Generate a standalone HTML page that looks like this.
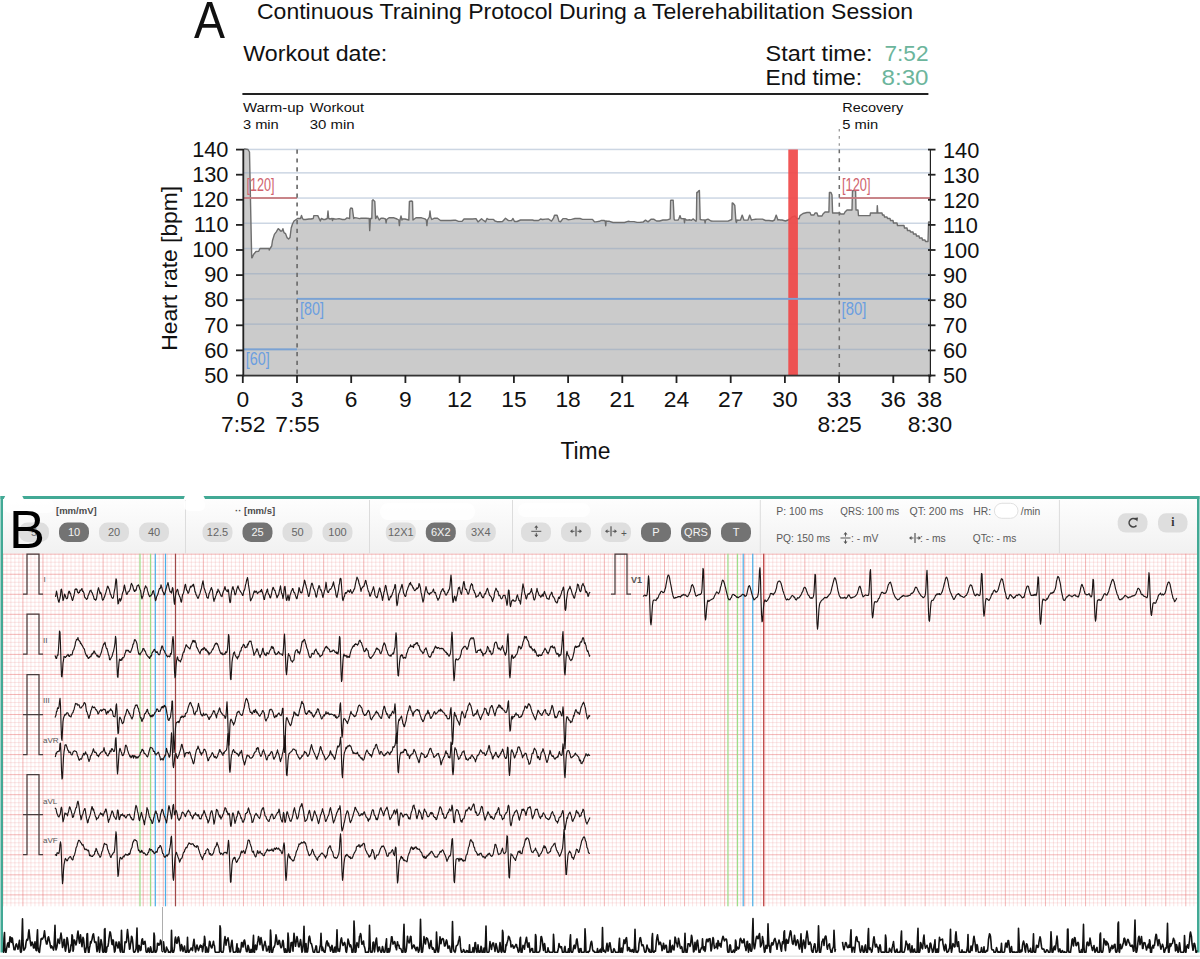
<!DOCTYPE html>
<html><head><meta charset="utf-8"><style>
html,body{margin:0;padding:0;background:#fff;}
body{width:1200px;height:959px;overflow:hidden;position:relative;}
svg{position:absolute;left:0;top:0;font-family:"Liberation Sans", sans-serif;}
</style></head><body>
<svg width="1200" height="959" viewBox="0 0 1200 959" fill="#111">
<g id="A">
<text x="194" y="38" font-size="51.5" textLength="31" lengthAdjust="spacingAndGlyphs">A</text>
<text x="257" y="18.7" font-size="22.3" textLength="656" lengthAdjust="spacingAndGlyphs">Continuous Training Protocol During a Telerehabilitation Session</text>
<text x="243.3" y="61.3" font-size="21.8" textLength="144" lengthAdjust="spacingAndGlyphs">Workout date:</text>
<text x="765.5" y="61" font-size="21.8" textLength="107" lengthAdjust="spacingAndGlyphs">Start time:</text>
<text x="884.5" y="61" font-size="21.8" fill="#6cb59c" textLength="44" lengthAdjust="spacingAndGlyphs">7:52</text>
<text x="765.5" y="85" font-size="21.8" textLength="96.5" lengthAdjust="spacingAndGlyphs">End time:</text>
<text x="881.5" y="85" font-size="21.8" fill="#6cb59c" textLength="47" lengthAdjust="spacingAndGlyphs">8:30</text>
<rect x="242.4" y="93" width="686" height="2" fill="#222"/>
<text x="242.9" y="111.6" font-size="13" textLength="61" lengthAdjust="spacingAndGlyphs">Warm-up</text>
<text x="242.9" y="129.1" font-size="13" textLength="35.9" lengthAdjust="spacingAndGlyphs">3 min</text>
<text x="309.8" y="111.6" font-size="13" textLength="54.2" lengthAdjust="spacingAndGlyphs">Workout</text>
<text x="309.8" y="129.1" font-size="13" textLength="44.9" lengthAdjust="spacingAndGlyphs">30 min</text>
<text x="842.3" y="111.6" font-size="13" textLength="61" lengthAdjust="spacingAndGlyphs">Recovery</text>
<text x="842.3" y="129.1" font-size="13" textLength="36" lengthAdjust="spacingAndGlyphs">5 min</text>
<path d="M243,375.5 L243.5,149.0 L245.0,149.0 L248.0,149.5 L249.5,152.0 L251.3,240.0 L251.7,257.7 L252.2,257.7 L253.5,254.5 L256.0,251.5 L258.7,251.2 L260.0,248.5 L269.0,248.5 L269.3,250.0 L270.0,248.5 L271.7,246.0 L272.5,240.5 L274.4,234.4 L276.3,231.8 L278.2,228.7 L279.4,229.5 L280.5,231.0 L282.0,231.0 L282.9,228.7 L284.0,232.6 L285.5,233.6 L287.0,237.6 L288.6,239.0 L290.0,237.6 L291.2,228.0 L292.5,224.0 L294.0,221.0 L296.5,219.2 L297.5,218.5 L297.5,218.5 L300.5,218.5 L301.5,215.5 L302.5,218.5 L303.5,219.5 L305.5,219.5 L309.0,219.0 L311.0,219.0 L313.3,218.5 L313.8,215.6 L317.8,215.6 L320.3,221.0 L321.3,218.5 L323.5,219.5 L325.0,219.5 L327.3,218.5 L328.0,211.0 L328.7,218.5 L330.0,219.0 L332.0,218.5 L332.5,220.6 L333.0,218.5 L333.5,218.8 L336.0,219.1 L339.0,218.6 L342.5,219.5 L345.0,219.5 L347.0,217.9 L349.6,218.5 L350.0,209.5 L350.8,208.0 L352.4,208.5 L353.7,218.5 L354.5,217.8 L356.5,217.9 L359.5,218.6 L361.0,218.2 L363.5,218.2 L366.0,218.2 L369.2,218.5 L369.7,230.6 L370.4,218.5 L371.8,218.5 L372.2,200.5 L373.0,199.8 L374.8,201.5 L375.6,218.5 L377.2,216.0 L379.2,220.0 L381.0,218.2 L383.0,218.2 L385.5,219.0 L386.1,223.0 L386.7,219.5 L389.0,217.8 L392.5,217.8 L394.0,217.8 L397.0,219.0 L398.8,220.0 L399.4,225.6 L400.0,220.0 L401.0,216.0 L402.0,220.0 L402.5,219.0 L405.0,219.0 L408.8,220.0 L409.4,201.5 L411.2,201.0 L412.5,201.5 L413.0,220.0 L416.0,217.8 L418.5,217.8 L421.5,217.8 L425.0,218.9 L426.3,220.0 L426.9,225.6 L427.5,220.0 L429.3,217.0 L430.0,211.0 L430.7,217.0 L431.8,219.5 L434.0,218.3 L437.5,218.3 L440.5,220.5 L443.5,220.5 L445.0,220.5 L447.5,220.5 L450.5,220.5 L454.0,220.2 L455.5,220.2 L458.5,221.4 L462.0,221.4 L464.0,219.0 L465.5,219.0 L468.5,219.0 L470.0,219.0 L472.5,219.0 L476.0,218.6 L478.0,221.9 L481.5,218.7 L483.0,220.0 L485.5,221.9 L487.0,218.5 L488.5,219.4 L490.0,219.4 L493.5,219.4 L495.0,221.0 L497.0,221.7 L499.5,221.7 L502.5,221.5 L505.5,218.3 L508.5,220.6 L511.5,220.6 L513.0,218.5 L514.5,221.5 L517.0,221.5 L520.5,220.0 L524.0,220.0 L527.5,220.0 L531.0,220.0 L532.5,220.0 L534.0,220.5 L537.0,220.5 L538.5,220.5 L540.5,219.0 L542.5,219.5 L545.5,219.1 L548.5,219.0 L551.5,221.1 L553.5,218.2 L554.5,215.2 L557.1,215.2 L558.1,218.2 L559.0,221.4 L560.5,221.8 L563.0,218.6 L566.0,218.6 L568.0,219.7 L571.5,219.4 L575.0,218.5 L576.5,218.5 L580.0,218.5 L582.5,219.4 L586.0,219.4 L588.0,219.4 L590.0,219.4 L592.5,219.4 L594.5,221.9 L596.0,221.9 L599.5,221.3 L601.0,220.5 L604.0,220.5 L605.2,221.0 L605.7,225.7 L606.2,221.0 L607.0,221.3 L609.5,221.3 L613.0,222.5 L615.0,222.5 L617.0,222.5 L620.0,222.5 L623.0,222.5 L624.5,222.5 L628.0,221.3 L630.5,221.6 L632.5,221.6 L634.0,221.6 L637.0,222.4 L640.5,222.3 L643.0,222.1 L645.5,220.1 L648.0,221.9 L651.0,219.3 L652.5,219.3 L654.0,219.3 L656.5,221.0 L659.5,221.0 L663.0,220.0 L666.0,220.0 L667.5,219.9 L670.2,218.8 L670.6,200.5 L671.4,200.1 L673.2,200.3 L674.1,218.8 L674.5,220.1 L678.0,220.1 L679.0,218.5 L680.0,215.6 L681.0,218.5 L684.0,218.8 L684.5,222.7 L685.0,218.8 L686.5,220.1 L690.0,219.8 L691.5,220.3 L693.0,218.9 L696.0,221.2 L696.4,219.5 L696.8,192.5 L697.4,192.5 L698.8,190.8 L699.4,190.5 L700.2,219.5 L702.0,219.9 L704.6,220.0 L705.1,223.0 L705.6,220.0 L708.0,219.1 L711.0,221.0 L713.0,221.1 L714.5,221.1 L716.5,221.1 L719.0,221.1 L721.5,221.1 L724.5,221.1 L728.0,221.1 L731.8,219.5 L732.2,203.0 L733.3,203.5 L734.8,205.5 L735.9,221.0 L736.4,222.5 L737.0,220.0 L738.0,220.3 L740.5,220.0 L742.2,215.1 L743.9,220.0 L745.0,220.1 L748.0,220.0 L749.7,215.1 L751.4,220.0 L753.0,219.6 L755.5,219.3 L757.5,219.1 L759.5,219.1 L761.0,219.1 L762.5,219.1 L765.5,220.5 L767.5,220.5 L769.0,220.5 L772.5,221.0 L774.5,220.0 L776.2,215.1 L777.9,220.0 L778.5,219.6 L780.5,220.0 L782.0,220.0 L785.5,221.0 L788.0,220.0 L790.0,219.0 L792.0,217.0 L795.0,216.0 L797.0,218.7 L799.0,218.7 L800.0,215.6 L803.0,213.5 L807.0,212.5 L810.0,212.5 L811.0,215.0 L814.0,215.0 L815.0,213.0 L817.0,213.0 L818.0,216.0 L822.0,216.0 L823.0,214.0 L825.0,212.0 L828.9,212.0 L829.4,192.5 L831.0,192.5 L832.0,195.0 L832.6,213.0 L840.0,213.0 L840.5,214.0 L844.0,214.0 L845.0,212.0 L847.0,210.0 L852.0,210.0 L852.5,190.6 L855.6,190.6 L856.0,210.0 L858.0,210.0 L858.5,215.6 L870.0,215.6 L870.5,213.0 L877.0,213.0 L877.3,205.6 L877.8,213.0 L882.0,213.0 L882.5,215.0 L884.0,215.0 L884.5,217.0 L887.0,217.0 L887.5,218.5 L890.0,218.5 L890.5,220.5 L893.0,220.5 L893.5,223.0 L897.0,223.0 L897.5,225.5 L904.0,225.5 L904.5,228.0 L907.0,228.0 L907.5,230.5 L910.0,230.5 L910.5,232.0 L913.0,232.0 L913.5,234.0 L916.0,234.0 L916.5,236.0 L919.0,236.0 L919.5,238.0 L922.0,238.0 L922.5,240.0 L925.0,240.0 L925.5,241.5 L928.0,241.5 L928.6,222.0 L930.0,222.0 L930,375.5 Z" fill="#cbcbcb"/>
<rect x="243" y="148.7" width="687" height="1.5" fill="#8ea4c0" opacity="0.45"/>
<rect x="243" y="172.1" width="687" height="1.5" fill="#8ea4c0" opacity="0.45"/>
<rect x="243" y="197.3" width="687" height="1.5" fill="#8ea4c0" opacity="0.45"/>
<rect x="243" y="222.5" width="687" height="1.5" fill="#8ea4c0" opacity="0.45"/>
<rect x="243" y="247.8" width="687" height="1.5" fill="#8ea4c0" opacity="0.45"/>
<rect x="243" y="273.0" width="687" height="1.5" fill="#8ea4c0" opacity="0.45"/>
<rect x="243" y="298.2" width="687" height="1.5" fill="#8ea4c0" opacity="0.45"/>
<rect x="243" y="323.4" width="687" height="1.5" fill="#8ea4c0" opacity="0.45"/>
<rect x="243" y="348.7" width="687" height="1.5" fill="#8ea4c0" opacity="0.45"/>
<path d="M243.5,149.0 L245.0,149.0 L248.0,149.5 L249.5,152.0 L251.3,240.0 L251.7,257.7 L252.2,257.7 L253.5,254.5 L256.0,251.5 L258.7,251.2 L260.0,248.5 L269.0,248.5 L269.3,250.0 L270.0,248.5 L271.7,246.0 L272.5,240.5 L274.4,234.4 L276.3,231.8 L278.2,228.7 L279.4,229.5 L280.5,231.0 L282.0,231.0 L282.9,228.7 L284.0,232.6 L285.5,233.6 L287.0,237.6 L288.6,239.0 L290.0,237.6 L291.2,228.0 L292.5,224.0 L294.0,221.0 L296.5,219.2 L297.5,218.5 L297.5,218.5 L300.5,218.5 L301.5,215.5 L302.5,218.5 L303.5,219.5 L305.5,219.5 L309.0,219.0 L311.0,219.0 L313.3,218.5 L313.8,215.6 L317.8,215.6 L320.3,221.0 L321.3,218.5 L323.5,219.5 L325.0,219.5 L327.3,218.5 L328.0,211.0 L328.7,218.5 L330.0,219.0 L332.0,218.5 L332.5,220.6 L333.0,218.5 L333.5,218.8 L336.0,219.1 L339.0,218.6 L342.5,219.5 L345.0,219.5 L347.0,217.9 L349.6,218.5 L350.0,209.5 L350.8,208.0 L352.4,208.5 L353.7,218.5 L354.5,217.8 L356.5,217.9 L359.5,218.6 L361.0,218.2 L363.5,218.2 L366.0,218.2 L369.2,218.5 L369.7,230.6 L370.4,218.5 L371.8,218.5 L372.2,200.5 L373.0,199.8 L374.8,201.5 L375.6,218.5 L377.2,216.0 L379.2,220.0 L381.0,218.2 L383.0,218.2 L385.5,219.0 L386.1,223.0 L386.7,219.5 L389.0,217.8 L392.5,217.8 L394.0,217.8 L397.0,219.0 L398.8,220.0 L399.4,225.6 L400.0,220.0 L401.0,216.0 L402.0,220.0 L402.5,219.0 L405.0,219.0 L408.8,220.0 L409.4,201.5 L411.2,201.0 L412.5,201.5 L413.0,220.0 L416.0,217.8 L418.5,217.8 L421.5,217.8 L425.0,218.9 L426.3,220.0 L426.9,225.6 L427.5,220.0 L429.3,217.0 L430.0,211.0 L430.7,217.0 L431.8,219.5 L434.0,218.3 L437.5,218.3 L440.5,220.5 L443.5,220.5 L445.0,220.5 L447.5,220.5 L450.5,220.5 L454.0,220.2 L455.5,220.2 L458.5,221.4 L462.0,221.4 L464.0,219.0 L465.5,219.0 L468.5,219.0 L470.0,219.0 L472.5,219.0 L476.0,218.6 L478.0,221.9 L481.5,218.7 L483.0,220.0 L485.5,221.9 L487.0,218.5 L488.5,219.4 L490.0,219.4 L493.5,219.4 L495.0,221.0 L497.0,221.7 L499.5,221.7 L502.5,221.5 L505.5,218.3 L508.5,220.6 L511.5,220.6 L513.0,218.5 L514.5,221.5 L517.0,221.5 L520.5,220.0 L524.0,220.0 L527.5,220.0 L531.0,220.0 L532.5,220.0 L534.0,220.5 L537.0,220.5 L538.5,220.5 L540.5,219.0 L542.5,219.5 L545.5,219.1 L548.5,219.0 L551.5,221.1 L553.5,218.2 L554.5,215.2 L557.1,215.2 L558.1,218.2 L559.0,221.4 L560.5,221.8 L563.0,218.6 L566.0,218.6 L568.0,219.7 L571.5,219.4 L575.0,218.5 L576.5,218.5 L580.0,218.5 L582.5,219.4 L586.0,219.4 L588.0,219.4 L590.0,219.4 L592.5,219.4 L594.5,221.9 L596.0,221.9 L599.5,221.3 L601.0,220.5 L604.0,220.5 L605.2,221.0 L605.7,225.7 L606.2,221.0 L607.0,221.3 L609.5,221.3 L613.0,222.5 L615.0,222.5 L617.0,222.5 L620.0,222.5 L623.0,222.5 L624.5,222.5 L628.0,221.3 L630.5,221.6 L632.5,221.6 L634.0,221.6 L637.0,222.4 L640.5,222.3 L643.0,222.1 L645.5,220.1 L648.0,221.9 L651.0,219.3 L652.5,219.3 L654.0,219.3 L656.5,221.0 L659.5,221.0 L663.0,220.0 L666.0,220.0 L667.5,219.9 L670.2,218.8 L670.6,200.5 L671.4,200.1 L673.2,200.3 L674.1,218.8 L674.5,220.1 L678.0,220.1 L679.0,218.5 L680.0,215.6 L681.0,218.5 L684.0,218.8 L684.5,222.7 L685.0,218.8 L686.5,220.1 L690.0,219.8 L691.5,220.3 L693.0,218.9 L696.0,221.2 L696.4,219.5 L696.8,192.5 L697.4,192.5 L698.8,190.8 L699.4,190.5 L700.2,219.5 L702.0,219.9 L704.6,220.0 L705.1,223.0 L705.6,220.0 L708.0,219.1 L711.0,221.0 L713.0,221.1 L714.5,221.1 L716.5,221.1 L719.0,221.1 L721.5,221.1 L724.5,221.1 L728.0,221.1 L731.8,219.5 L732.2,203.0 L733.3,203.5 L734.8,205.5 L735.9,221.0 L736.4,222.5 L737.0,220.0 L738.0,220.3 L740.5,220.0 L742.2,215.1 L743.9,220.0 L745.0,220.1 L748.0,220.0 L749.7,215.1 L751.4,220.0 L753.0,219.6 L755.5,219.3 L757.5,219.1 L759.5,219.1 L761.0,219.1 L762.5,219.1 L765.5,220.5 L767.5,220.5 L769.0,220.5 L772.5,221.0 L774.5,220.0 L776.2,215.1 L777.9,220.0 L778.5,219.6 L780.5,220.0 L782.0,220.0 L785.5,221.0 L788.0,220.0 L790.0,219.0 L792.0,217.0 L795.0,216.0 L797.0,218.7 L799.0,218.7 L800.0,215.6 L803.0,213.5 L807.0,212.5 L810.0,212.5 L811.0,215.0 L814.0,215.0 L815.0,213.0 L817.0,213.0 L818.0,216.0 L822.0,216.0 L823.0,214.0 L825.0,212.0 L828.9,212.0 L829.4,192.5 L831.0,192.5 L832.0,195.0 L832.6,213.0 L840.0,213.0 L840.5,214.0 L844.0,214.0 L845.0,212.0 L847.0,210.0 L852.0,210.0 L852.5,190.6 L855.6,190.6 L856.0,210.0 L858.0,210.0 L858.5,215.6 L870.0,215.6 L870.5,213.0 L877.0,213.0 L877.3,205.6 L877.8,213.0 L882.0,213.0 L882.5,215.0 L884.0,215.0 L884.5,217.0 L887.0,217.0 L887.5,218.5 L890.0,218.5 L890.5,220.5 L893.0,220.5 L893.5,223.0 L897.0,223.0 L897.5,225.5 L904.0,225.5 L904.5,228.0 L907.0,228.0 L907.5,230.5 L910.0,230.5 L910.5,232.0 L913.0,232.0 L913.5,234.0 L916.0,234.0 L916.5,236.0 L919.0,236.0 L919.5,238.0 L922.0,238.0 L922.5,240.0 L925.0,240.0 L925.5,241.5 L928.0,241.5 L928.6,222.0 L930.0,222.0" fill="none" stroke="#6e6e6e" stroke-width="1.4" stroke-linejoin="round"/>
<rect x="788.3" y="149.5" width="9.6" height="226" fill="#f04848" opacity="0.92"/>
<rect x="243" y="197.1" width="54" height="1.8" fill="#c77b7f"/>
<rect x="839.4" y="197.1" width="91" height="1.8" fill="#c77b7f"/>
<rect x="297" y="297.9" width="633" height="1.9" fill="#7aa2d4"/>
<rect x="243" y="348.4" width="54" height="1.9" fill="#7aa2d4"/>
<text x="246.5" y="190.75" font-size="17.8" fill="#d0646e" textLength="28" lengthAdjust="spacingAndGlyphs">[120]</text>
<text x="842" y="190.5" font-size="17.8" fill="#d0646e" textLength="28.5" lengthAdjust="spacingAndGlyphs">[120]</text>
<text x="300" y="314.7" font-size="17.8" fill="#6a9ee0" textLength="24" lengthAdjust="spacingAndGlyphs">[80]</text>
<text x="841.5" y="315" font-size="17.8" fill="#6a9ee0" textLength="24.9" lengthAdjust="spacingAndGlyphs">[80]</text>
<text x="245.7" y="365.3" font-size="17.8" fill="#6a9ee0" textLength="24" lengthAdjust="spacingAndGlyphs">[60]</text>
<line x1="297.1" y1="149.6" x2="297.1" y2="375" stroke="#6e6e6e" stroke-width="1.7" stroke-dasharray="4.2,4.6"/>
<line x1="839.3" y1="149.4" x2="839.3" y2="375" stroke="#6e6e6e" stroke-width="1.5" stroke-dasharray="3.9,5.0"/>
<line x1="839.3" y1="129" x2="839.3" y2="148" stroke="#9a9a9a" stroke-width="1.3" stroke-dasharray="2.6,4.5"/>
<rect x="242.4" y="149" width="1.8" height="227.5" fill="#222"/>
<rect x="929.8" y="149" width="1.2" height="227.5" fill="#222"/>
<rect x="242.4" y="374.7" width="689" height="1.8" fill="#333"/>
<rect x="236" y="148.7" width="7" height="1.8" fill="#222"/>
<rect x="928" y="148.7" width="7.5" height="1.8" fill="#222"/>
<text x="228.5" y="156.8" font-size="21.8" text-anchor="end">140</text>
<text x="943" y="157.5" font-size="21.8">140</text>
<rect x="236" y="173.8" width="7" height="1.8" fill="#222"/>
<rect x="928" y="173.8" width="7.5" height="1.8" fill="#222"/>
<text x="228.5" y="181.9" font-size="21.8" text-anchor="end">130</text>
<text x="943" y="182.6" font-size="21.8">130</text>
<rect x="236" y="198.9" width="7" height="1.8" fill="#222"/>
<rect x="928" y="198.9" width="7.5" height="1.8" fill="#222"/>
<text x="228.5" y="207.0" font-size="21.8" text-anchor="end">120</text>
<text x="943" y="207.7" font-size="21.8">120</text>
<rect x="236" y="224.0" width="7" height="1.8" fill="#222"/>
<rect x="928" y="224.0" width="7.5" height="1.8" fill="#222"/>
<text x="228.5" y="232.1" font-size="21.8" text-anchor="end">110</text>
<text x="943" y="232.8" font-size="21.8">110</text>
<rect x="236" y="249.1" width="7" height="1.8" fill="#222"/>
<rect x="928" y="249.1" width="7.5" height="1.8" fill="#222"/>
<text x="228.5" y="257.2" font-size="21.8" text-anchor="end">100</text>
<text x="943" y="257.9" font-size="21.8">100</text>
<rect x="236" y="274.2" width="7" height="1.8" fill="#222"/>
<rect x="928" y="274.2" width="7.5" height="1.8" fill="#222"/>
<text x="228.5" y="282.3" font-size="21.8" text-anchor="end">90</text>
<text x="943" y="283.0" font-size="21.8">90</text>
<rect x="236" y="299.3" width="7" height="1.8" fill="#222"/>
<rect x="928" y="299.3" width="7.5" height="1.8" fill="#222"/>
<text x="228.5" y="307.4" font-size="21.8" text-anchor="end">80</text>
<text x="943" y="308.1" font-size="21.8">80</text>
<rect x="236" y="324.4" width="7" height="1.8" fill="#222"/>
<rect x="928" y="324.4" width="7.5" height="1.8" fill="#222"/>
<text x="228.5" y="332.5" font-size="21.8" text-anchor="end">70</text>
<text x="943" y="333.2" font-size="21.8">70</text>
<rect x="236" y="349.5" width="7" height="1.8" fill="#222"/>
<rect x="928" y="349.5" width="7.5" height="1.8" fill="#222"/>
<text x="228.5" y="357.6" font-size="21.8" text-anchor="end">60</text>
<text x="943" y="358.3" font-size="21.8">60</text>
<rect x="236" y="374.6" width="7" height="1.8" fill="#222"/>
<rect x="928" y="374.6" width="7.5" height="1.8" fill="#222"/>
<text x="228.5" y="382.7" font-size="21.8" text-anchor="end">50</text>
<text x="943" y="383.4" font-size="21.8">50</text>
<rect x="241.9" y="375" width="1.8" height="8" fill="#222"/>
<text x="242.8" y="407" font-size="22.8" text-anchor="middle">0</text>
<rect x="296.1" y="375" width="1.8" height="8" fill="#222"/>
<text x="297.0" y="407" font-size="22.8" text-anchor="middle">3</text>
<rect x="350.3" y="375" width="1.8" height="8" fill="#222"/>
<text x="351.2" y="407" font-size="22.8" text-anchor="middle">6</text>
<rect x="404.5" y="375" width="1.8" height="8" fill="#222"/>
<text x="405.4" y="407" font-size="22.8" text-anchor="middle">9</text>
<rect x="458.7" y="375" width="1.8" height="8" fill="#222"/>
<text x="459.6" y="407" font-size="22.8" text-anchor="middle">12</text>
<rect x="513.0" y="375" width="1.8" height="8" fill="#222"/>
<text x="513.9" y="407" font-size="22.8" text-anchor="middle">15</text>
<rect x="567.2" y="375" width="1.8" height="8" fill="#222"/>
<text x="568.1" y="407" font-size="22.8" text-anchor="middle">18</text>
<rect x="621.4" y="375" width="1.8" height="8" fill="#222"/>
<text x="622.3" y="407" font-size="22.8" text-anchor="middle">21</text>
<rect x="675.6" y="375" width="1.8" height="8" fill="#222"/>
<text x="676.5" y="407" font-size="22.8" text-anchor="middle">24</text>
<rect x="729.8" y="375" width="1.8" height="8" fill="#222"/>
<text x="730.7" y="407" font-size="22.8" text-anchor="middle">27</text>
<rect x="784.0" y="375" width="1.8" height="8" fill="#222"/>
<text x="784.9" y="407" font-size="22.8" text-anchor="middle">30</text>
<rect x="838.2" y="375" width="1.8" height="8" fill="#222"/>
<text x="839.1" y="407" font-size="22.8" text-anchor="middle">33</text>
<rect x="892.4" y="375" width="1.8" height="8" fill="#222"/>
<text x="893.3" y="407" font-size="22.8" text-anchor="middle">36</text>
<rect x="928.6" y="375" width="1.8" height="8" fill="#222"/>
<text x="929.5" y="407" font-size="22.8" text-anchor="middle">38</text>
<text x="243.3" y="431.5" font-size="22.8" text-anchor="middle">7:52</text>
<text x="297.5" y="431.5" font-size="22.8" text-anchor="middle">7:55</text>
<text x="839.6" y="431.5" font-size="22.8" text-anchor="middle">8:25</text>
<text x="930.0" y="431.5" font-size="22.8" text-anchor="middle">8:30</text>
<text x="560.4" y="458.75" font-size="23" textLength="50" lengthAdjust="spacingAndGlyphs">Time</text>
<text transform="translate(177.3,268.3) rotate(-90)" font-size="22.3" text-anchor="middle" textLength="165" lengthAdjust="spacingAndGlyphs">Heart rate [bpm]</text>
</g>
<g id="B">
<defs><linearGradient id="tb" x1="0" y1="0" x2="0" y2="1"><stop offset="0" stop-color="#fefefe"/><stop offset="1" stop-color="#f1f1f1"/></linearGradient><pattern id="gmin" x="2.94" y="553.7" width="4.012" height="4.012" patternUnits="userSpaceOnUse"><rect width="4.012" height="4.012" fill="#fff"/><rect width="1" height="4.012" fill="#fde1e4"/><rect width="4.012" height="1" fill="#fde1e4"/></pattern><pattern id="gmaj" x="2.34" y="553.10" width="20.06" height="20.06" patternUnits="userSpaceOnUse"><rect width="1.1" height="20.06" fill="#f3939b"/><rect width="20.06" height="1.1" fill="#f3939b"/></pattern></defs>
<rect x="2" y="498" width="1196" height="56" fill="url(#tb)"/>
<rect x="3" y="553.7" width="1194" height="352.6" fill="#fff"/>
<g fill="#ee9a9c" fill-opacity="0.25"><rect x="6.36" y="553.7" width="1" height="352.6"/><rect x="10.37" y="553.7" width="1" height="352.6"/><rect x="14.38" y="553.7" width="1" height="352.6"/><rect x="18.39" y="553.7" width="1" height="352.6"/><rect x="26.41" y="553.7" width="1" height="352.6"/><rect x="30.42" y="553.7" width="1" height="352.6"/><rect x="34.43" y="553.7" width="1" height="352.6"/><rect x="38.44" y="553.7" width="1" height="352.6"/><rect x="46.46" y="553.7" width="1" height="352.6"/><rect x="50.47" y="553.7" width="1" height="352.6"/><rect x="54.48" y="553.7" width="1" height="352.6"/><rect x="58.49" y="553.7" width="1" height="352.6"/><rect x="66.51" y="553.7" width="1" height="352.6"/><rect x="70.52" y="553.7" width="1" height="352.6"/><rect x="74.53" y="553.7" width="1" height="352.6"/><rect x="78.54" y="553.7" width="1" height="352.6"/><rect x="86.56" y="553.7" width="1" height="352.6"/><rect x="90.57" y="553.7" width="1" height="352.6"/><rect x="94.58" y="553.7" width="1" height="352.6"/><rect x="98.59" y="553.7" width="1" height="352.6"/><rect x="106.61" y="553.7" width="1" height="352.6"/><rect x="110.62" y="553.7" width="1" height="352.6"/><rect x="114.63" y="553.7" width="1" height="352.6"/><rect x="118.64" y="553.7" width="1" height="352.6"/><rect x="126.66" y="553.7" width="1" height="352.6"/><rect x="130.67" y="553.7" width="1" height="352.6"/><rect x="134.68" y="553.7" width="1" height="352.6"/><rect x="138.69" y="553.7" width="1" height="352.6"/><rect x="146.71" y="553.7" width="1" height="352.6"/><rect x="150.72" y="553.7" width="1" height="352.6"/><rect x="154.73" y="553.7" width="1" height="352.6"/><rect x="158.74" y="553.7" width="1" height="352.6"/><rect x="166.76" y="553.7" width="1" height="352.6"/><rect x="170.77" y="553.7" width="1" height="352.6"/><rect x="174.78" y="553.7" width="1" height="352.6"/><rect x="178.79" y="553.7" width="1" height="352.6"/><rect x="186.81" y="553.7" width="1" height="352.6"/><rect x="190.82" y="553.7" width="1" height="352.6"/><rect x="194.83" y="553.7" width="1" height="352.6"/><rect x="198.84" y="553.7" width="1" height="352.6"/><rect x="206.86" y="553.7" width="1" height="352.6"/><rect x="210.87" y="553.7" width="1" height="352.6"/><rect x="214.88" y="553.7" width="1" height="352.6"/><rect x="218.89" y="553.7" width="1" height="352.6"/><rect x="226.91" y="553.7" width="1" height="352.6"/><rect x="230.92" y="553.7" width="1" height="352.6"/><rect x="234.93" y="553.7" width="1" height="352.6"/><rect x="238.94" y="553.7" width="1" height="352.6"/><rect x="246.96" y="553.7" width="1" height="352.6"/><rect x="250.97" y="553.7" width="1" height="352.6"/><rect x="254.98" y="553.7" width="1" height="352.6"/><rect x="258.99" y="553.7" width="1" height="352.6"/><rect x="267.01" y="553.7" width="1" height="352.6"/><rect x="271.02" y="553.7" width="1" height="352.6"/><rect x="275.03" y="553.7" width="1" height="352.6"/><rect x="279.04" y="553.7" width="1" height="352.6"/><rect x="287.06" y="553.7" width="1" height="352.6"/><rect x="291.07" y="553.7" width="1" height="352.6"/><rect x="295.08" y="553.7" width="1" height="352.6"/><rect x="299.09" y="553.7" width="1" height="352.6"/><rect x="307.11" y="553.7" width="1" height="352.6"/><rect x="311.12" y="553.7" width="1" height="352.6"/><rect x="315.13" y="553.7" width="1" height="352.6"/><rect x="319.14" y="553.7" width="1" height="352.6"/><rect x="327.16" y="553.7" width="1" height="352.6"/><rect x="331.17" y="553.7" width="1" height="352.6"/><rect x="335.18" y="553.7" width="1" height="352.6"/><rect x="339.19" y="553.7" width="1" height="352.6"/><rect x="347.21" y="553.7" width="1" height="352.6"/><rect x="351.22" y="553.7" width="1" height="352.6"/><rect x="355.23" y="553.7" width="1" height="352.6"/><rect x="359.24" y="553.7" width="1" height="352.6"/><rect x="367.26" y="553.7" width="1" height="352.6"/><rect x="371.27" y="553.7" width="1" height="352.6"/><rect x="375.28" y="553.7" width="1" height="352.6"/><rect x="379.29" y="553.7" width="1" height="352.6"/><rect x="387.31" y="553.7" width="1" height="352.6"/><rect x="391.32" y="553.7" width="1" height="352.6"/><rect x="395.33" y="553.7" width="1" height="352.6"/><rect x="399.34" y="553.7" width="1" height="352.6"/><rect x="407.36" y="553.7" width="1" height="352.6"/><rect x="411.37" y="553.7" width="1" height="352.6"/><rect x="415.38" y="553.7" width="1" height="352.6"/><rect x="419.39" y="553.7" width="1" height="352.6"/><rect x="427.41" y="553.7" width="1" height="352.6"/><rect x="431.42" y="553.7" width="1" height="352.6"/><rect x="435.43" y="553.7" width="1" height="352.6"/><rect x="439.44" y="553.7" width="1" height="352.6"/><rect x="447.46" y="553.7" width="1" height="352.6"/><rect x="451.47" y="553.7" width="1" height="352.6"/><rect x="455.48" y="553.7" width="1" height="352.6"/><rect x="459.49" y="553.7" width="1" height="352.6"/><rect x="467.51" y="553.7" width="1" height="352.6"/><rect x="471.52" y="553.7" width="1" height="352.6"/><rect x="475.53" y="553.7" width="1" height="352.6"/><rect x="479.54" y="553.7" width="1" height="352.6"/><rect x="487.56" y="553.7" width="1" height="352.6"/><rect x="491.57" y="553.7" width="1" height="352.6"/><rect x="495.58" y="553.7" width="1" height="352.6"/><rect x="499.59" y="553.7" width="1" height="352.6"/><rect x="507.61" y="553.7" width="1" height="352.6"/><rect x="511.62" y="553.7" width="1" height="352.6"/><rect x="515.63" y="553.7" width="1" height="352.6"/><rect x="519.64" y="553.7" width="1" height="352.6"/><rect x="527.66" y="553.7" width="1" height="352.6"/><rect x="531.67" y="553.7" width="1" height="352.6"/><rect x="535.68" y="553.7" width="1" height="352.6"/><rect x="539.69" y="553.7" width="1" height="352.6"/><rect x="547.71" y="553.7" width="1" height="352.6"/><rect x="551.72" y="553.7" width="1" height="352.6"/><rect x="555.73" y="553.7" width="1" height="352.6"/><rect x="559.74" y="553.7" width="1" height="352.6"/><rect x="567.76" y="553.7" width="1" height="352.6"/><rect x="571.77" y="553.7" width="1" height="352.6"/><rect x="575.78" y="553.7" width="1" height="352.6"/><rect x="579.79" y="553.7" width="1" height="352.6"/><rect x="587.81" y="553.7" width="1" height="352.6"/><rect x="591.82" y="553.7" width="1" height="352.6"/><rect x="595.83" y="553.7" width="1" height="352.6"/><rect x="599.84" y="553.7" width="1" height="352.6"/><rect x="607.86" y="553.7" width="1" height="352.6"/><rect x="611.87" y="553.7" width="1" height="352.6"/><rect x="615.88" y="553.7" width="1" height="352.6"/><rect x="619.89" y="553.7" width="1" height="352.6"/><rect x="627.91" y="553.7" width="1" height="352.6"/><rect x="631.92" y="553.7" width="1" height="352.6"/><rect x="635.93" y="553.7" width="1" height="352.6"/><rect x="639.94" y="553.7" width="1" height="352.6"/><rect x="647.96" y="553.7" width="1" height="352.6"/><rect x="651.97" y="553.7" width="1" height="352.6"/><rect x="655.98" y="553.7" width="1" height="352.6"/><rect x="659.99" y="553.7" width="1" height="352.6"/><rect x="668.01" y="553.7" width="1" height="352.6"/><rect x="672.02" y="553.7" width="1" height="352.6"/><rect x="676.03" y="553.7" width="1" height="352.6"/><rect x="680.04" y="553.7" width="1" height="352.6"/><rect x="688.06" y="553.7" width="1" height="352.6"/><rect x="692.07" y="553.7" width="1" height="352.6"/><rect x="696.08" y="553.7" width="1" height="352.6"/><rect x="700.09" y="553.7" width="1" height="352.6"/><rect x="708.11" y="553.7" width="1" height="352.6"/><rect x="712.12" y="553.7" width="1" height="352.6"/><rect x="716.13" y="553.7" width="1" height="352.6"/><rect x="720.14" y="553.7" width="1" height="352.6"/><rect x="728.16" y="553.7" width="1" height="352.6"/><rect x="732.17" y="553.7" width="1" height="352.6"/><rect x="736.18" y="553.7" width="1" height="352.6"/><rect x="740.19" y="553.7" width="1" height="352.6"/><rect x="748.21" y="553.7" width="1" height="352.6"/><rect x="752.22" y="553.7" width="1" height="352.6"/><rect x="756.23" y="553.7" width="1" height="352.6"/><rect x="760.24" y="553.7" width="1" height="352.6"/><rect x="768.26" y="553.7" width="1" height="352.6"/><rect x="772.27" y="553.7" width="1" height="352.6"/><rect x="776.28" y="553.7" width="1" height="352.6"/><rect x="780.29" y="553.7" width="1" height="352.6"/><rect x="788.31" y="553.7" width="1" height="352.6"/><rect x="792.32" y="553.7" width="1" height="352.6"/><rect x="796.33" y="553.7" width="1" height="352.6"/><rect x="800.34" y="553.7" width="1" height="352.6"/><rect x="808.36" y="553.7" width="1" height="352.6"/><rect x="812.37" y="553.7" width="1" height="352.6"/><rect x="816.38" y="553.7" width="1" height="352.6"/><rect x="820.39" y="553.7" width="1" height="352.6"/><rect x="828.41" y="553.7" width="1" height="352.6"/><rect x="832.42" y="553.7" width="1" height="352.6"/><rect x="836.43" y="553.7" width="1" height="352.6"/><rect x="840.44" y="553.7" width="1" height="352.6"/><rect x="848.46" y="553.7" width="1" height="352.6"/><rect x="852.47" y="553.7" width="1" height="352.6"/><rect x="856.48" y="553.7" width="1" height="352.6"/><rect x="860.49" y="553.7" width="1" height="352.6"/><rect x="868.51" y="553.7" width="1" height="352.6"/><rect x="872.52" y="553.7" width="1" height="352.6"/><rect x="876.53" y="553.7" width="1" height="352.6"/><rect x="880.54" y="553.7" width="1" height="352.6"/><rect x="888.56" y="553.7" width="1" height="352.6"/><rect x="892.57" y="553.7" width="1" height="352.6"/><rect x="896.58" y="553.7" width="1" height="352.6"/><rect x="900.59" y="553.7" width="1" height="352.6"/><rect x="908.61" y="553.7" width="1" height="352.6"/><rect x="912.62" y="553.7" width="1" height="352.6"/><rect x="916.63" y="553.7" width="1" height="352.6"/><rect x="920.64" y="553.7" width="1" height="352.6"/><rect x="928.66" y="553.7" width="1" height="352.6"/><rect x="932.67" y="553.7" width="1" height="352.6"/><rect x="936.68" y="553.7" width="1" height="352.6"/><rect x="940.69" y="553.7" width="1" height="352.6"/><rect x="948.71" y="553.7" width="1" height="352.6"/><rect x="952.72" y="553.7" width="1" height="352.6"/><rect x="956.73" y="553.7" width="1" height="352.6"/><rect x="960.74" y="553.7" width="1" height="352.6"/><rect x="968.76" y="553.7" width="1" height="352.6"/><rect x="972.77" y="553.7" width="1" height="352.6"/><rect x="976.78" y="553.7" width="1" height="352.6"/><rect x="980.79" y="553.7" width="1" height="352.6"/><rect x="988.81" y="553.7" width="1" height="352.6"/><rect x="992.82" y="553.7" width="1" height="352.6"/><rect x="996.83" y="553.7" width="1" height="352.6"/><rect x="1000.84" y="553.7" width="1" height="352.6"/><rect x="1008.86" y="553.7" width="1" height="352.6"/><rect x="1012.87" y="553.7" width="1" height="352.6"/><rect x="1016.88" y="553.7" width="1" height="352.6"/><rect x="1020.89" y="553.7" width="1" height="352.6"/><rect x="1028.91" y="553.7" width="1" height="352.6"/><rect x="1032.92" y="553.7" width="1" height="352.6"/><rect x="1036.93" y="553.7" width="1" height="352.6"/><rect x="1040.94" y="553.7" width="1" height="352.6"/><rect x="1048.96" y="553.7" width="1" height="352.6"/><rect x="1052.97" y="553.7" width="1" height="352.6"/><rect x="1056.98" y="553.7" width="1" height="352.6"/><rect x="1060.99" y="553.7" width="1" height="352.6"/><rect x="1069.01" y="553.7" width="1" height="352.6"/><rect x="1073.02" y="553.7" width="1" height="352.6"/><rect x="1077.03" y="553.7" width="1" height="352.6"/><rect x="1081.04" y="553.7" width="1" height="352.6"/><rect x="1089.06" y="553.7" width="1" height="352.6"/><rect x="1093.07" y="553.7" width="1" height="352.6"/><rect x="1097.08" y="553.7" width="1" height="352.6"/><rect x="1101.09" y="553.7" width="1" height="352.6"/><rect x="1109.11" y="553.7" width="1" height="352.6"/><rect x="1113.12" y="553.7" width="1" height="352.6"/><rect x="1117.13" y="553.7" width="1" height="352.6"/><rect x="1121.14" y="553.7" width="1" height="352.6"/><rect x="1129.16" y="553.7" width="1" height="352.6"/><rect x="1133.17" y="553.7" width="1" height="352.6"/><rect x="1137.18" y="553.7" width="1" height="352.6"/><rect x="1141.19" y="553.7" width="1" height="352.6"/><rect x="1149.21" y="553.7" width="1" height="352.6"/><rect x="1153.22" y="553.7" width="1" height="352.6"/><rect x="1157.23" y="553.7" width="1" height="352.6"/><rect x="1161.24" y="553.7" width="1" height="352.6"/><rect x="1169.26" y="553.7" width="1" height="352.6"/><rect x="1173.27" y="553.7" width="1" height="352.6"/><rect x="1177.28" y="553.7" width="1" height="352.6"/><rect x="1181.29" y="553.7" width="1" height="352.6"/><rect x="1189.31" y="553.7" width="1" height="352.6"/><rect x="1193.32" y="553.7" width="1" height="352.6"/><rect x="3" y="557.71" width="1194" height="1"/><rect x="3" y="561.72" width="1194" height="1"/><rect x="3" y="565.72" width="1194" height="1"/><rect x="3" y="569.73" width="1194" height="1"/><rect x="3" y="577.75" width="1194" height="1"/><rect x="3" y="581.76" width="1194" height="1"/><rect x="3" y="585.76" width="1194" height="1"/><rect x="3" y="589.77" width="1194" height="1"/><rect x="3" y="597.79" width="1194" height="1"/><rect x="3" y="601.80" width="1194" height="1"/><rect x="3" y="605.80" width="1194" height="1"/><rect x="3" y="609.81" width="1194" height="1"/><rect x="3" y="617.83" width="1194" height="1"/><rect x="3" y="621.84" width="1194" height="1"/><rect x="3" y="625.84" width="1194" height="1"/><rect x="3" y="629.85" width="1194" height="1"/><rect x="3" y="637.87" width="1194" height="1"/><rect x="3" y="641.88" width="1194" height="1"/><rect x="3" y="645.88" width="1194" height="1"/><rect x="3" y="649.89" width="1194" height="1"/><rect x="3" y="657.91" width="1194" height="1"/><rect x="3" y="661.92" width="1194" height="1"/><rect x="3" y="665.92" width="1194" height="1"/><rect x="3" y="669.93" width="1194" height="1"/><rect x="3" y="677.95" width="1194" height="1"/><rect x="3" y="681.96" width="1194" height="1"/><rect x="3" y="685.96" width="1194" height="1"/><rect x="3" y="689.97" width="1194" height="1"/><rect x="3" y="697.99" width="1194" height="1"/><rect x="3" y="702.00" width="1194" height="1"/><rect x="3" y="706.00" width="1194" height="1"/><rect x="3" y="710.01" width="1194" height="1"/><rect x="3" y="718.03" width="1194" height="1"/><rect x="3" y="722.04" width="1194" height="1"/><rect x="3" y="726.04" width="1194" height="1"/><rect x="3" y="730.05" width="1194" height="1"/><rect x="3" y="738.07" width="1194" height="1"/><rect x="3" y="742.08" width="1194" height="1"/><rect x="3" y="746.08" width="1194" height="1"/><rect x="3" y="750.09" width="1194" height="1"/><rect x="3" y="758.11" width="1194" height="1"/><rect x="3" y="762.12" width="1194" height="1"/><rect x="3" y="766.12" width="1194" height="1"/><rect x="3" y="770.13" width="1194" height="1"/><rect x="3" y="778.15" width="1194" height="1"/><rect x="3" y="782.16" width="1194" height="1"/><rect x="3" y="786.16" width="1194" height="1"/><rect x="3" y="790.17" width="1194" height="1"/><rect x="3" y="798.19" width="1194" height="1"/><rect x="3" y="802.20" width="1194" height="1"/><rect x="3" y="806.20" width="1194" height="1"/><rect x="3" y="810.21" width="1194" height="1"/><rect x="3" y="818.23" width="1194" height="1"/><rect x="3" y="822.24" width="1194" height="1"/><rect x="3" y="826.24" width="1194" height="1"/><rect x="3" y="830.25" width="1194" height="1"/><rect x="3" y="838.27" width="1194" height="1"/><rect x="3" y="842.28" width="1194" height="1"/><rect x="3" y="846.28" width="1194" height="1"/><rect x="3" y="850.29" width="1194" height="1"/><rect x="3" y="858.31" width="1194" height="1"/><rect x="3" y="862.32" width="1194" height="1"/><rect x="3" y="866.32" width="1194" height="1"/><rect x="3" y="870.33" width="1194" height="1"/><rect x="3" y="878.35" width="1194" height="1"/><rect x="3" y="882.36" width="1194" height="1"/><rect x="3" y="886.36" width="1194" height="1"/><rect x="3" y="890.37" width="1194" height="1"/><rect x="3" y="898.39" width="1194" height="1"/><rect x="3" y="902.40" width="1194" height="1"/></g>
<g fill="#e4605f" fill-opacity="0.45"><rect x="2.35" y="553.7" width="1" height="352.6"/><rect x="22.40" y="553.7" width="1" height="352.6"/><rect x="42.45" y="553.7" width="1" height="352.6"/><rect x="62.50" y="553.7" width="1" height="352.6"/><rect x="82.55" y="553.7" width="1" height="352.6"/><rect x="102.60" y="553.7" width="1" height="352.6"/><rect x="122.65" y="553.7" width="1" height="352.6"/><rect x="142.70" y="553.7" width="1" height="352.6"/><rect x="162.75" y="553.7" width="1" height="352.6"/><rect x="182.80" y="553.7" width="1" height="352.6"/><rect x="202.85" y="553.7" width="1" height="352.6"/><rect x="222.90" y="553.7" width="1" height="352.6"/><rect x="242.95" y="553.7" width="1" height="352.6"/><rect x="263.00" y="553.7" width="1" height="352.6"/><rect x="283.05" y="553.7" width="1" height="352.6"/><rect x="303.10" y="553.7" width="1" height="352.6"/><rect x="323.15" y="553.7" width="1" height="352.6"/><rect x="343.20" y="553.7" width="1" height="352.6"/><rect x="363.25" y="553.7" width="1" height="352.6"/><rect x="383.30" y="553.7" width="1" height="352.6"/><rect x="403.35" y="553.7" width="1" height="352.6"/><rect x="423.40" y="553.7" width="1" height="352.6"/><rect x="443.45" y="553.7" width="1" height="352.6"/><rect x="463.50" y="553.7" width="1" height="352.6"/><rect x="483.55" y="553.7" width="1" height="352.6"/><rect x="503.60" y="553.7" width="1" height="352.6"/><rect x="523.65" y="553.7" width="1" height="352.6"/><rect x="543.70" y="553.7" width="1" height="352.6"/><rect x="563.75" y="553.7" width="1" height="352.6"/><rect x="583.80" y="553.7" width="1" height="352.6"/><rect x="603.85" y="553.7" width="1" height="352.6"/><rect x="623.90" y="553.7" width="1" height="352.6"/><rect x="643.95" y="553.7" width="1" height="352.6"/><rect x="664.00" y="553.7" width="1" height="352.6"/><rect x="684.05" y="553.7" width="1" height="352.6"/><rect x="704.10" y="553.7" width="1" height="352.6"/><rect x="724.15" y="553.7" width="1" height="352.6"/><rect x="744.20" y="553.7" width="1" height="352.6"/><rect x="764.25" y="553.7" width="1" height="352.6"/><rect x="784.30" y="553.7" width="1" height="352.6"/><rect x="804.35" y="553.7" width="1" height="352.6"/><rect x="824.40" y="553.7" width="1" height="352.6"/><rect x="844.45" y="553.7" width="1" height="352.6"/><rect x="864.50" y="553.7" width="1" height="352.6"/><rect x="884.55" y="553.7" width="1" height="352.6"/><rect x="904.60" y="553.7" width="1" height="352.6"/><rect x="924.65" y="553.7" width="1" height="352.6"/><rect x="944.70" y="553.7" width="1" height="352.6"/><rect x="964.75" y="553.7" width="1" height="352.6"/><rect x="984.80" y="553.7" width="1" height="352.6"/><rect x="1004.85" y="553.7" width="1" height="352.6"/><rect x="1024.90" y="553.7" width="1" height="352.6"/><rect x="1044.95" y="553.7" width="1" height="352.6"/><rect x="1065.00" y="553.7" width="1" height="352.6"/><rect x="1085.05" y="553.7" width="1" height="352.6"/><rect x="1105.10" y="553.7" width="1" height="352.6"/><rect x="1125.15" y="553.7" width="1" height="352.6"/><rect x="1145.20" y="553.7" width="1" height="352.6"/><rect x="1165.25" y="553.7" width="1" height="352.6"/><rect x="1185.30" y="553.7" width="1" height="352.6"/><rect x="3" y="553.70" width="1194" height="1"/><rect x="3" y="573.74" width="1194" height="1"/><rect x="3" y="593.78" width="1194" height="1"/><rect x="3" y="613.82" width="1194" height="1"/><rect x="3" y="633.86" width="1194" height="1"/><rect x="3" y="653.90" width="1194" height="1"/><rect x="3" y="673.94" width="1194" height="1"/><rect x="3" y="693.98" width="1194" height="1"/><rect x="3" y="714.02" width="1194" height="1"/><rect x="3" y="734.06" width="1194" height="1"/><rect x="3" y="754.10" width="1194" height="1"/><rect x="3" y="774.14" width="1194" height="1"/><rect x="3" y="794.18" width="1194" height="1"/><rect x="3" y="814.22" width="1194" height="1"/><rect x="3" y="834.26" width="1194" height="1"/><rect x="3" y="854.30" width="1194" height="1"/><rect x="3" y="874.34" width="1194" height="1"/><rect x="3" y="894.38" width="1194" height="1"/></g>
<rect x="185.0" y="500" width="1" height="53.5" fill="#dcdcdc"/>
<rect x="369.0" y="500" width="1" height="53.5" fill="#dcdcdc"/>
<rect x="512.0" y="500" width="1" height="53.5" fill="#dcdcdc"/>
<rect x="759.8" y="500" width="1" height="53.5" fill="#dcdcdc"/>
<rect x="1058.9" y="500" width="1" height="53.5" fill="#dcdcdc"/>
<rect x="19" y="522.5" width="30" height="19.5" rx="8.5" fill="#dedede"/>
<text x="34.0" y="536" font-size="11" fill="#666" text-anchor="middle">5</text>
<rect x="59" y="522.5" width="30" height="19.5" rx="8.5" fill="#737373"/>
<text x="74.0" y="536" font-size="11" fill="#f4f4f4" text-anchor="middle">10</text>
<rect x="99" y="522.5" width="30" height="19.5" rx="8.5" fill="#dedede"/>
<text x="114.0" y="536" font-size="11" fill="#666" text-anchor="middle">20</text>
<rect x="139" y="522.5" width="30" height="19.5" rx="8.5" fill="#dedede"/>
<text x="154.0" y="536" font-size="11" fill="#666" text-anchor="middle">40</text>
<rect x="202.5" y="522.5" width="30" height="19.5" rx="8.5" fill="#dedede"/>
<text x="217.5" y="536" font-size="11" fill="#666" text-anchor="middle">12.5</text>
<rect x="242.5" y="522.5" width="30" height="19.5" rx="8.5" fill="#737373"/>
<text x="257.5" y="536" font-size="11" fill="#f4f4f4" text-anchor="middle">25</text>
<rect x="282.5" y="522.5" width="30" height="19.5" rx="8.5" fill="#dedede"/>
<text x="297.5" y="536" font-size="11" fill="#666" text-anchor="middle">50</text>
<rect x="322.5" y="522.5" width="30" height="19.5" rx="8.5" fill="#dedede"/>
<text x="337.5" y="536" font-size="11" fill="#666" text-anchor="middle">100</text>
<rect x="385.8" y="522.5" width="30" height="19.5" rx="8.5" fill="#dedede"/>
<text x="400.8" y="536" font-size="11" fill="#666" text-anchor="middle">12X1</text>
<rect x="425.8" y="522.5" width="30" height="19.5" rx="8.5" fill="#737373"/>
<text x="440.8" y="536" font-size="11" fill="#f4f4f4" text-anchor="middle">6X2</text>
<rect x="465.8" y="522.5" width="30" height="19.5" rx="8.5" fill="#dedede"/>
<text x="480.8" y="536" font-size="11" fill="#666" text-anchor="middle">3X4</text>
<rect x="521" y="522.5" width="30" height="19.5" rx="8.5" fill="#dedede"/>
<rect x="561" y="522.5" width="30" height="19.5" rx="8.5" fill="#dedede"/>
<rect x="601" y="522.5" width="30" height="19.5" rx="8.5" fill="#dedede"/>
<rect x="641" y="522.5" width="30" height="19.5" rx="8.5" fill="#737373"/>
<text x="656.0" y="536" font-size="11" fill="#f4f4f4" text-anchor="middle">P</text>
<rect x="681" y="522.5" width="30" height="19.5" rx="8.5" fill="#737373"/>
<text x="696.0" y="536" font-size="11" fill="#f4f4f4" text-anchor="middle">QRS</text>
<rect x="721" y="522.5" width="30" height="19.5" rx="8.5" fill="#737373"/>
<text x="736.0" y="536" font-size="11" fill="#f4f4f4" text-anchor="middle">T</text>
<rect x="531.3" y="530.8" width="10" height="1" fill="#555"/><path d="M536.3,525.3 l-2,2.5 h4z M536.3,537.3 l-2,-2.5 h4z" fill="#555"/><rect x="535.8" y="527.3" width="1" height="2.5" fill="#555"/><rect x="535.8" y="532.8" width="1" height="2.5" fill="#555"/>
<rect x="575.4" y="526.3" width="1.2" height="10" fill="#555"/><path d="M570,531.3 l2.5,-2 v4z M582,531.3 l-2.5,-2 v4z" fill="#555"/><rect x="572" y="530.8" width="2.5" height="1" fill="#555"/><rect x="577.5" y="530.8" width="2.5" height="1" fill="#555"/>
<rect x="610.4" y="526.3" width="1.2" height="10" fill="#555"/><path d="M605,531.3 l2.5,-2 v4z M617,531.3 l-2.5,-2 v4z" fill="#555"/><rect x="607" y="530.8" width="2.5" height="1" fill="#555"/><rect x="612.5" y="530.8" width="2.5" height="1" fill="#555"/>
<text x="624" y="536.5" font-size="10" fill="#555" text-anchor="middle">+</text>
<text x="56" y="513.7" font-size="9.5" font-weight="bold" fill="#4a4a4a">[mm/mV]</text>
<text x="235" y="513.7" font-size="9.5" font-weight="bold" fill="#4a4a4a">·· [mm/s]</text>
<text x="776.2" y="514.5" font-size="10.3" fill="#5a5a5a" textLength="47" lengthAdjust="spacingAndGlyphs">P: 100 ms</text>
<text x="840.3" y="514.5" font-size="10.3" fill="#5a5a5a" textLength="59" lengthAdjust="spacingAndGlyphs">QRS: 100 ms</text>
<text x="909.5" y="514.5" font-size="10.3" fill="#5a5a5a" textLength="54" lengthAdjust="spacingAndGlyphs">QT: 200 ms</text>
<text x="973.3" y="514.5" font-size="10.3" fill="#5a5a5a">HR:</text>
<rect x="994.4" y="503.3" width="23.6" height="15" rx="7.5" fill="#fff" stroke="#d8d8d8" stroke-width="0.8"/>
<text x="1020.8" y="514.5" font-size="10.3" fill="#5a5a5a">/min</text>
<text x="776.2" y="541.5" font-size="10.3" fill="#5a5a5a" textLength="54" lengthAdjust="spacingAndGlyphs">PQ: 150 ms</text>
<text x="851" y="541.5" font-size="10.3" fill="#5a5a5a">: - mV</text>
<text x="920" y="541.5" font-size="10.3" fill="#5a5a5a">: - ms</text>
<text x="972.8" y="541.5" font-size="10.3" fill="#5a5a5a" textLength="43.5" lengthAdjust="spacingAndGlyphs">QTc: - ms</text>
<rect x="840.5" y="537.5" width="10" height="1" fill="#555"/><path d="M845.5,532 l-2,2.5 h4z M845.5,544 l-2,-2.5 h4z" fill="#555"/><rect x="845.0" y="534" width="1" height="2.5" fill="#555"/><rect x="845.0" y="539.5" width="1" height="2.5" fill="#555"/>
<rect x="914.4" y="533" width="1.2" height="10" fill="#555"/><path d="M909,538 l2.5,-2 v4z M921,538 l-2.5,-2 v4z" fill="#555"/><rect x="911" y="537.5" width="2.5" height="1" fill="#555"/><rect x="916.5" y="537.5" width="2.5" height="1" fill="#555"/>
<rect x="1117.7" y="513.3" width="29.8" height="19.2" rx="8" fill="#dedede"/>
<rect x="1158" y="513.3" width="29.5" height="19.2" rx="8" fill="#dedede"/>
<path d="M1136,519.5 A4.2,4.2 0 1 0 1136.5,525.5" fill="none" stroke="#444" stroke-width="1.6"/><path d="M1134,518 l4,-0.5 l-0.6,4z" fill="#444"/>
<text x="1172.8" y="526.3" font-size="11.5" font-weight="bold" fill="#333" text-anchor="middle" font-family="Liberation Serif, serif">i</text>
<rect x="0.5" y="496" width="1199" height="3" fill="#42a995"/>
<rect x="0.5" y="496" width="2.5" height="456.5" fill="#42a995"/>
<rect x="1197" y="496" width="2.5" height="456.5" fill="#42a995"/>
<path d="M5.4,495.5 H22 L24,499.5 H3.5 Z" fill="#fff"/>
<path d="M185,495.5 H203.3 L205.3,499.5 H183.5 Z" fill="#fff"/>
<rect x="184" y="499" width="21" height="12" rx="5" fill="#fff" opacity="0.85"/>
<rect x="4" y="499" width="50" height="14" rx="6" fill="#fff" opacity="0.7"/>
<rect x="380" y="503" width="95" height="17" rx="8" fill="#fff" opacity="0.8"/>
<rect x="518" y="503" width="72" height="14" rx="7" fill="#fff" opacity="0.8"/>
<rect x="0" y="955.5" width="1200" height="1.5" fill="#e6e6e6"/>
<rect x="139.4" y="553.7" width="1.2" height="352.6" fill="#9be08a"/><rect x="149.9" y="553.7" width="1.2" height="352.6" fill="#9be08a"/><rect x="154.70000000000002" y="553.7" width="1.2" height="352.6" fill="#4ab0e8"/><rect x="164.9" y="553.7" width="1.2" height="352.6" fill="#4ab0e8"/><rect x="174.9" y="553.7" width="1.2" height="352.6" fill="#a04848"/><rect x="727.3" y="553.7" width="1.2" height="352.6" fill="#9be08a"/><rect x="736.9" y="553.7" width="1.2" height="352.6" fill="#9be08a"/><rect x="742.6" y="553.7" width="1.2" height="352.6" fill="#4ab0e8"/><rect x="752.15" y="553.7" width="1.2" height="352.6" fill="#4ab0e8"/><rect x="763.0" y="553.7" width="1.2" height="352.6" fill="#c05050"/>
<path d="M23,594 H27 V554 H39 V594 H43" fill="none" stroke="#4a3c3c" stroke-width="1.25"/><path d="M23,654 H27 V614 H39 V654 H43" fill="none" stroke="#4a3c3c" stroke-width="1.25"/><path d="M23,754.5 H27 V674.5 H39 V754.5 H43 M23,714.5 H43" fill="none" stroke="#4a3c3c" stroke-width="1.25"/><path d="M23,854.5 H27 V774.5 H39 V854.5 H43 M23,814.5 H43" fill="none" stroke="#4a3c3c" stroke-width="1.25"/><path d="M611,594.2 H615 V554.2 H627 V594.2 H631" fill="none" stroke="#4a3c3c" stroke-width="1.25"/>
<text x="43.5" y="582.3" font-size="8" fill="#555">I</text><text x="43" y="642.5" font-size="8" fill="#555">II</text><text x="43" y="702.8" font-size="8" fill="#555">III</text><text x="43" y="743.2" font-size="8" fill="#555">aVR</text><text x="43" y="803.5" font-size="8" fill="#555">aVL</text><text x="43" y="843.4" font-size="8" fill="#555">aVF</text><text x="631" y="582.5" font-size="9" fill="#555" font-weight="bold">V1</text>
<polyline points="55.0,596.5 55.5,596.5 56.0,594.3 56.5,591.1 57.0,593.4 57.5,597.0 58.0,599.1 58.5,601.4 59.0,602.3 59.5,599.8 60.0,598.0 60.5,595.1 61.0,589.6 61.5,589.2 62.0,591.9 62.5,596.5 63.0,600.4 63.5,599.5 64.0,597.1 64.5,594.1 65.0,594.9 65.5,596.2 66.0,597.7 66.5,598.7 67.0,598.6 67.5,598.1 68.0,594.8 68.5,592.4 69.0,591.2 69.5,591.3 70.0,593.5 70.5,593.2 71.0,595.9 71.5,597.1 72.0,599.4 72.5,600.5 73.0,599.3 73.5,597.0 74.0,595.5 74.5,592.8 75.0,589.4 75.5,589.5 76.0,588.7 76.5,589.7 77.0,589.3 77.5,592.1 78.0,592.6 78.5,593.2 79.0,592.1 79.5,592.4 80.0,590.2 80.5,590.7 81.0,590.1 81.5,589.0 82.0,588.6 82.5,591.5 83.0,591.0 83.5,592.0 84.0,593.4 84.5,596.4 85.0,597.8 85.5,597.9 86.0,598.7 86.5,599.3 87.0,598.8 87.5,598.7 88.0,595.7 88.5,595.2 89.0,593.5 89.5,592.2 90.0,590.7 90.5,590.5 91.0,590.1 91.5,592.3 92.0,592.4 92.5,593.8 93.0,595.2 93.5,596.1 94.0,598.6 94.5,599.5 95.0,599.0 95.5,600.2 96.0,599.8 96.5,598.7 97.0,595.3 97.5,592.1 98.0,589.7 98.5,587.7 99.0,589.6 99.5,591.2 100.0,593.7 100.5,592.2 101.0,593.1 101.5,594.7 102.0,597.9 102.5,600.2 103.0,599.8 103.5,599.6 104.0,597.5 104.5,597.0 105.0,595.0 105.5,593.6 106.0,592.1 106.5,590.0 107.0,588.3 107.5,586.2 108.0,586.4 108.5,587.9 109.0,588.7 109.5,590.4 110.0,592.5 110.5,594.7 111.0,594.6 111.5,597.0 112.0,597.7 112.5,598.3 113.0,598.4 113.5,597.0 114.0,593.2 114.5,590.4 115.0,588.1 115.5,582.9 116.0,578.8 116.5,579.9 117.0,588.2 117.5,597.5 118.0,603.9 118.5,603.4 119.0,600.3 119.5,598.8 120.0,598.6 120.5,601.1 121.0,599.9 121.5,598.3 122.0,595.5 122.5,593.2 123.0,591.7 123.5,590.9 124.0,586.6 124.5,585.0 125.0,587.6 125.5,590.3 126.0,592.0 126.5,594.1 127.0,594.5 127.5,593.5 128.0,591.9 128.5,591.7 129.0,591.5 129.5,590.1 130.0,589.5 130.5,587.7 131.0,584.7 131.5,583.4 132.0,584.5 132.5,585.3 133.0,587.0 133.5,589.4 134.0,590.4 134.5,591.5 135.0,589.9 135.5,590.9 136.0,590.3 136.5,588.5 137.0,586.1 137.5,585.8 138.0,585.3 138.5,584.9 139.0,586.3 139.5,587.8 140.0,589.5 140.5,590.2 141.0,593.2 141.5,597.1 142.0,598.8 142.5,596.9 143.0,595.9 143.5,593.1 144.0,591.5 144.5,588.5 145.0,588.0 145.5,585.9 146.0,586.6 146.5,587.2 147.0,588.0 147.5,590.9 148.0,592.1 148.5,594.4 149.0,595.1 149.5,596.7 150.0,596.1 150.5,595.7 151.0,595.9 151.5,594.3 152.0,594.4 152.5,591.9 153.0,591.2 153.5,590.6 154.0,593.6 154.5,594.7 155.0,597.8 155.5,600.7 156.0,599.8 156.5,597.1 157.0,595.9 157.5,594.9 158.0,593.8 158.5,591.7 159.0,589.8 159.5,588.4 160.0,588.6 160.5,588.0 161.0,584.8 161.5,586.5 162.0,588.0 162.5,590.8 163.0,591.8 163.5,592.5 164.0,594.9 164.5,594.5 165.0,593.1 165.5,591.0 166.0,589.0 166.5,587.4 167.0,585.4 167.5,584.5 168.0,582.5 168.5,584.9 169.0,587.6 169.5,589.7 170.0,591.7 170.5,592.1 171.0,591.6 171.5,593.2 172.0,590.1 172.5,587.5 173.0,588.8 173.5,593.7 174.0,601.0 174.5,604.3 175.0,599.2 175.5,595.7 176.0,592.4 176.5,591.5 177.0,589.9 177.5,589.3 178.0,590.6 178.5,594.1 179.0,594.8 179.5,596.4 180.0,597.2 180.5,599.1 181.0,601.8 181.5,602.1 182.0,598.6 182.5,594.9 183.0,594.1 183.5,593.1 184.0,590.7 184.5,588.2 185.0,585.0 185.5,584.3 186.0,586.8 186.5,590.1 187.0,590.3 187.5,591.4 188.0,593.3 188.5,593.0 189.0,591.5 189.5,589.4 190.0,587.9 190.5,586.2 191.0,587.3 191.5,586.3 192.0,586.1 192.5,585.1 193.0,585.9 193.5,584.2 194.0,586.5 194.5,588.3 195.0,591.9 195.5,591.8 196.0,594.8 196.5,595.0 197.0,596.5 197.5,597.6 198.0,598.4 198.5,597.7 199.0,595.8 199.5,594.6 200.0,593.4 200.5,591.2 201.0,589.8 201.5,587.9 202.0,585.2 202.5,583.0 203.0,580.9 203.5,583.8 204.0,587.8 204.5,589.0 205.0,590.5 205.5,592.6 206.0,593.1 206.5,595.6 207.0,597.5 207.5,597.5 208.0,598.4 208.5,596.9 209.0,593.6 209.5,592.9 210.0,591.3 210.5,590.0 211.0,588.5 211.5,587.6 212.0,589.6 212.5,590.6 213.0,595.8 213.5,599.2 214.0,601.4 214.5,598.6 215.0,598.9 215.5,596.5 216.0,595.4 216.5,593.8 217.0,591.6 217.5,592.5 218.0,589.1 218.5,590.8 219.0,590.8 219.5,592.0 220.0,593.5 220.5,594.3 221.0,596.0 221.5,596.0 222.0,596.6 222.5,594.4 223.0,592.5 223.5,591.0 224.0,590.0 224.5,587.9 225.0,586.5 225.5,589.1 226.0,590.0 226.5,591.0 227.0,591.1 227.5,591.6 228.0,589.4 228.5,590.5 229.0,595.2 229.5,599.8 230.0,602.7 230.5,602.2 231.0,595.9 231.5,591.8 232.0,589.7 232.5,587.3 233.0,586.7 233.5,589.3 234.0,589.9 234.5,592.7 235.0,594.9 235.5,594.6 236.0,592.9 236.5,590.7 237.0,588.6 237.5,587.1 238.0,585.9 238.5,587.8 239.0,588.9 239.5,590.0 240.0,590.7 240.5,591.7 241.0,592.4 241.5,592.9 242.0,594.1 242.5,595.3 243.0,595.3 243.5,592.6 244.0,590.5 244.5,590.0 245.0,588.1 245.5,584.9 246.0,583.4 246.5,580.8 247.0,579.3 247.5,577.5 248.0,580.3 248.5,584.9 249.0,588.2 249.5,591.5 250.0,596.4 250.5,600.8 251.0,600.1 251.5,599.1 252.0,598.1 252.5,597.0 253.0,595.2 253.5,593.5 254.0,591.7 254.5,590.9 255.0,592.4 255.5,592.0 256.0,591.1 256.5,591.4 257.0,592.5 257.5,593.7 258.0,593.0 258.5,592.3 259.0,591.9 259.5,591.8 260.0,591.9 260.5,590.6 261.0,591.7 261.5,589.3 262.0,590.9 262.5,592.8 263.0,594.0 263.5,597.2 264.0,599.5 264.5,599.5 265.0,595.8 265.5,594.9 266.0,593.1 266.5,592.1 267.0,590.1 267.5,589.0 268.0,592.4 268.5,594.0 269.0,594.5 269.5,595.6 270.0,597.7 270.5,597.9 271.0,596.0 271.5,593.8 272.0,591.2 272.5,589.0 273.0,587.3 273.5,587.7 274.0,589.6 274.5,590.4 275.0,590.4 275.5,592.8 276.0,594.2 276.5,595.9 277.0,597.8 277.5,596.8 278.0,595.3 278.5,595.2 279.0,593.0 279.5,590.1 280.0,588.2 280.5,585.9 281.0,589.6 281.5,593.1 282.0,593.7 282.5,595.9 283.0,598.6 283.5,596.0 284.0,590.6 284.5,586.9 285.0,586.4 285.5,591.3 286.0,597.3 286.5,600.4 287.0,600.0 287.5,597.2 288.0,594.9 288.5,597.4 289.0,600.6 289.5,598.9 290.0,595.2 290.5,594.2 291.0,592.3 291.5,590.6 292.0,590.2 292.5,588.5 293.0,588.8 293.5,591.0 294.0,592.7 294.5,592.5 295.0,593.9 295.5,595.6 296.0,597.0 296.5,598.7 297.0,598.6 297.5,596.2 298.0,593.9 298.5,591.6 299.0,587.6 299.5,588.5 300.0,590.9 300.5,592.7 301.0,592.1 301.5,593.0 302.0,592.6 302.5,590.0 303.0,587.3 303.5,585.6 304.0,583.1 304.5,580.1 305.0,581.4 305.5,583.9 306.0,585.5 306.5,588.1 307.0,589.1 307.5,591.7 308.0,594.2 308.5,596.5 309.0,596.2 309.5,594.2 310.0,591.3 310.5,588.1 311.0,586.5 311.5,583.6 312.0,583.1 312.5,584.2 313.0,586.2 313.5,588.3 314.0,589.1 314.5,590.4 315.0,591.5 315.5,594.5 316.0,597.0 316.5,597.1 317.0,594.5 317.5,592.2 318.0,589.0 318.5,587.7 319.0,585.6 319.5,586.2 320.0,588.4 320.5,590.2 321.0,589.6 321.5,591.5 322.0,593.0 322.5,596.1 323.0,597.5 323.5,594.8 324.0,593.0 324.5,590.5 325.0,589.4 325.5,586.6 326.0,582.2 326.5,585.8 327.0,589.8 327.5,591.9 328.0,592.4 328.5,592.5 329.0,590.6 329.5,589.9 330.0,589.1 330.5,589.5 331.0,588.7 331.5,588.0 332.0,586.2 332.5,586.1 333.0,583.6 333.5,581.9 334.0,584.9 334.5,586.9 335.0,589.0 335.5,591.1 336.0,595.1 336.5,596.6 337.0,597.3 337.5,594.5 338.0,592.1 338.5,589.8 339.0,585.0 339.5,583.6 340.0,578.9 340.5,578.3 341.0,578.9 341.5,585.7 342.0,592.6 342.5,599.1 343.0,600.6 343.5,599.0 344.0,596.9 344.5,596.4 345.0,593.5 345.5,592.6 346.0,593.5 346.5,592.6 347.0,592.3 347.5,591.3 348.0,590.2 348.5,591.3 349.0,591.0 349.5,592.3 350.0,590.9 350.5,589.6 351.0,591.1 351.5,592.7 352.0,593.3 352.5,592.6 353.0,591.6 353.5,590.9 354.0,589.1 354.5,589.1 355.0,586.6 355.5,583.7 356.0,581.4 356.5,579.4 357.0,577.1 357.5,578.3 358.0,579.3 358.5,580.7 359.0,583.3 359.5,584.7 360.0,586.0 360.5,588.7 361.0,591.5 361.5,589.1 362.0,587.7 362.5,587.6 363.0,586.4 363.5,586.6 364.0,586.2 364.5,584.1 365.0,582.3 365.5,580.4 366.0,580.9 366.5,584.2 367.0,585.2 367.5,587.9 368.0,589.9 368.5,591.6 369.0,592.0 369.5,595.0 370.0,596.3 370.5,595.6 371.0,594.0 371.5,592.5 372.0,591.5 372.5,590.0 373.0,588.5 373.5,586.7 374.0,589.0 374.5,591.1 375.0,595.2 375.5,596.0 376.0,596.7 376.5,597.7 377.0,597.7 377.5,596.6 378.0,593.6 378.5,592.1 379.0,590.2 379.5,587.9 380.0,588.4 380.5,591.7 381.0,592.4 381.5,594.8 382.0,597.1 382.5,600.5 383.0,597.8 383.5,595.1 384.0,591.8 384.5,591.1 385.0,587.3 385.5,585.3 386.0,586.1 386.5,589.0 387.0,591.8 387.5,594.3 388.0,595.9 388.5,599.4 389.0,600.2 389.5,599.2 390.0,598.2 390.5,596.2 391.0,597.1 391.5,595.9 392.0,594.8 392.5,593.0 393.0,591.9 393.5,589.9 394.0,589.0 394.5,587.6 395.0,584.5 395.5,584.9 396.0,592.3 396.5,601.8 397.0,605.6 397.5,603.9 398.0,599.8 398.5,595.1 399.0,593.3 399.5,592.5 400.0,590.7 400.5,589.1 401.0,588.1 401.5,586.0 402.0,584.3 402.5,586.5 403.0,589.3 403.5,592.8 404.0,593.9 404.5,595.1 405.0,596.2 405.5,596.5 406.0,595.2 406.5,592.0 407.0,590.3 407.5,589.7 408.0,587.5 408.5,586.6 409.0,585.3 409.5,583.5 410.0,584.0 410.5,582.4 411.0,584.9 411.5,584.8 412.0,585.4 412.5,586.5 413.0,588.2 413.5,587.8 414.0,589.7 414.5,590.5 415.0,590.7 415.5,589.8 416.0,589.1 416.5,589.2 417.0,587.7 417.5,588.6 418.0,588.0 418.5,587.2 419.0,583.5 419.5,584.2 420.0,586.3 420.5,588.0 421.0,592.4 421.5,594.0 422.0,596.8 422.5,599.7 423.0,602.2 423.5,600.6 424.0,597.8 424.5,594.5 425.0,591.5 425.5,589.7 426.0,586.6 426.5,588.7 427.0,590.6 427.5,592.6 428.0,592.7 428.5,593.8 429.0,593.7 429.5,594.6 430.0,593.2 430.5,592.8 431.0,593.2 431.5,592.6 432.0,592.1 432.5,591.3 433.0,590.2 433.5,589.0 434.0,591.7 434.5,592.9 435.0,592.3 435.5,592.5 436.0,595.1 436.5,596.1 437.0,598.1 437.5,598.5 438.0,600.3 438.5,598.8 439.0,598.6 439.5,597.5 440.0,594.8 440.5,594.0 441.0,591.6 441.5,591.3 442.0,589.9 442.5,589.0 443.0,588.6 443.5,590.6 444.0,591.4 444.5,591.2 445.0,593.6 445.5,594.5 446.0,595.2 446.5,594.8 447.0,593.9 447.5,592.3 448.0,592.4 448.5,590.1 449.0,590.2 449.5,588.6 450.0,585.6 450.5,579.5 451.0,575.1 451.5,579.9 452.0,589.8 452.5,598.2 453.0,602.5 453.5,601.1 454.0,598.1 454.5,596.2 455.0,596.9 455.5,600.0 456.0,601.0 456.5,597.2 457.0,596.0 457.5,593.5 458.0,590.2 458.5,587.7 459.0,588.5 459.5,587.0 460.0,589.9 460.5,591.9 461.0,593.5 461.5,594.3 462.0,591.5 462.5,588.4 463.0,586.0 463.5,582.2 464.0,581.5 464.5,584.0 465.0,588.3 465.5,589.4 466.0,589.1 466.5,589.7 467.0,591.5 467.5,592.9 468.0,594.2 468.5,594.0 469.0,592.3 469.5,590.1 470.0,589.0 470.5,585.9 471.0,585.2 471.5,583.6 472.0,584.9 472.5,584.7 473.0,588.8 473.5,590.4 474.0,590.3 474.5,592.8 475.0,592.8 475.5,594.4 476.0,597.5 476.5,596.5 477.0,596.2 477.5,596.0 478.0,596.2 478.5,595.2 479.0,594.2 479.5,593.1 480.0,592.1 480.5,592.9 481.0,593.9 481.5,596.2 482.0,596.0 482.5,597.6 483.0,597.6 483.5,597.6 484.0,595.8 484.5,594.1 485.0,593.5 485.5,594.0 486.0,591.8 486.5,590.8 487.0,589.3 487.5,588.3 488.0,589.9 488.5,591.9 489.0,593.3 489.5,595.4 490.0,595.4 490.5,596.4 491.0,596.8 491.5,597.5 492.0,599.9 492.5,601.6 493.0,599.7 493.5,598.2 494.0,597.3 494.5,593.0 495.0,591.1 495.5,589.9 496.0,588.2 496.5,589.4 497.0,590.7 497.5,591.4 498.0,591.3 498.5,594.4 499.0,595.8 499.5,595.2 500.0,595.6 500.5,597.4 501.0,598.4 501.5,598.8 502.0,598.4 502.5,597.5 503.0,596.0 503.5,595.3 504.0,595.5 504.5,595.2 505.0,595.2 505.5,598.0 506.0,599.1 506.5,602.3 507.0,605.3 507.5,602.9 508.0,595.0 508.5,590.1 509.0,590.2 509.5,596.4 510.0,604.1 510.5,606.7 511.0,604.4 511.5,601.6 512.0,600.6 512.5,600.7 513.0,599.5 513.5,600.8 514.0,600.7 514.5,601.2 515.0,601.3 515.5,600.8 516.0,600.5 516.5,597.3 517.0,595.7 517.5,594.8 518.0,597.2 518.5,598.5 519.0,600.5 519.5,600.4 520.0,602.2 520.5,604.2 521.0,599.6 521.5,595.2 522.0,591.9 522.5,587.4 523.0,583.9 523.5,586.6 524.0,588.4 524.5,592.0 525.0,594.5 525.5,595.1 526.0,598.6 526.5,598.9 527.0,597.0 527.5,594.9 528.0,593.9 528.5,593.7 529.0,594.4 529.5,593.7 530.0,592.9 530.5,592.1 531.0,590.7 531.5,588.6 532.0,591.7 532.5,593.1 533.0,594.7 533.5,598.2 534.0,599.8 534.5,600.0 535.0,598.6 535.5,596.8 536.0,593.2 536.5,591.5 537.0,588.4 537.5,591.2 538.0,592.0 538.5,593.6 539.0,595.2 539.5,595.4 540.0,595.6 540.5,597.1 541.0,597.1 541.5,596.0 542.0,595.1 542.5,594.2 543.0,596.5 543.5,594.8 544.0,592.7 544.5,591.4 545.0,593.5 545.5,594.1 546.0,595.8 546.5,597.0 547.0,598.7 547.5,598.6 548.0,598.8 548.5,599.1 549.0,599.3 549.5,597.1 550.0,595.1 550.5,594.7 551.0,594.0 551.5,592.2 552.0,592.7 552.5,595.2 553.0,596.7 553.5,596.8 554.0,597.9 554.5,598.5 555.0,600.2 555.5,601.5 556.0,602.0 556.5,602.5 557.0,603.0 557.5,602.0 558.0,599.7 558.5,597.7 559.0,597.2 559.5,598.5 560.0,596.7 560.5,595.8 561.0,594.4 561.5,592.9 562.0,590.5 562.5,590.5 563.0,588.1 563.5,587.0 564.0,590.4 564.5,598.9 565.0,609.2 565.5,610.4 566.0,607.7 566.5,599.5 567.0,596.6 567.5,592.5 568.0,590.8 568.5,589.5 569.0,588.8 569.5,588.2 570.0,586.2 570.5,588.6 571.0,589.1 571.5,590.8 572.0,592.8 572.5,594.8 573.0,595.0 573.5,597.0 574.0,598.0 574.5,598.2 575.0,595.9 575.5,592.9 576.0,592.1 576.5,590.1 577.0,587.6 577.5,584.1 578.0,585.1 578.5,584.8 579.0,587.8 579.5,589.8 580.0,591.2 580.5,591.7 581.0,590.8 581.5,587.9 582.0,585.0 582.5,585.0 583.0,583.4 583.5,584.9 584.0,586.0 584.5,586.4 585.0,589.1 585.5,591.2 586.0,592.6 586.5,591.4 587.0,592.5 587.5,594.0 588.0,596.3 588.5,596.1 589.0,593.4 589.5,592.9 590.0,592.0" fill="none" stroke="#1c1515" stroke-width="1.15" stroke-linejoin="round"/><polyline points="55.0,655.4 55.5,656.8 56.0,658.4 56.5,658.5 57.0,656.4 57.5,654.9 58.0,655.2 58.5,649.0 59.0,640.9 59.5,631.1 60.0,632.2 60.5,645.1 61.0,662.8 61.5,676.4 62.0,676.9 62.5,671.1 63.0,663.0 63.5,660.1 64.0,656.4 64.5,656.7 65.0,657.0 65.5,657.5 66.0,656.5 66.5,656.5 67.0,655.3 67.5,655.2 68.0,654.3 68.5,655.3 69.0,656.4 69.5,656.4 70.0,655.5 70.5,654.6 71.0,654.6 71.5,655.0 72.0,654.9 72.5,653.0 73.0,650.7 73.5,650.0 74.0,649.1 74.5,647.1 75.0,645.8 75.5,642.2 76.0,640.9 76.5,639.3 77.0,639.8 77.5,639.0 78.0,637.5 78.5,640.2 79.0,640.3 79.5,641.3 80.0,641.3 80.5,643.5 81.0,643.2 81.5,644.9 82.0,644.9 82.5,646.1 83.0,647.1 83.5,648.1 84.0,648.6 84.5,649.6 85.0,652.0 85.5,653.6 86.0,654.3 86.5,656.1 87.0,655.3 87.5,656.6 88.0,658.0 88.5,658.5 89.0,657.5 89.5,657.7 90.0,656.5 90.5,656.4 91.0,656.7 91.5,654.1 92.0,654.8 92.5,653.2 93.0,653.4 93.5,652.5 94.0,650.9 94.5,651.2 95.0,653.3 95.5,653.2 96.0,654.2 96.5,655.0 97.0,656.1 97.5,655.2 98.0,656.9 98.5,656.1 99.0,657.2 99.5,657.1 100.0,655.9 100.5,654.1 101.0,653.3 101.5,651.8 102.0,649.3 102.5,647.4 103.0,646.2 103.5,644.5 104.0,643.6 104.5,644.0 105.0,642.2 105.5,645.1 106.0,647.1 106.5,648.7 107.0,648.5 107.5,650.7 108.0,652.5 108.5,655.1 109.0,655.5 109.5,659.5 110.0,659.9 110.5,659.0 111.0,658.1 111.5,657.0 112.0,656.4 112.5,654.6 113.0,652.5 113.5,651.4 114.0,649.0 114.5,646.5 115.0,642.8 115.5,636.4 116.0,639.2 116.5,650.3 117.0,666.6 117.5,676.6 118.0,677.3 118.5,668.5 119.0,662.5 119.5,659.1 120.0,659.5 120.5,660.4 121.0,660.5 121.5,658.9 122.0,660.0 122.5,657.6 123.0,658.0 123.5,657.8 124.0,657.0 124.5,655.6 125.0,653.5 125.5,652.5 126.0,650.1 126.5,650.2 127.0,651.0 127.5,650.2 128.0,650.4 128.5,650.4 129.0,651.9 129.5,651.7 130.0,652.5 130.5,652.3 131.0,651.0 131.5,649.8 132.0,648.3 132.5,647.1 133.0,644.1 133.5,644.2 134.0,642.1 134.5,639.7 135.0,639.6 135.5,640.4 136.0,641.1 136.5,642.3 137.0,643.9 137.5,648.0 138.0,650.3 138.5,653.0 139.0,654.3 139.5,653.7 140.0,654.9 140.5,653.8 141.0,652.6 141.5,652.0 142.0,651.6 142.5,650.3 143.0,648.5 143.5,649.0 144.0,648.8 144.5,650.8 145.0,650.8 145.5,651.7 146.0,653.6 146.5,654.3 147.0,655.4 147.5,655.8 148.0,656.7 148.5,657.2 149.0,657.0 149.5,658.5 150.0,657.8 150.5,655.9 151.0,656.2 151.5,655.8 152.0,652.7 152.5,652.5 153.0,651.3 153.5,651.1 154.0,649.6 154.5,649.4 155.0,650.2 155.5,651.7 156.0,652.4 156.5,652.5 157.0,651.6 157.5,652.6 158.0,653.4 158.5,654.4 159.0,654.7 159.5,654.7 160.0,653.7 160.5,650.5 161.0,650.0 161.5,647.2 162.0,645.9 162.5,646.2 163.0,648.2 163.5,649.7 164.0,650.5 164.5,650.9 165.0,652.8 165.5,653.6 166.0,654.1 166.5,655.6 167.0,655.6 167.5,657.0 168.0,656.4 168.5,656.1 169.0,656.2 169.5,656.9 170.0,656.4 170.5,653.4 171.0,654.4 171.5,653.1 172.0,647.3 172.5,640.2 173.0,636.6 173.5,640.7 174.0,654.4 174.5,671.3 175.0,677.7 175.5,676.1 176.0,667.3 176.5,661.3 177.0,658.5 177.5,656.8 178.0,659.0 178.5,660.3 179.0,660.8 179.5,660.6 180.0,661.2 180.5,661.8 181.0,659.9 181.5,659.4 182.0,657.4 182.5,655.1 183.0,653.4 183.5,651.9 184.0,652.2 184.5,650.0 185.0,648.1 185.5,646.9 186.0,644.9 186.5,644.9 187.0,646.2 187.5,646.3 188.0,647.3 188.5,647.6 189.0,648.1 189.5,648.7 190.0,649.0 190.5,647.0 191.0,645.4 191.5,643.8 192.0,643.2 192.5,641.5 193.0,640.3 193.5,641.8 194.0,640.7 194.5,642.1 195.0,640.6 195.5,642.4 196.0,643.1 196.5,647.1 197.0,647.2 197.5,648.7 198.0,649.4 198.5,651.0 199.0,651.8 199.5,652.4 200.0,653.9 200.5,651.5 201.0,650.5 201.5,649.4 202.0,650.1 202.5,648.7 203.0,648.9 203.5,649.4 204.0,647.3 204.5,647.8 205.0,648.7 205.5,650.3 206.0,649.1 206.5,650.0 207.0,651.3 207.5,650.8 208.0,652.9 208.5,652.0 209.0,654.8 209.5,653.1 210.0,653.1 210.5,653.0 211.0,652.6 211.5,651.3 212.0,650.5 212.5,649.1 213.0,649.3 213.5,648.1 214.0,646.7 214.5,645.2 215.0,644.8 215.5,643.3 216.0,643.9 216.5,643.1 217.0,644.1 217.5,643.9 218.0,645.6 218.5,646.8 219.0,648.6 219.5,650.3 220.0,651.4 220.5,653.1 221.0,653.3 221.5,653.8 222.0,652.7 222.5,654.6 223.0,654.7 223.5,654.4 224.0,653.9 224.5,653.8 225.0,654.5 225.5,651.9 226.0,651.9 226.5,652.7 227.0,652.0 227.5,648.7 228.0,642.5 228.5,634.5 229.0,636.5 229.5,648.8 230.0,666.8 230.5,678.7 231.0,679.6 231.5,671.3 232.0,662.1 232.5,658.3 233.0,656.1 233.5,653.2 234.0,652.5 234.5,651.9 235.0,654.9 235.5,655.4 236.0,656.7 236.5,657.4 237.0,657.9 237.5,659.0 238.0,656.3 238.5,657.0 239.0,655.7 239.5,653.9 240.0,651.8 240.5,650.9 241.0,651.0 241.5,647.7 242.0,647.2 242.5,647.0 243.0,645.3 243.5,644.3 244.0,644.9 244.5,645.6 245.0,647.7 245.5,647.6 246.0,647.4 246.5,646.8 247.0,647.1 247.5,644.0 248.0,645.1 248.5,643.6 249.0,642.0 249.5,641.3 250.0,641.1 250.5,641.4 251.0,641.2 251.5,643.9 252.0,645.7 252.5,648.2 253.0,649.9 253.5,652.5 254.0,655.4 254.5,654.2 255.0,653.2 255.5,651.9 256.0,651.8 256.5,649.6 257.0,648.7 257.5,649.8 258.0,651.3 258.5,653.1 259.0,654.9 259.5,655.2 260.0,657.5 260.5,655.6 261.0,654.6 261.5,654.1 262.0,652.0 262.5,649.1 263.0,648.2 263.5,651.6 264.0,652.6 264.5,654.6 265.0,653.9 265.5,654.7 266.0,655.7 266.5,654.6 267.0,652.4 267.5,653.5 268.0,653.4 268.5,654.0 269.0,653.2 269.5,651.2 270.0,650.2 270.5,649.7 271.0,648.5 271.5,646.5 272.0,646.4 272.5,648.3 273.0,647.0 273.5,647.9 274.0,649.9 274.5,653.0 275.0,652.3 275.5,654.5 276.0,654.6 276.5,654.2 277.0,653.6 277.5,653.8 278.0,652.4 278.5,651.6 279.0,652.5 279.5,653.0 280.0,653.9 280.5,654.0 281.0,654.0 281.5,654.1 282.0,654.6 282.5,655.3 283.0,653.5 283.5,647.7 284.0,639.5 284.5,634.1 285.0,643.1 285.5,657.1 286.0,670.7 286.5,674.7 287.0,670.3 287.5,662.4 288.0,656.6 288.5,653.5 289.0,655.1 289.5,655.6 290.0,656.6 290.5,658.7 291.0,660.7 291.5,660.9 292.0,661.5 292.5,662.1 293.0,660.7 293.5,660.2 294.0,659.9 294.5,655.4 295.0,653.0 295.5,651.1 296.0,650.3 296.5,650.0 297.0,649.6 297.5,650.6 298.0,652.8 298.5,651.9 299.0,651.9 299.5,654.1 300.0,652.3 300.5,650.9 301.0,647.8 301.5,645.3 302.0,642.1 302.5,641.0 303.0,641.9 303.5,640.6 304.0,639.7 304.5,639.4 305.0,640.9 305.5,643.3 306.0,644.4 306.5,646.8 307.0,648.5 307.5,649.4 308.0,651.5 308.5,653.5 309.0,655.5 309.5,656.8 310.0,657.6 310.5,657.4 311.0,657.0 311.5,655.1 312.0,653.2 312.5,653.2 313.0,654.0 313.5,654.2 314.0,653.9 314.5,651.2 315.0,650.5 315.5,650.0 316.0,649.1 316.5,651.1 317.0,651.5 317.5,653.0 318.0,654.0 318.5,653.2 319.0,654.7 319.5,655.1 320.0,657.0 320.5,656.4 321.0,655.8 321.5,655.4 322.0,655.2 322.5,654.6 323.0,651.9 323.5,650.8 324.0,651.0 324.5,649.2 325.0,648.0 325.5,647.5 326.0,646.5 326.5,646.3 327.0,647.9 327.5,647.3 328.0,648.5 328.5,649.0 329.0,649.1 329.5,649.7 330.0,652.0 330.5,651.6 331.0,651.8 331.5,651.0 332.0,651.3 332.5,651.1 333.0,650.1 333.5,650.3 334.0,650.3 334.5,651.3 335.0,652.2 335.5,652.4 336.0,651.9 336.5,653.5 337.0,652.2 337.5,653.8 338.0,654.0 338.5,650.9 339.0,644.4 339.5,636.5 340.0,638.0 340.5,654.2 341.0,671.5 341.5,681.5 342.0,679.8 342.5,668.4 343.0,660.0 343.5,655.2 344.0,654.1 344.5,655.4 345.0,656.2 345.5,655.8 346.0,655.3 346.5,655.8 347.0,657.7 347.5,656.1 348.0,656.9 348.5,657.2 349.0,656.3 349.5,657.3 350.0,654.6 350.5,652.7 351.0,650.8 351.5,649.1 352.0,648.5 352.5,647.2 353.0,646.2 353.5,645.8 354.0,646.6 354.5,644.6 355.0,644.7 355.5,643.7 356.0,644.5 356.5,644.2 357.0,644.3 357.5,645.2 358.0,644.1 358.5,644.0 359.0,641.4 359.5,640.7 360.0,640.2 360.5,641.8 361.0,642.4 361.5,642.5 362.0,645.0 362.5,646.0 363.0,647.6 363.5,649.5 364.0,651.1 364.5,651.6 365.0,650.8 365.5,650.9 366.0,648.5 366.5,648.4 367.0,649.9 367.5,650.3 368.0,650.7 368.5,653.4 369.0,656.3 369.5,656.8 370.0,658.1 370.5,657.6 371.0,658.4 371.5,657.1 372.0,656.7 372.5,656.1 373.0,655.3 373.5,654.9 374.0,653.8 374.5,652.4 375.0,652.0 375.5,650.9 376.0,649.2 376.5,648.1 377.0,649.2 377.5,648.3 378.0,649.0 378.5,649.8 379.0,649.7 379.5,650.7 380.0,653.0 380.5,653.4 381.0,653.6 381.5,651.7 382.0,650.9 382.5,647.9 383.0,645.9 383.5,644.8 384.0,642.9 384.5,643.0 385.0,644.6 385.5,645.6 386.0,647.9 386.5,650.2 387.0,650.7 387.5,652.3 388.0,654.1 388.5,654.7 389.0,655.4 389.5,655.8 390.0,656.0 390.5,655.2 391.0,656.2 391.5,654.7 392.0,654.4 392.5,654.0 393.0,652.9 393.5,653.9 394.0,652.0 394.5,648.7 395.0,647.2 395.5,638.7 396.0,632.9 396.5,637.1 397.0,651.4 397.5,667.5 398.0,675.3 398.5,676.0 399.0,669.1 399.5,662.9 400.0,658.4 400.5,655.7 401.0,656.1 401.5,654.7 402.0,655.4 402.5,655.1 403.0,657.9 403.5,658.3 404.0,657.6 404.5,657.4 405.0,657.8 405.5,658.2 406.0,656.7 406.5,653.8 407.0,652.9 407.5,651.6 408.0,649.5 408.5,648.6 409.0,647.6 409.5,647.3 410.0,646.8 410.5,644.9 411.0,646.3 411.5,646.3 412.0,646.7 412.5,646.0 413.0,646.8 413.5,647.6 414.0,644.3 414.5,644.8 415.0,644.3 415.5,644.2 416.0,642.9 416.5,643.6 417.0,642.5 417.5,642.7 418.0,645.1 418.5,645.6 419.0,645.6 419.5,647.5 420.0,649.6 420.5,649.7 421.0,651.1 421.5,651.0 422.0,651.7 422.5,653.0 423.0,653.6 423.5,652.5 424.0,652.1 424.5,649.6 425.0,649.5 425.5,648.6 426.0,647.8 426.5,649.4 427.0,651.1 427.5,653.0 428.0,654.4 428.5,655.7 429.0,656.6 429.5,656.6 430.0,657.4 430.5,656.4 431.0,656.0 431.5,654.3 432.0,652.6 432.5,651.7 433.0,652.7 433.5,651.5 434.0,649.3 434.5,648.7 435.0,647.2 435.5,646.1 436.0,647.4 436.5,647.0 437.0,648.3 437.5,648.3 438.0,647.5 438.5,647.6 439.0,647.9 439.5,648.8 440.0,648.9 440.5,648.5 441.0,648.3 441.5,648.2 442.0,649.0 442.5,648.4 443.0,648.7 443.5,649.2 444.0,650.6 444.5,650.4 445.0,651.4 445.5,652.1 446.0,652.5 446.5,652.2 447.0,654.4 447.5,653.5 448.0,654.9 448.5,655.0 449.0,656.4 449.5,655.2 450.0,654.8 450.5,652.9 451.0,648.2 451.5,637.7 452.0,632.2 452.5,639.6 453.0,657.4 453.5,673.0 454.0,680.7 454.5,676.6 455.0,668.3 455.5,660.0 456.0,658.9 456.5,658.9 457.0,659.9 457.5,659.7 458.0,659.8 458.5,659.3 459.0,658.7 459.5,658.2 460.0,657.5 460.5,655.5 461.0,654.3 461.5,650.8 462.0,649.4 462.5,648.9 463.0,647.9 463.5,647.7 464.0,646.6 464.5,646.6 465.0,646.1 465.5,646.7 466.0,647.1 466.5,648.6 467.0,649.3 467.5,649.0 468.0,647.1 468.5,646.1 469.0,642.8 469.5,640.9 470.0,639.8 470.5,638.7 471.0,638.0 471.5,637.8 472.0,639.0 472.5,638.1 473.0,637.6 473.5,638.2 474.0,639.7 474.5,643.3 475.0,646.7 475.5,649.6 476.0,652.7 476.5,652.5 477.0,652.5 477.5,651.0 478.0,650.3 478.5,650.3 479.0,650.3 479.5,650.0 480.0,650.5 480.5,649.1 481.0,650.3 481.5,652.5 482.0,651.9 482.5,653.5 483.0,656.0 483.5,654.1 484.0,653.6 484.5,653.9 485.0,653.8 485.5,653.2 486.0,652.0 486.5,651.5 487.0,649.1 487.5,646.4 488.0,647.4 488.5,647.8 489.0,649.8 489.5,651.8 490.0,650.8 490.5,651.2 491.0,653.5 491.5,654.7 492.0,654.2 492.5,653.7 493.0,652.5 493.5,649.0 494.0,647.4 494.5,643.9 495.0,642.6 495.5,642.5 496.0,642.0 496.5,642.7 497.0,644.5 497.5,646.5 498.0,648.4 498.5,649.0 499.0,647.9 499.5,648.7 500.0,649.3 500.5,650.1 501.0,649.3 501.5,647.4 502.0,647.1 502.5,645.7 503.0,647.6 503.5,649.7 504.0,651.2 504.5,652.2 505.0,654.6 505.5,655.1 506.0,653.2 506.5,651.8 507.0,645.4 507.5,636.8 508.0,633.8 508.5,642.9 509.0,660.1 509.5,674.8 510.0,677.8 510.5,672.2 511.0,662.5 511.5,656.2 512.0,654.9 512.5,655.7 513.0,658.4 513.5,658.2 514.0,657.3 514.5,656.9 515.0,657.1 515.5,655.8 516.0,654.8 516.5,654.7 517.0,653.5 517.5,652.2 518.0,649.8 518.5,646.9 519.0,646.2 519.5,647.2 520.0,646.6 520.5,648.9 521.0,648.7 521.5,647.9 522.0,646.4 522.5,645.0 523.0,642.2 523.5,640.9 524.0,639.3 524.5,636.4 525.0,638.1 525.5,637.5 526.0,636.5 526.5,636.9 527.0,639.3 527.5,639.9 528.0,640.9 528.5,641.5 529.0,644.5 529.5,646.5 530.0,647.1 530.5,647.6 531.0,646.3 531.5,648.0 532.0,649.1 532.5,648.8 533.0,650.8 533.5,650.0 534.0,649.9 534.5,649.2 535.0,652.3 535.5,650.9 536.0,652.2 536.5,654.2 537.0,655.9 537.5,655.7 538.0,655.3 538.5,656.4 539.0,654.7 539.5,655.3 540.0,655.1 540.5,655.6 541.0,654.8 541.5,655.3 542.0,654.8 542.5,652.8 543.0,652.5 543.5,651.7 544.0,650.4 544.5,649.6 545.0,648.2 545.5,649.4 546.0,649.9 546.5,650.7 547.0,652.6 547.5,652.4 548.0,653.9 548.5,652.8 549.0,651.7 549.5,650.2 550.0,648.7 550.5,647.1 551.0,646.3 551.5,646.6 552.0,647.2 552.5,645.8 553.0,647.5 553.5,648.0 554.0,647.7 554.5,646.9 555.0,648.4 555.5,651.2 556.0,652.5 556.5,653.9 557.0,654.3 557.5,653.7 558.0,653.3 558.5,655.2 559.0,656.8 559.5,654.5 560.0,654.6 560.5,655.2 561.0,654.2 561.5,649.9 562.0,644.3 562.5,636.0 563.0,631.6 563.5,642.6 564.0,659.3 564.5,672.1 565.0,675.0 565.5,668.3 566.0,658.8 566.5,653.9 567.0,651.4 567.5,653.6 568.0,655.6 568.5,655.5 569.0,657.0 569.5,658.4 570.0,659.5 570.5,660.1 571.0,660.6 571.5,659.4 572.0,659.7 572.5,658.1 573.0,656.3 573.5,654.1 574.0,652.5 574.5,648.6 575.0,646.8 575.5,646.0 576.0,647.2 576.5,647.5 577.0,646.3 577.5,646.5 578.0,647.0 578.5,645.9 579.0,646.1 579.5,646.2 580.0,643.1 580.5,642.1 581.0,641.6 581.5,642.1 582.0,640.3 582.5,638.5 583.0,637.6 583.5,638.2 584.0,640.1 584.5,643.5 585.0,642.5 585.5,644.4 586.0,645.5 586.5,648.7 587.0,650.3 587.5,651.5 588.0,650.9 588.5,653.1 589.0,654.5 589.5,656.3 590.0,655.3" fill="none" stroke="#1c1515" stroke-width="1.15" stroke-linejoin="round"/><polyline points="55.0,717.5 55.5,716.3 56.0,715.0 56.5,711.3 57.0,711.3 57.5,707.9 58.0,708.1 58.5,708.5 59.0,706.7 59.5,701.9 60.0,698.4 60.5,705.3 61.0,723.5 61.5,738.2 62.0,740.5 62.5,730.9 63.0,721.3 63.5,718.2 64.0,716.7 64.5,715.4 65.0,714.3 65.5,715.0 66.0,714.5 66.5,713.2 67.0,712.8 67.5,712.9 68.0,713.1 68.5,714.5 69.0,715.8 69.5,715.6 70.0,716.5 70.5,716.7 71.0,717.0 71.5,715.1 72.0,713.7 72.5,712.8 73.0,712.7 73.5,710.3 74.0,709.8 74.5,707.3 75.0,705.6 75.5,703.4 76.0,703.8 76.5,704.0 77.0,703.6 77.5,705.2 78.0,704.9 78.5,705.0 79.0,704.8 79.5,706.3 80.0,707.7 80.5,707.9 81.0,708.0 81.5,707.6 82.0,706.4 82.5,706.1 83.0,705.5 83.5,704.8 84.0,702.8 84.5,702.6 85.0,703.2 85.5,704.1 86.0,707.8 86.5,711.4 87.0,711.7 87.5,713.7 88.0,715.0 88.5,717.4 89.0,718.4 89.5,715.9 90.0,715.2 90.5,712.5 91.0,710.3 91.5,709.5 92.0,707.2 92.5,706.2 93.0,707.0 93.5,707.7 94.0,707.5 94.5,707.0 95.0,707.8 95.5,709.4 96.0,710.0 96.5,709.8 97.0,711.2 97.5,711.7 98.0,714.2 98.5,713.7 99.0,712.5 99.5,711.2 100.0,710.7 100.5,710.1 101.0,709.6 101.5,711.1 102.0,710.4 102.5,710.5 103.0,709.6 103.5,709.0 104.0,709.4 104.5,709.7 105.0,709.3 105.5,710.4 106.0,713.0 106.5,714.3 107.0,712.6 107.5,711.4 108.0,712.9 108.5,712.2 109.0,710.8 109.5,710.9 110.0,710.5 110.5,708.9 111.0,709.3 111.5,710.5 112.0,710.7 112.5,711.4 113.0,714.7 113.5,716.4 114.0,716.4 114.5,716.7 115.0,716.8 115.5,712.9 116.0,706.0 116.5,703.8 117.0,710.5 117.5,725.4 118.0,733.4 118.5,733.1 119.0,723.7 119.5,717.8 120.0,717.2 120.5,718.6 121.0,719.1 121.5,720.7 122.0,722.7 122.5,723.6 123.0,722.7 123.5,722.6 124.0,720.2 124.5,717.3 125.0,716.0 125.5,714.8 126.0,713.3 126.5,711.2 127.0,709.3 127.5,709.7 128.0,710.9 128.5,711.4 129.0,713.3 129.5,713.0 130.0,715.1 130.5,715.6 131.0,716.9 131.5,718.2 132.0,719.0 132.5,717.4 133.0,716.4 133.5,713.6 134.0,709.5 134.5,708.3 135.0,707.1 135.5,705.2 136.0,705.5 136.5,705.1 137.0,704.9 137.5,706.5 138.0,708.1 138.5,708.4 139.0,711.7 139.5,712.1 140.0,716.1 140.5,718.1 141.0,717.5 141.5,720.2 142.0,721.5 142.5,720.1 143.0,718.3 143.5,718.6 144.0,717.1 144.5,714.2 145.0,713.5 145.5,713.5 146.0,711.9 146.5,712.0 147.0,709.6 147.5,709.4 148.0,711.7 148.5,713.4 149.0,713.6 149.5,714.7 150.0,715.6 150.5,716.8 151.0,715.3 151.5,716.3 152.0,716.8 152.5,714.9 153.0,716.0 153.5,715.5 154.0,714.2 154.5,714.0 155.0,712.3 155.5,712.2 156.0,711.7 156.5,709.6 157.0,708.8 157.5,709.4 158.0,709.9 158.5,711.5 159.0,711.0 159.5,711.2 160.0,711.2 160.5,709.8 161.0,709.2 161.5,707.1 162.0,707.4 162.5,706.4 163.0,708.0 163.5,706.1 164.0,706.9 164.5,705.4 165.0,706.4 165.5,706.2 166.0,708.0 166.5,710.6 167.0,713.7 167.5,716.0 168.0,719.5 168.5,720.3 169.0,720.5 169.5,718.3 170.0,718.2 170.5,717.1 171.0,712.9 171.5,709.7 172.0,701.0 172.5,701.0 173.0,718.9 173.5,740.4 174.0,752.4 174.5,747.7 175.0,736.7 175.5,727.9 176.0,723.5 176.5,722.5 177.0,722.2 177.5,721.9 178.0,722.1 178.5,721.3 179.0,722.7 179.5,721.1 180.0,719.8 180.5,717.5 181.0,716.9 181.5,717.5 182.0,715.8 182.5,716.5 183.0,717.0 183.5,717.4 184.0,716.0 184.5,716.5 185.0,716.6 185.5,713.3 186.0,713.3 186.5,712.8 187.0,712.3 187.5,710.3 188.0,708.2 188.5,706.5 189.0,705.1 189.5,703.8 190.0,702.8 190.5,702.4 191.0,703.5 191.5,705.4 192.0,706.1 192.5,707.3 193.0,708.5 193.5,711.3 194.0,713.8 194.5,713.8 195.0,715.0 195.5,712.7 196.0,711.4 196.5,711.3 197.0,711.1 197.5,708.7 198.0,706.0 198.5,703.4 199.0,706.1 199.5,707.4 200.0,710.3 200.5,712.6 201.0,714.6 201.5,714.4 202.0,715.9 202.5,716.0 203.0,715.1 203.5,713.1 204.0,714.8 204.5,715.2 205.0,715.0 205.5,714.5 206.0,713.9 206.5,714.5 207.0,714.6 207.5,716.0 208.0,717.1 208.5,717.9 209.0,719.5 209.5,719.1 210.0,716.9 210.5,717.2 211.0,716.4 211.5,715.3 212.0,714.2 212.5,713.5 213.0,712.2 213.5,710.7 214.0,711.3 214.5,711.1 215.0,713.4 215.5,714.4 216.0,716.2 216.5,717.9 217.0,714.3 217.5,713.4 218.0,712.4 218.5,710.9 219.0,709.6 219.5,707.8 220.0,708.8 220.5,711.9 221.0,711.9 221.5,713.2 222.0,713.2 222.5,714.8 223.0,715.1 223.5,715.1 224.0,715.6 224.5,715.7 225.0,718.1 225.5,718.3 226.0,715.9 226.5,708.5 227.0,701.9 227.5,710.5 228.0,726.7 228.5,742.6 229.0,745.3 229.5,736.6 230.0,723.8 230.5,720.2 231.0,719.2 231.5,719.8 232.0,720.9 232.5,722.7 233.0,722.5 233.5,725.1 234.0,723.9 234.5,722.8 235.0,721.6 235.5,719.2 236.0,716.7 236.5,715.9 237.0,712.7 237.5,712.7 238.0,711.6 238.5,711.8 239.0,711.2 239.5,712.4 240.0,713.5 240.5,714.5 241.0,714.8 241.5,715.2 242.0,715.5 242.5,714.4 243.0,712.7 243.5,709.9 244.0,708.4 244.5,706.2 245.0,702.9 245.5,701.2 246.0,699.0 246.5,698.4 247.0,699.4 247.5,700.1 248.0,702.6 248.5,703.3 249.0,707.4 249.5,709.0 250.0,711.4 250.5,712.4 251.0,712.0 251.5,712.9 252.0,714.1 252.5,713.5 253.0,712.1 253.5,710.9 254.0,710.4 254.5,712.5 255.0,711.0 255.5,709.4 256.0,711.0 256.5,712.8 257.0,711.8 257.5,713.3 258.0,713.3 258.5,714.9 259.0,715.4 259.5,716.1 260.0,716.2 260.5,714.6 261.0,714.0 261.5,713.6 262.0,712.3 262.5,710.8 263.0,710.5 263.5,711.7 264.0,712.5 264.5,714.5 265.0,718.4 265.5,720.0 266.0,721.0 266.5,719.5 267.0,718.7 267.5,717.8 268.0,717.5 268.5,714.8 269.0,713.1 269.5,710.4 270.0,709.7 270.5,709.8 271.0,709.1 271.5,709.6 272.0,710.0 272.5,711.8 273.0,712.1 273.5,714.4 274.0,716.6 274.5,717.6 275.0,717.4 275.5,716.1 276.0,715.4 276.5,716.7 277.0,716.1 277.5,714.2 278.0,714.2 278.5,713.4 279.0,712.9 279.5,714.0 280.0,715.1 280.5,715.0 281.0,715.7 281.5,714.6 282.0,712.3 282.5,708.4 283.0,708.3 283.5,723.9 284.0,744.7 284.5,752.5 285.0,747.6 285.5,730.7 286.0,721.3 286.5,717.8 287.0,717.7 287.5,718.9 288.0,720.2 288.5,721.5 289.0,722.9 289.5,723.7 290.0,725.0 290.5,725.7 291.0,724.8 291.5,723.4 292.0,720.7 292.5,718.2 293.0,717.1 293.5,715.8 294.0,711.8 294.5,712.8 295.0,712.5 295.5,714.9 296.0,713.8 296.5,714.5 297.0,715.4 297.5,714.9 298.0,716.0 298.5,715.1 299.0,713.2 299.5,710.3 300.0,708.6 300.5,707.3 301.0,705.0 301.5,702.7 302.0,701.3 302.5,703.4 303.0,703.2 303.5,704.1 304.0,707.0 304.5,708.8 305.0,712.0 305.5,713.6 306.0,713.4 306.5,714.5 307.0,713.2 307.5,713.4 308.0,711.7 308.5,710.8 309.0,711.7 309.5,710.5 310.0,712.3 310.5,712.1 311.0,713.3 311.5,712.4 312.0,713.7 312.5,715.8 313.0,715.3 313.5,717.1 314.0,716.3 314.5,715.8 315.0,714.2 315.5,714.2 316.0,712.1 316.5,712.7 317.0,710.4 317.5,708.8 318.0,709.0 318.5,709.5 319.0,711.5 319.5,713.1 320.0,714.7 320.5,715.3 321.0,717.3 321.5,718.9 322.0,718.7 322.5,718.0 323.0,716.3 323.5,715.8 324.0,714.8 324.5,715.9 325.0,714.2 325.5,714.0 326.0,711.6 326.5,713.8 327.0,713.5 327.5,713.5 328.0,712.3 328.5,713.5 329.0,714.4 329.5,714.7 330.0,713.9 330.5,714.4 331.0,714.2 331.5,714.0 332.0,714.5 332.5,714.5 333.0,714.8 333.5,715.0 334.0,715.9 334.5,714.7 335.0,714.8 335.5,717.5 336.0,716.0 336.5,718.1 337.0,718.0 337.5,717.8 338.0,717.1 338.5,716.1 339.0,716.4 339.5,712.6 340.0,705.2 340.5,702.8 341.0,713.1 341.5,728.6 342.0,737.5 342.5,734.9 343.0,725.9 343.5,719.8 344.0,718.4 344.5,718.8 345.0,719.0 345.5,720.1 346.0,720.9 346.5,721.3 347.0,722.6 347.5,723.6 348.0,721.4 348.5,720.4 349.0,719.0 349.5,716.9 350.0,715.2 350.5,713.1 351.0,711.4 351.5,713.3 352.0,713.9 352.5,714.5 353.0,714.6 353.5,715.7 354.0,716.1 354.5,716.7 355.0,715.7 355.5,716.2 356.0,715.4 356.5,712.9 357.0,711.8 357.5,710.8 358.0,707.4 358.5,706.3 359.0,705.4 359.5,705.0 360.0,705.7 360.5,706.0 361.0,707.3 361.5,707.6 362.0,708.6 362.5,711.3 363.0,712.4 363.5,714.2 364.0,714.1 364.5,715.5 365.0,715.1 365.5,714.7 366.0,715.2 366.5,713.5 367.0,712.8 367.5,712.1 368.0,710.5 368.5,710.4 369.0,711.2 369.5,712.5 370.0,715.4 370.5,718.5 371.0,719.0 371.5,719.8 372.0,718.7 372.5,717.4 373.0,716.8 373.5,716.3 374.0,715.4 374.5,714.9 375.0,714.2 375.5,712.4 376.0,712.0 376.5,711.0 377.0,713.1 377.5,712.6 378.0,712.9 378.5,714.1 379.0,715.6 379.5,716.4 380.0,716.8 380.5,718.0 381.0,718.2 381.5,718.4 382.0,715.9 382.5,714.1 383.0,710.1 383.5,708.9 384.0,706.3 384.5,706.4 385.0,708.2 385.5,711.0 386.0,711.9 386.5,713.7 387.0,714.6 387.5,713.8 388.0,716.2 388.5,717.1 389.0,718.0 389.5,718.1 390.0,714.7 390.5,715.0 391.0,715.6 391.5,713.4 392.0,712.4 392.5,711.2 393.0,712.2 393.5,713.1 394.0,713.1 394.5,708.0 395.0,703.8 395.5,709.8 396.0,726.6 396.5,742.6 397.0,743.5 397.5,734.1 398.0,725.3 398.5,721.6 399.0,719.3 399.5,720.3 400.0,718.6 400.5,717.8 401.0,717.1 401.5,716.0 402.0,718.7 402.5,720.8 403.0,723.9 403.5,724.2 404.0,726.6 404.5,726.6 405.0,724.3 405.5,722.4 406.0,721.1 406.5,717.9 407.0,714.9 407.5,713.4 408.0,710.8 408.5,710.7 409.0,708.1 409.5,705.9 410.0,706.0 410.5,707.4 411.0,710.3 411.5,710.8 412.0,712.0 412.5,713.7 413.0,716.1 413.5,714.0 414.0,711.9 414.5,712.0 415.0,711.3 415.5,710.6 416.0,710.0 416.5,709.8 417.0,710.0 417.5,709.5 418.0,710.6 418.5,710.9 419.0,710.0 419.5,712.2 420.0,714.6 420.5,716.1 421.0,717.3 421.5,719.4 422.0,719.3 422.5,721.2 423.0,721.6 423.5,720.9 424.0,719.7 424.5,718.3 425.0,716.0 425.5,715.7 426.0,714.1 426.5,713.8 427.0,713.8 427.5,711.5 428.0,710.2 428.5,713.4 429.0,712.5 429.5,714.4 430.0,716.1 430.5,718.3 431.0,718.4 431.5,717.5 432.0,716.6 432.5,716.0 433.0,714.7 433.5,713.5 434.0,712.1 434.5,711.6 435.0,712.4 435.5,714.1 436.0,713.9 436.5,713.4 437.0,712.8 437.5,712.3 438.0,711.6 438.5,710.7 439.0,710.2 439.5,710.7 440.0,711.2 440.5,709.0 441.0,711.0 441.5,710.0 442.0,710.4 442.5,711.8 443.0,712.1 443.5,712.2 444.0,712.9 444.5,713.2 445.0,714.9 445.5,715.3 446.0,715.9 446.5,715.6 447.0,717.5 447.5,718.8 448.0,718.6 448.5,718.6 449.0,719.0 449.5,718.1 450.0,714.9 450.5,709.9 451.0,707.6 451.5,716.2 452.0,734.0 452.5,744.3 453.0,738.9 453.5,726.8 454.0,716.2 454.5,712.3 455.0,713.7 455.5,716.2 456.0,715.5 456.5,717.7 457.0,719.2 457.5,720.6 458.0,721.2 458.5,722.1 459.0,723.7 459.5,725.1 460.0,722.6 460.5,719.6 461.0,715.8 461.5,713.2 462.0,711.4 462.5,712.3 463.0,713.6 463.5,714.2 464.0,716.4 464.5,717.9 465.0,717.8 465.5,716.3 466.0,713.1 466.5,711.9 467.0,710.1 467.5,710.1 468.0,706.3 468.5,705.1 469.0,704.6 469.5,702.9 470.0,704.0 470.5,705.1 471.0,706.1 471.5,708.2 472.0,710.3 472.5,712.7 473.0,715.6 473.5,715.9 474.0,715.9 474.5,714.4 475.0,713.8 475.5,713.7 476.0,714.4 476.5,712.3 477.0,711.0 477.5,709.8 478.0,712.8 478.5,714.7 479.0,715.4 479.5,716.9 480.0,717.9 480.5,719.6 481.0,718.3 481.5,716.7 482.0,715.6 482.5,714.6 483.0,713.6 483.5,712.5 484.0,710.9 484.5,708.1 485.0,708.8 485.5,708.8 486.0,709.1 486.5,711.1 487.0,713.5 487.5,712.8 488.0,715.1 488.5,715.4 489.0,713.4 489.5,711.6 490.0,708.5 490.5,707.1 491.0,707.1 491.5,705.6 492.0,705.5 492.5,707.2 493.0,708.9 493.5,711.1 494.0,712.9 494.5,714.1 495.0,715.8 495.5,713.3 496.0,711.5 496.5,709.5 497.0,708.5 497.5,707.2 498.0,707.7 498.5,705.8 499.0,704.8 499.5,705.3 500.0,707.3 500.5,705.7 501.0,707.3 501.5,708.5 502.0,708.7 502.5,708.1 503.0,709.7 503.5,710.0 504.0,710.2 504.5,710.7 505.0,712.1 505.5,712.3 506.0,712.7 506.5,712.0 507.0,710.5 507.5,707.8 508.0,703.0 508.5,700.8 509.0,710.8 509.5,724.2 510.0,731.1 510.5,729.8 511.0,722.6 511.5,717.3 512.0,716.1 512.5,719.0 513.0,716.9 513.5,716.9 514.0,716.6 514.5,716.6 515.0,714.5 515.5,714.7 516.0,712.9 516.5,714.2 517.0,715.1 517.5,714.6 518.0,714.7 518.5,715.8 519.0,717.5 519.5,717.5 520.0,717.4 520.5,717.0 521.0,716.0 521.5,716.6 522.0,715.0 522.5,714.5 523.0,712.3 523.5,710.8 524.0,710.4 524.5,708.4 525.0,706.1 525.5,706.2 526.0,706.5 526.5,708.2 527.0,708.2 527.5,707.1 528.0,704.9 528.5,703.7 529.0,704.7 529.5,704.2 530.0,705.7 530.5,706.4 531.0,708.5 531.5,710.1 532.0,711.9 532.5,713.3 533.0,713.9 533.5,715.9 534.0,716.3 534.5,717.9 535.0,718.5 535.5,719.8 536.0,718.0 536.5,716.0 537.0,714.1 537.5,712.6 538.0,710.2 538.5,710.7 539.0,711.9 539.5,712.8 540.0,713.5 540.5,713.5 541.0,714.8 541.5,715.3 542.0,715.4 542.5,713.7 543.0,712.9 543.5,712.1 544.0,710.8 544.5,710.2 545.0,709.7 545.5,709.9 546.0,713.1 546.5,713.2 547.0,713.4 547.5,714.3 548.0,715.3 548.5,715.5 549.0,715.1 549.5,713.5 550.0,713.6 550.5,710.5 551.0,709.9 551.5,707.7 552.0,705.4 552.5,706.0 553.0,707.8 553.5,710.4 554.0,712.8 554.5,715.2 555.0,717.7 555.5,716.3 556.0,717.7 556.5,717.4 557.0,716.8 557.5,715.6 558.0,713.8 558.5,712.3 559.0,711.2 559.5,711.0 560.0,711.5 560.5,712.0 561.0,714.1 561.5,715.6 562.0,716.0 562.5,712.0 563.0,706.9 563.5,711.7 564.0,727.2 564.5,742.9 565.0,748.7 565.5,738.5 566.0,723.9 566.5,718.3 567.0,716.5 567.5,717.8 568.0,717.7 568.5,719.6 569.0,720.2 569.5,720.0 570.0,720.6 570.5,722.7 571.0,721.7 571.5,721.7 572.0,721.9 572.5,719.3 573.0,718.4 573.5,715.5 574.0,716.1 574.5,713.5 575.0,712.0 575.5,710.2 576.0,709.7 576.5,710.9 577.0,712.1 577.5,713.0 578.0,712.3 578.5,712.9 579.0,713.6 579.5,714.4 580.0,712.3 580.5,710.2 581.0,707.7 581.5,706.6 582.0,705.4 582.5,704.1 583.0,703.4 583.5,702.2 584.0,703.0 584.5,704.9 585.0,706.9 585.5,708.5 586.0,712.4 586.5,714.4 587.0,717.1 587.5,718.9 588.0,717.9 588.5,717.3 589.0,715.3 589.5,716.3 590.0,715.4" fill="none" stroke="#1c1515" stroke-width="1.15" stroke-linejoin="round"/><polyline points="55.0,756.9 55.5,756.3 56.0,753.1 56.5,753.7 57.0,751.9 57.5,751.6 58.0,751.6 58.5,751.0 59.0,751.4 59.5,750.4 60.0,743.6 60.5,743.1 61.0,753.8 61.5,770.2 62.0,778.9 62.5,778.0 63.0,767.2 63.5,757.2 64.0,751.8 64.5,748.9 65.0,745.0 65.5,744.8 66.0,744.7 66.5,746.0 67.0,747.3 67.5,749.0 68.0,750.5 68.5,750.5 69.0,752.6 69.5,752.2 70.0,752.0 70.5,752.0 71.0,754.5 71.5,754.7 72.0,755.0 72.5,754.0 73.0,752.2 73.5,751.5 74.0,751.1 74.5,750.9 75.0,750.9 75.5,751.4 76.0,751.5 76.5,751.8 77.0,753.5 77.5,756.0 78.0,756.3 78.5,758.4 79.0,760.0 79.5,760.2 80.0,759.0 80.5,758.7 81.0,759.1 81.5,759.1 82.0,757.6 82.5,755.7 83.0,755.4 83.5,753.3 84.0,754.3 84.5,754.8 85.0,753.9 85.5,751.8 86.0,753.3 86.5,754.2 87.0,754.2 87.5,755.7 88.0,758.2 88.5,759.5 89.0,761.5 89.5,759.8 90.0,759.2 90.5,755.9 91.0,755.8 91.5,754.7 92.0,753.2 92.5,752.2 93.0,750.3 93.5,748.8 94.0,750.6 94.5,752.3 95.0,752.6 95.5,752.0 96.0,752.4 96.5,753.4 97.0,755.3 97.5,755.5 98.0,755.2 98.5,756.7 99.0,755.4 99.5,754.4 100.0,753.7 100.5,753.3 101.0,752.4 101.5,752.1 102.0,751.8 102.5,751.9 103.0,751.2 103.5,750.4 104.0,747.6 104.5,750.2 105.0,751.7 105.5,753.3 106.0,752.6 106.5,754.0 107.0,755.1 107.5,755.8 108.0,755.9 108.5,754.8 109.0,753.4 109.5,753.6 110.0,750.9 110.5,750.8 111.0,751.8 111.5,748.7 112.0,749.6 112.5,748.9 113.0,750.1 113.5,751.3 114.0,751.3 114.5,751.1 115.0,747.6 115.5,739.0 116.0,737.7 116.5,750.1 117.0,766.5 117.5,773.9 118.0,769.8 118.5,760.9 119.0,753.5 119.5,749.8 120.0,748.3 120.5,749.7 121.0,751.4 121.5,752.4 122.0,754.7 122.5,755.6 123.0,754.8 123.5,755.2 124.0,753.0 124.5,751.9 125.0,748.4 125.5,745.4 126.0,745.2 126.5,746.3 127.0,747.1 127.5,750.1 128.0,751.4 128.5,753.2 129.0,754.2 129.5,755.2 130.0,756.7 130.5,755.9 131.0,757.8 131.5,757.1 132.0,755.8 132.5,755.3 133.0,756.5 133.5,758.1 134.0,755.3 134.5,756.7 135.0,756.1 135.5,756.3 136.0,758.3 136.5,757.7 137.0,756.7 137.5,757.8 138.0,757.8 138.5,756.8 139.0,756.0 139.5,756.0 140.0,754.8 140.5,752.2 141.0,752.1 141.5,751.2 142.0,749.3 142.5,749.4 143.0,750.7 143.5,750.4 144.0,753.4 144.5,753.2 145.0,753.7 145.5,754.4 146.0,754.8 146.5,755.8 147.0,756.4 147.5,757.0 148.0,755.6 148.5,753.8 149.0,751.9 149.5,750.0 150.0,748.3 150.5,747.3 151.0,747.7 151.5,747.7 152.0,748.0 152.5,748.2 153.0,749.9 153.5,751.5 154.0,751.4 154.5,751.4 155.0,753.8 155.5,753.8 156.0,755.1 156.5,754.1 157.0,753.5 157.5,753.2 158.0,752.4 158.5,752.2 159.0,753.8 159.5,755.7 160.0,757.0 160.5,760.0 161.0,759.5 161.5,759.2 162.0,758.4 162.5,759.1 163.0,760.1 163.5,759.3 164.0,757.2 164.5,756.9 165.0,755.0 165.5,755.6 166.0,751.6 166.5,748.3 167.0,750.3 167.5,752.2 168.0,753.2 168.5,754.2 169.0,757.0 169.5,757.2 170.0,755.5 170.5,750.6 171.0,741.5 171.5,732.8 172.0,737.8 172.5,752.8 173.0,765.1 173.5,767.7 174.0,764.2 174.5,759.2 175.0,754.9 175.5,753.7 176.0,753.5 176.5,756.0 177.0,757.6 177.5,758.4 178.0,756.6 178.5,755.9 179.0,754.8 179.5,752.3 180.0,751.2 180.5,749.6 181.0,747.3 181.5,744.7 182.0,744.3 182.5,746.7 183.0,749.0 183.5,750.1 184.0,753.2 184.5,756.9 185.0,755.4 185.5,753.1 186.0,753.2 186.5,752.6 187.0,752.5 187.5,752.9 188.0,752.5 188.5,753.6 189.0,752.4 189.5,751.9 190.0,752.6 190.5,754.5 191.0,755.8 191.5,758.2 192.0,758.9 192.5,760.7 193.0,763.0 193.5,763.8 194.0,762.7 194.5,760.1 195.0,757.0 195.5,754.1 196.0,751.8 196.5,749.9 197.0,749.1 197.5,748.8 198.0,746.0 198.5,747.8 199.0,749.1 199.5,749.4 200.0,752.6 200.5,752.1 201.0,754.3 201.5,755.1 202.0,752.8 202.5,753.0 203.0,752.9 203.5,750.7 204.0,749.2 204.5,749.2 205.0,749.7 205.5,751.0 206.0,751.9 206.5,754.2 207.0,756.7 207.5,758.4 208.0,760.8 208.5,760.5 209.0,758.9 209.5,757.5 210.0,757.2 210.5,756.4 211.0,755.6 211.5,754.7 212.0,752.9 212.5,752.7 213.0,753.8 213.5,754.8 214.0,756.9 214.5,757.3 215.0,756.4 215.5,756.6 216.0,758.2 216.5,758.1 217.0,757.1 217.5,756.5 218.0,754.7 218.5,753.0 219.0,752.4 219.5,749.7 220.0,749.6 220.5,751.8 221.0,752.0 221.5,752.0 222.0,754.0 222.5,754.1 223.0,755.5 223.5,752.5 224.0,753.5 224.5,751.9 225.0,751.5 225.5,750.9 226.0,750.5 226.5,749.8 227.0,747.1 227.5,739.4 228.0,733.6 228.5,737.7 229.0,754.9 229.5,769.1 230.0,772.3 230.5,767.2 231.0,759.4 231.5,755.0 232.0,753.9 232.5,751.4 233.0,750.5 233.5,749.6 234.0,750.6 234.5,752.5 235.0,752.0 235.5,752.0 236.0,753.0 236.5,753.6 237.0,753.4 237.5,754.3 238.0,754.0 238.5,756.2 239.0,755.5 239.5,754.2 240.0,752.2 240.5,753.1 241.0,751.7 241.5,750.4 242.0,753.1 242.5,756.6 243.0,759.1 243.5,761.0 244.0,762.5 244.5,765.0 245.0,763.1 245.5,761.3 246.0,759.0 246.5,757.5 247.0,755.3 247.5,755.1 248.0,756.1 248.5,755.7 249.0,755.7 249.5,757.1 250.0,758.0 250.5,758.0 251.0,758.3 251.5,757.9 252.0,757.6 252.5,757.3 253.0,755.8 253.5,755.9 254.0,753.5 254.5,753.0 255.0,751.9 255.5,751.9 256.0,751.5 256.5,748.4 257.0,749.3 257.5,747.6 258.0,747.6 258.5,748.6 259.0,752.0 259.5,752.9 260.0,754.6 260.5,756.1 261.0,756.3 261.5,755.0 262.0,754.2 262.5,751.4 263.0,751.3 263.5,749.7 264.0,751.3 264.5,752.9 265.0,754.3 265.5,755.7 266.0,757.9 266.5,759.8 267.0,759.9 267.5,758.2 268.0,756.3 268.5,755.2 269.0,755.3 269.5,755.3 270.0,753.8 270.5,753.5 271.0,752.0 271.5,751.6 272.0,751.7 272.5,753.2 273.0,756.0 273.5,758.4 274.0,759.2 274.5,758.1 275.0,757.0 275.5,756.7 276.0,754.7 276.5,753.3 277.0,752.0 277.5,749.8 278.0,752.5 278.5,753.5 279.0,754.8 279.5,757.3 280.0,759.7 280.5,761.6 281.0,759.3 281.5,758.4 282.0,756.2 282.5,753.5 283.0,751.8 283.5,748.7 284.0,745.8 284.5,740.8 285.0,735.7 285.5,745.7 286.0,761.9 286.5,774.3 287.0,775.6 287.5,768.7 288.0,760.1 288.5,756.4 289.0,753.6 289.5,753.5 290.0,752.6 290.5,752.0 291.0,752.0 291.5,751.2 292.0,750.9 292.5,750.0 293.0,749.0 293.5,749.0 294.0,749.3 294.5,749.4 295.0,750.0 295.5,750.6 296.0,750.2 296.5,753.1 297.0,754.5 297.5,754.5 298.0,756.1 298.5,757.3 299.0,757.3 299.5,759.0 300.0,759.1 300.5,758.0 301.0,757.9 301.5,757.0 302.0,755.5 302.5,756.2 303.0,755.3 303.5,754.3 304.0,753.9 304.5,751.4 305.0,752.0 305.5,752.6 306.0,752.4 306.5,753.4 307.0,755.1 307.5,756.2 308.0,756.4 308.5,755.0 309.0,754.8 309.5,753.5 310.0,750.9 310.5,748.4 311.0,746.7 311.5,744.6 312.0,746.6 312.5,749.0 313.0,750.1 313.5,751.4 314.0,752.5 314.5,753.5 315.0,754.7 315.5,756.4 316.0,757.0 316.5,758.9 317.0,759.2 317.5,756.4 318.0,756.0 318.5,753.9 319.0,753.0 319.5,750.5 320.0,748.2 320.5,746.5 321.0,747.3 321.5,750.3 322.0,750.5 322.5,752.8 323.0,754.0 323.5,754.4 324.0,755.9 324.5,756.6 325.0,758.5 325.5,760.0 326.0,759.1 326.5,758.5 327.0,758.3 327.5,757.7 328.0,756.9 328.5,756.1 329.0,755.4 329.5,755.1 330.0,752.2 330.5,750.8 331.0,752.5 331.5,754.8 332.0,754.2 332.5,754.7 333.0,756.1 333.5,757.0 334.0,757.6 334.5,759.3 335.0,758.6 335.5,755.5 336.0,753.9 336.5,751.1 337.0,749.1 337.5,746.6 338.0,745.9 338.5,747.0 339.0,746.7 339.5,745.1 340.0,742.0 340.5,737.2 341.0,743.2 341.5,758.4 342.0,773.4 342.5,777.7 343.0,769.5 343.5,760.1 344.0,754.8 344.5,752.2 345.0,751.2 345.5,749.5 346.0,747.4 346.5,748.7 347.0,747.1 347.5,746.0 348.0,746.8 348.5,745.9 349.0,745.6 349.5,745.2 350.0,746.2 350.5,745.9 351.0,746.7 351.5,748.4 352.0,750.3 352.5,750.8 353.0,753.5 353.5,752.3 354.0,753.2 354.5,753.0 355.0,753.5 355.5,753.4 356.0,753.9 356.5,753.1 357.0,753.4 357.5,752.2 358.0,753.9 358.5,755.1 359.0,756.1 359.5,755.3 360.0,756.7 360.5,757.9 361.0,757.6 361.5,758.9 362.0,758.1 362.5,759.1 363.0,760.2 363.5,760.0 364.0,759.2 364.5,757.6 365.0,755.3 365.5,753.6 366.0,752.2 366.5,750.9 367.0,750.0 367.5,751.4 368.0,751.9 368.5,753.4 369.0,753.5 369.5,753.8 370.0,755.4 370.5,754.5 371.0,754.9 371.5,757.2 372.0,755.1 372.5,754.0 373.0,751.9 373.5,749.9 374.0,748.6 374.5,748.8 375.0,747.6 375.5,745.4 376.0,744.5 376.5,744.3 377.0,746.1 377.5,748.2 378.0,749.3 378.5,750.2 379.0,752.4 379.5,754.2 380.0,754.2 380.5,751.8 381.0,751.5 381.5,751.8 382.0,752.6 382.5,754.2 383.0,754.4 383.5,755.1 384.0,756.0 384.5,755.1 385.0,755.3 385.5,753.7 386.0,754.1 386.5,753.7 387.0,752.6 387.5,751.9 388.0,752.0 388.5,752.7 389.0,753.4 389.5,754.6 390.0,754.6 390.5,752.0 391.0,752.5 391.5,751.7 392.0,751.0 392.5,749.6 393.0,746.7 393.5,746.8 394.0,747.4 394.5,746.0 395.0,745.4 395.5,742.1 396.0,736.3 396.5,733.2 397.0,744.0 397.5,759.8 398.0,771.3 398.5,772.8 399.0,765.7 399.5,759.4 400.0,755.3 400.5,753.3 401.0,752.2 401.5,752.9 402.0,753.0 402.5,752.0 403.0,751.8 403.5,752.4 404.0,750.0 404.5,749.3 405.0,750.4 405.5,749.4 406.0,750.2 406.5,750.9 407.0,754.0 407.5,755.4 408.0,754.1 408.5,755.2 409.0,756.0 409.5,758.6 410.0,756.5 410.5,755.0 411.0,755.3 411.5,754.3 412.0,753.8 412.5,754.0 413.0,753.5 413.5,751.1 414.0,749.3 414.5,750.7 415.0,751.4 415.5,752.3 416.0,754.1 416.5,756.2 417.0,757.2 417.5,758.9 418.0,759.4 418.5,761.8 419.0,762.7 419.5,761.6 420.0,757.9 420.5,756.5 421.0,753.8 421.5,752.8 422.0,753.4 422.5,753.7 423.0,754.4 423.5,754.3 424.0,754.5 424.5,757.3 425.0,757.2 425.5,757.5 426.0,757.1 426.5,755.9 427.0,756.5 427.5,754.6 428.0,753.7 428.5,752.9 429.0,750.7 429.5,749.9 430.0,748.5 430.5,748.3 431.0,748.7 431.5,751.0 432.0,752.3 432.5,752.9 433.0,754.0 433.5,756.5 434.0,757.5 434.5,757.1 435.0,756.4 435.5,755.8 436.0,755.7 436.5,755.3 437.0,753.8 437.5,753.8 438.0,753.8 438.5,753.3 439.0,755.8 439.5,757.3 440.0,758.4 440.5,761.9 441.0,764.9 441.5,763.5 442.0,761.3 442.5,759.9 443.0,759.3 443.5,757.6 444.0,756.9 444.5,756.4 445.0,754.2 445.5,752.3 446.0,750.8 446.5,753.3 447.0,753.3 447.5,753.4 448.0,755.3 448.5,757.5 449.0,756.6 449.5,757.8 450.0,757.8 450.5,752.0 451.0,742.0 451.5,743.9 452.0,756.4 452.5,770.9 453.0,774.6 453.5,770.4 454.0,760.0 454.5,751.0 455.0,747.6 455.5,749.1 456.0,749.2 456.5,751.1 457.0,754.0 457.5,755.7 458.0,756.6 458.5,759.3 459.0,759.0 459.5,758.2 460.0,757.9 460.5,755.6 461.0,755.5 461.5,754.8 462.0,752.7 462.5,751.8 463.0,751.9 463.5,751.7 464.0,750.7 464.5,753.5 465.0,755.8 465.5,756.8 466.0,759.4 466.5,758.3 467.0,759.6 467.5,760.0 468.0,760.1 468.5,759.4 469.0,758.3 469.5,757.8 470.0,758.1 470.5,758.4 471.0,756.3 471.5,755.6 472.0,754.8 472.5,756.1 473.0,756.5 473.5,757.4 474.0,758.3 474.5,758.6 475.0,759.9 475.5,761.8 476.0,759.5 476.5,759.1 477.0,756.2 477.5,755.3 478.0,755.6 478.5,754.4 479.0,754.3 479.5,752.3 480.0,751.6 480.5,749.9 481.0,750.5 481.5,751.2 482.0,752.1 482.5,752.8 483.0,753.5 483.5,753.1 484.0,752.7 484.5,753.3 485.0,755.3 485.5,755.4 486.0,754.4 486.5,754.2 487.0,751.5 487.5,751.2 488.0,749.4 488.5,747.3 489.0,745.3 489.5,746.5 490.0,750.4 490.5,752.3 491.0,752.8 491.5,754.3 492.0,755.6 492.5,758.8 493.0,758.8 493.5,756.3 494.0,756.0 494.5,755.7 495.0,754.6 495.5,752.5 496.0,752.2 496.5,753.9 497.0,755.3 497.5,756.7 498.0,756.4 498.5,757.6 499.0,756.5 499.5,755.5 500.0,755.2 500.5,753.2 501.0,753.4 501.5,751.5 502.0,751.3 502.5,749.0 503.0,749.9 503.5,752.2 504.0,753.9 504.5,756.7 505.0,757.1 505.5,758.5 506.0,758.4 506.5,757.9 507.0,753.9 507.5,747.2 508.0,747.6 508.5,757.4 509.0,770.6 509.5,775.5 510.0,770.5 510.5,761.3 511.0,752.8 511.5,750.0 512.0,749.8 512.5,751.7 513.0,752.4 513.5,753.7 514.0,756.1 514.5,758.0 515.0,757.1 515.5,755.3 516.0,754.6 516.5,752.1 517.0,752.3 517.5,749.4 518.0,747.1 518.5,747.1 519.0,746.9 519.5,747.2 520.0,749.6 520.5,750.5 521.0,751.7 521.5,753.6 522.0,755.2 522.5,757.8 523.0,756.8 523.5,755.0 524.0,755.2 524.5,754.9 525.0,753.2 525.5,753.3 526.0,753.4 526.5,754.8 527.0,757.2 527.5,759.5 528.0,759.6 528.5,761.8 529.0,764.3 529.5,764.0 530.0,763.5 530.5,761.8 531.0,759.7 531.5,757.1 532.0,753.6 532.5,753.0 533.0,753.5 533.5,751.4 534.0,749.2 534.5,748.2 535.0,749.2 535.5,749.9 536.0,750.5 536.5,752.7 537.0,755.1 537.5,758.0 538.0,757.0 538.5,756.5 539.0,758.5 539.5,759.6 540.0,759.7 540.5,757.0 541.0,753.5 541.5,752.1 542.0,752.0 542.5,750.8 543.0,748.7 543.5,750.0 544.0,752.0 544.5,753.6 545.0,754.8 545.5,757.0 546.0,759.6 546.5,761.4 547.0,762.5 547.5,761.1 548.0,759.6 548.5,757.0 549.0,754.5 549.5,754.0 550.0,750.4 550.5,751.7 551.0,754.1 551.5,755.1 552.0,756.0 552.5,756.5 553.0,755.7 553.5,756.3 554.0,758.1 554.5,758.2 555.0,759.3 555.5,758.5 556.0,757.6 556.5,757.6 557.0,757.5 557.5,756.1 558.0,757.0 558.5,755.2 559.0,753.0 559.5,751.5 560.0,754.0 560.5,754.2 561.0,755.3 561.5,755.3 562.0,754.9 562.5,750.3 563.0,743.9 563.5,748.3 564.0,761.9 564.5,774.5 565.0,777.6 565.5,769.9 566.0,759.3 566.5,754.2 567.0,751.8 567.5,750.8 568.0,750.7 568.5,750.6 569.0,750.9 569.5,752.9 570.0,753.8 570.5,756.3 571.0,757.7 571.5,757.8 572.0,757.5 572.5,756.6 573.0,756.2 573.5,756.2 574.0,755.4 574.5,754.8 575.0,753.6 575.5,753.1 576.0,754.8 576.5,754.5 577.0,755.1 577.5,755.9 578.0,756.4 578.5,756.8 579.0,758.2 579.5,760.9 580.0,760.1 580.5,760.0 581.0,763.4 581.5,763.0 582.0,763.7 582.5,761.9 583.0,761.7 583.5,760.8 584.0,758.7 584.5,757.7 585.0,756.8 585.5,755.1 586.0,753.6 586.5,755.0 587.0,755.0 587.5,755.9 588.0,754.5 588.5,754.1 589.0,755.4 589.5,755.4 590.0,755.0" fill="none" stroke="#1c1515" stroke-width="1.15" stroke-linejoin="round"/><polyline points="55.0,807.8 55.5,808.6 56.0,808.9 56.5,811.5 57.0,813.7 57.5,814.3 58.0,816.0 58.5,816.8 59.0,817.0 59.5,815.1 60.0,814.9 60.5,812.6 61.0,808.3 61.5,807.2 62.0,809.6 62.5,817.2 63.0,821.8 63.5,820.0 64.0,817.8 64.5,814.9 65.0,812.9 65.5,814.1 66.0,813.8 66.5,813.9 67.0,814.6 67.5,815.9 68.0,813.0 68.5,811.9 69.0,809.3 69.5,806.8 70.0,807.2 70.5,809.2 71.0,810.1 71.5,812.3 72.0,814.1 72.5,817.4 73.0,816.4 73.5,816.9 74.0,813.7 74.5,813.2 75.0,811.1 75.5,809.2 76.0,807.6 76.5,807.6 77.0,804.7 77.5,802.1 78.0,801.2 78.5,803.3 79.0,806.5 79.5,810.3 80.0,814.8 80.5,815.6 81.0,819.8 81.5,818.6 82.0,815.8 82.5,814.8 83.0,813.8 83.5,811.0 84.0,810.4 84.5,808.8 85.0,808.5 85.5,811.3 86.0,814.9 86.5,818.4 87.0,819.9 87.5,822.8 88.0,822.3 88.5,819.6 89.0,818.3 89.5,816.9 90.0,815.4 90.5,813.6 91.0,810.8 91.5,808.7 92.0,806.5 92.5,807.8 93.0,810.1 93.5,809.0 94.0,811.2 94.5,812.7 95.0,815.0 95.5,816.7 96.0,817.1 96.5,819.8 97.0,818.2 97.5,818.3 98.0,818.2 98.5,817.4 99.0,815.5 99.5,814.8 100.0,814.3 100.5,812.9 101.0,813.6 101.5,814.6 102.0,813.8 102.5,814.2 103.0,816.2 103.5,814.6 104.0,813.3 104.5,811.7 105.0,811.8 105.5,809.3 106.0,809.0 106.5,810.8 107.0,813.7 107.5,816.4 108.0,819.8 108.5,822.4 109.0,819.8 109.5,819.5 110.0,817.9 110.5,815.8 111.0,814.8 111.5,812.5 112.0,810.8 112.5,811.6 113.0,812.5 113.5,814.4 114.0,816.7 114.5,816.8 115.0,817.7 115.5,818.6 116.0,819.4 116.5,817.9 117.0,815.0 117.5,810.1 118.0,810.1 118.5,813.4 119.0,819.2 119.5,819.6 120.0,817.3 120.5,816.0 121.0,814.5 121.5,814.7 122.0,815.4 122.5,813.9 123.0,815.2 123.5,815.8 124.0,816.2 124.5,815.3 125.0,816.8 125.5,817.5 126.0,818.0 126.5,816.6 127.0,816.1 127.5,814.6 128.0,815.0 128.5,814.7 129.0,814.5 129.5,814.2 130.0,815.5 130.5,816.8 131.0,818.1 131.5,817.7 132.0,819.5 132.5,819.4 133.0,820.1 133.5,819.8 134.0,817.9 134.5,813.7 135.0,810.9 135.5,807.3 136.0,805.4 136.5,806.4 137.0,808.1 137.5,811.4 138.0,813.0 138.5,815.3 139.0,819.4 139.5,820.6 140.0,817.9 140.5,816.5 141.0,813.9 141.5,812.3 142.0,814.8 142.5,816.5 143.0,818.6 143.5,820.4 144.0,822.8 144.5,824.8 145.0,820.3 145.5,818.7 146.0,816.0 146.5,812.2 147.0,807.6 147.5,809.0 148.0,810.0 148.5,812.9 149.0,815.1 149.5,817.5 150.0,817.5 150.5,820.0 151.0,819.7 151.5,820.7 152.0,823.3 152.5,823.3 153.0,821.9 153.5,818.8 154.0,817.3 154.5,814.1 155.0,813.7 155.5,811.1 156.0,811.0 156.5,813.4 157.0,813.6 157.5,816.3 158.0,819.2 158.5,820.1 159.0,822.3 159.5,821.3 160.0,818.8 160.5,814.6 161.0,813.3 161.5,811.1 162.0,809.3 162.5,809.7 163.0,811.0 163.5,813.1 164.0,815.2 164.5,816.3 165.0,817.8 165.5,819.7 166.0,820.3 166.5,823.0 167.0,819.8 167.5,816.1 168.0,812.6 168.5,807.8 169.0,805.7 169.5,807.7 170.0,810.5 170.5,812.7 171.0,815.1 171.5,818.9 172.0,816.3 172.5,810.0 173.0,805.5 173.5,804.4 174.0,810.2 174.5,814.8 175.0,814.7 175.5,810.9 176.0,810.3 176.5,811.2 177.0,813.0 177.5,815.7 178.0,818.6 178.5,819.1 179.0,820.3 179.5,820.0 180.0,818.1 180.5,818.5 181.0,816.5 181.5,814.9 182.0,812.7 182.5,812.0 183.0,812.8 183.5,812.9 184.0,813.8 184.5,814.3 185.0,816.1 185.5,816.7 186.0,815.0 186.5,813.4 187.0,812.8 187.5,811.4 188.0,810.8 188.5,810.1 189.0,811.7 189.5,811.9 190.0,812.2 190.5,815.3 191.0,815.4 191.5,815.9 192.0,817.0 192.5,818.9 193.0,818.0 193.5,815.5 194.0,815.0 194.5,815.2 195.0,814.1 195.5,812.7 196.0,814.6 196.5,815.0 197.0,814.6 197.5,815.3 198.0,816.1 198.5,814.6 199.0,816.2 199.5,818.6 200.0,818.7 200.5,818.6 201.0,819.0 201.5,817.2 202.0,814.9 202.5,815.2 203.0,814.0 203.5,812.8 204.0,810.4 204.5,811.8 205.0,813.2 205.5,814.3 206.0,816.7 206.5,816.9 207.0,819.3 207.5,819.3 208.0,822.9 208.5,821.9 209.0,820.8 209.5,819.2 210.0,816.4 210.5,813.2 211.0,811.9 211.5,810.8 212.0,811.1 212.5,813.5 213.0,816.4 213.5,820.1 214.0,824.2 214.5,822.4 215.0,819.2 215.5,816.2 216.0,812.5 216.5,809.4 217.0,810.7 217.5,810.2 218.0,812.2 218.5,814.6 219.0,814.8 219.5,817.0 220.0,815.3 220.5,817.6 221.0,819.2 221.5,817.4 222.0,817.0 222.5,815.8 223.0,814.2 223.5,813.8 224.0,810.9 224.5,809.9 225.0,807.6 225.5,808.1 226.0,808.6 226.5,811.8 227.0,811.2 227.5,813.0 228.0,814.8 228.5,814.7 229.0,813.2 229.5,814.5 230.0,818.8 230.5,825.0 231.0,826.5 231.5,823.3 232.0,818.4 232.5,813.8 233.0,812.8 233.5,814.4 234.0,816.5 234.5,820.1 235.0,823.4 235.5,821.5 236.0,820.1 236.5,816.8 237.0,816.8 237.5,814.5 238.0,811.2 238.5,811.1 239.0,813.4 239.5,813.3 240.0,814.8 240.5,816.0 241.0,818.5 241.5,817.8 242.0,819.8 242.5,821.8 243.0,822.2 243.5,822.2 244.0,820.0 244.5,819.5 245.0,817.4 245.5,813.6 246.0,813.6 246.5,813.3 247.0,812.2 247.5,812.5 248.0,809.2 248.5,807.9 249.0,809.6 249.5,811.5 250.0,813.8 250.5,813.9 251.0,815.9 251.5,818.0 252.0,822.4 252.5,822.2 253.0,822.0 253.5,819.7 254.0,818.5 254.5,816.0 255.0,815.0 255.5,814.7 256.0,813.3 256.5,814.3 257.0,815.2 257.5,814.9 258.0,816.5 258.5,817.2 259.0,817.6 259.5,818.6 260.0,817.2 260.5,815.6 261.0,812.9 261.5,810.1 262.0,810.0 262.5,808.0 263.0,808.0 263.5,807.7 264.0,811.1 264.5,812.4 265.0,815.8 265.5,816.0 266.0,816.7 266.5,818.7 267.0,819.4 267.5,819.8 268.0,820.8 268.5,821.3 269.0,821.5 269.5,819.5 270.0,818.7 270.5,816.3 271.0,815.8 271.5,814.3 272.0,814.1 272.5,814.4 273.0,816.2 273.5,818.9 274.0,818.5 274.5,818.4 275.0,817.5 275.5,816.2 276.0,815.4 276.5,814.3 277.0,813.5 277.5,812.6 278.0,812.7 278.5,811.5 279.0,809.0 279.5,810.6 280.0,815.0 280.5,816.8 281.0,819.2 281.5,820.4 282.0,821.9 282.5,821.9 283.0,816.2 283.5,812.4 284.0,814.0 284.5,819.4 285.0,822.4 285.5,821.4 286.0,818.5 286.5,814.4 287.0,811.9 287.5,811.8 288.0,814.4 288.5,815.6 289.0,817.5 289.5,818.5 290.0,820.9 290.5,820.8 291.0,821.4 291.5,819.9 292.0,818.6 292.5,816.7 293.0,814.6 293.5,810.9 294.0,809.3 294.5,807.7 295.0,810.5 295.5,812.7 296.0,813.9 296.5,816.5 297.0,819.0 297.5,818.9 298.0,817.6 298.5,815.8 299.0,812.5 299.5,809.8 300.0,807.4 300.5,806.2 301.0,806.3 301.5,803.9 302.0,803.7 302.5,806.4 303.0,808.7 303.5,811.1 304.0,815.6 304.5,817.7 305.0,821.4 305.5,821.2 306.0,820.7 306.5,820.2 307.0,819.0 307.5,817.7 308.0,814.5 308.5,813.4 309.0,811.3 309.5,810.3 310.0,812.9 310.5,815.3 311.0,818.1 311.5,820.0 312.0,820.9 312.5,819.5 313.0,817.0 313.5,815.4 314.0,812.7 314.5,810.9 315.0,811.7 315.5,813.7 316.0,814.9 316.5,815.6 317.0,817.6 317.5,819.6 318.0,821.7 318.5,823.6 319.0,822.3 319.5,819.7 320.0,817.7 320.5,815.1 321.0,814.4 321.5,812.6 322.0,811.2 322.5,808.7 323.0,810.8 323.5,812.5 324.0,814.5 324.5,815.5 325.0,819.0 325.5,821.4 326.0,821.3 326.5,819.8 327.0,819.0 327.5,817.3 328.0,816.1 328.5,815.4 329.0,813.8 329.5,810.9 330.0,808.9 330.5,807.6 331.0,810.2 331.5,812.4 332.0,814.6 332.5,817.6 333.0,820.6 333.5,823.0 334.0,821.0 334.5,820.9 335.0,818.9 335.5,817.0 336.0,815.8 336.5,813.7 337.0,812.2 337.5,811.8 338.0,810.3 338.5,808.7 339.0,809.4 339.5,808.1 340.0,805.7 340.5,810.3 341.0,817.1 341.5,826.6 342.0,831.0 342.5,830.1 343.0,828.0 343.5,826.0 344.0,823.1 344.5,821.7 345.0,819.0 345.5,816.3 346.0,814.1 346.5,813.4 347.0,811.1 347.5,810.8 348.0,811.9 348.5,813.3 349.0,816.5 349.5,819.2 350.0,821.7 350.5,822.6 351.0,821.0 351.5,820.7 352.0,818.7 352.5,816.9 353.0,815.8 353.5,813.4 354.0,811.8 354.5,810.5 355.0,807.4 355.5,807.4 356.0,809.1 356.5,809.6 357.0,811.1 357.5,811.6 358.0,812.7 358.5,813.1 359.0,815.4 359.5,816.0 360.0,815.5 360.5,815.3 361.0,814.0 361.5,814.7 362.0,813.6 362.5,815.0 363.0,814.6 363.5,813.1 364.0,812.1 364.5,811.9 365.0,814.3 365.5,814.8 366.0,816.6 366.5,817.3 367.0,817.8 367.5,818.2 368.0,820.6 368.5,821.2 369.0,818.9 369.5,819.4 370.0,819.0 370.5,816.7 371.0,815.0 371.5,812.9 372.0,810.9 372.5,809.8 373.0,809.8 373.5,810.6 374.0,814.0 374.5,815.4 375.0,815.3 375.5,817.1 376.0,819.5 376.5,818.2 377.0,819.9 377.5,819.3 378.0,817.8 378.5,814.7 379.0,813.9 379.5,811.3 380.0,809.3 380.5,808.4 381.0,807.7 381.5,810.1 382.0,811.0 382.5,812.4 383.0,813.4 383.5,815.8 384.0,815.0 384.5,812.0 385.0,810.8 385.5,810.4 386.0,808.8 386.5,808.5 387.0,807.0 387.5,809.2 388.0,810.5 388.5,813.6 389.0,815.3 389.5,817.6 390.0,819.6 390.5,818.2 391.0,818.0 391.5,816.9 392.0,815.0 392.5,815.1 393.0,813.9 393.5,812.8 394.0,810.6 394.5,810.0 395.0,811.2 395.5,814.1 396.0,812.9 396.5,810.9 397.0,809.1 397.5,812.5 398.0,818.6 398.5,824.6 399.0,825.7 399.5,820.1 400.0,816.1 400.5,813.0 401.0,812.9 401.5,813.3 402.0,814.6 402.5,815.3 403.0,817.1 403.5,816.6 404.0,815.5 404.5,814.4 405.0,814.3 405.5,814.5 406.0,814.7 406.5,814.1 407.0,814.5 407.5,816.0 408.0,816.2 408.5,818.6 409.0,817.8 409.5,818.3 410.0,819.2 410.5,816.7 411.0,813.5 411.5,811.8 412.0,810.7 412.5,808.7 413.0,805.8 413.5,805.8 414.0,805.0 414.5,808.6 415.0,808.5 415.5,811.1 416.0,813.7 416.5,817.7 417.0,818.7 417.5,816.3 418.0,815.0 418.5,812.9 419.0,809.8 419.5,810.9 420.0,812.2 420.5,812.7 421.0,814.0 421.5,816.9 422.0,819.1 422.5,819.1 423.0,816.4 423.5,812.8 424.0,810.7 424.5,809.0 425.0,810.4 425.5,811.6 426.0,811.7 426.5,813.0 427.0,815.3 427.5,816.4 428.0,816.9 428.5,816.6 429.0,816.3 429.5,815.3 430.0,814.1 430.5,812.7 431.0,812.4 431.5,814.2 432.0,812.5 432.5,813.1 433.0,813.9 433.5,816.4 434.0,816.5 434.5,817.4 435.0,817.6 435.5,817.5 436.0,819.7 436.5,819.5 437.0,818.2 437.5,815.7 438.0,814.8 438.5,812.7 439.0,811.1 439.5,808.2 440.0,806.8 440.5,807.0 441.0,808.4 441.5,809.3 442.0,811.5 442.5,814.3 443.0,813.5 443.5,814.3 444.0,817.6 444.5,818.3 445.0,818.6 445.5,817.7 446.0,817.9 446.5,816.3 447.0,814.1 447.5,813.7 448.0,812.3 448.5,812.5 449.0,810.5 449.5,808.9 450.0,810.0 450.5,810.3 451.0,811.1 451.5,808.7 452.0,805.0 452.5,807.4 453.0,812.8 453.5,820.0 454.0,822.7 454.5,822.5 455.0,816.8 455.5,812.7 456.0,810.9 456.5,809.6 457.0,809.6 457.5,810.3 458.0,810.5 458.5,812.5 459.0,814.3 459.5,814.6 460.0,817.9 460.5,820.0 461.0,821.7 461.5,820.6 462.0,822.3 462.5,819.6 463.0,818.8 463.5,818.8 464.0,818.6 464.5,816.5 465.0,815.0 465.5,812.2 466.0,810.1 466.5,810.0 467.0,810.9 467.5,809.7 468.0,808.9 468.5,808.4 469.0,807.0 469.5,807.7 470.0,809.2 470.5,809.9 471.0,810.2 471.5,809.2 472.0,807.2 472.5,806.7 473.0,804.9 473.5,803.9 474.0,804.4 474.5,807.4 475.0,810.0 475.5,812.8 476.0,811.7 476.5,812.7 477.0,815.2 477.5,815.5 478.0,815.3 478.5,814.9 479.0,814.2 479.5,813.0 480.0,811.9 480.5,809.6 481.0,808.0 481.5,806.4 482.0,806.7 482.5,807.3 483.0,811.4 483.5,813.2 484.0,815.7 484.5,818.0 485.0,820.1 485.5,819.2 486.0,817.1 486.5,815.9 487.0,815.3 487.5,812.9 488.0,811.7 488.5,812.6 489.0,814.1 489.5,814.5 490.0,815.1 490.5,817.4 491.0,817.8 491.5,816.4 492.0,816.8 492.5,818.5 493.0,818.7 493.5,819.2 494.0,819.1 494.5,817.2 495.0,816.2 495.5,813.6 496.0,814.3 496.5,812.4 497.0,812.7 497.5,810.0 498.0,809.7 498.5,807.6 499.0,808.5 499.5,813.0 500.0,815.1 500.5,815.1 501.0,815.0 501.5,815.8 502.0,818.0 502.5,819.7 503.0,818.5 503.5,818.4 504.0,818.4 504.5,815.7 505.0,814.6 505.5,814.0 506.0,812.8 506.5,813.0 507.0,811.9 507.5,810.3 508.0,806.3 508.5,805.2 509.0,806.6 509.5,812.3 510.0,820.3 510.5,824.8 511.0,825.8 511.5,824.0 512.0,821.2 512.5,817.8 513.0,815.6 513.5,815.7 514.0,814.3 514.5,812.4 515.0,811.8 515.5,811.9 516.0,810.6 516.5,810.0 517.0,810.8 517.5,812.8 518.0,814.0 518.5,816.6 519.0,819.0 519.5,820.2 520.0,817.3 520.5,815.6 521.0,813.7 521.5,812.3 522.0,809.2 522.5,809.2 523.0,810.5 523.5,809.1 524.0,809.4 524.5,811.1 525.0,811.6 525.5,813.8 526.0,815.5 526.5,813.1 527.0,810.5 527.5,809.6 528.0,807.6 528.5,808.0 529.0,807.5 529.5,807.6 530.0,806.5 530.5,807.9 531.0,809.8 531.5,813.4 532.0,816.6 532.5,818.8 533.0,817.4 533.5,815.6 534.0,815.2 534.5,813.6 535.0,810.9 535.5,809.4 536.0,809.8 536.5,809.5 537.0,809.0 537.5,809.6 538.0,812.1 538.5,813.5 539.0,815.3 539.5,817.2 540.0,817.2 540.5,818.6 541.0,816.5 541.5,816.0 542.0,816.5 542.5,815.2 543.0,813.4 543.5,812.8 544.0,813.7 544.5,814.5 545.0,815.4 545.5,817.1 546.0,817.9 546.5,818.1 547.0,818.5 547.5,818.5 548.0,819.5 548.5,819.6 549.0,819.5 549.5,817.9 550.0,818.1 550.5,816.5 551.0,814.7 551.5,813.0 552.0,812.4 552.5,811.6 553.0,813.2 553.5,814.5 554.0,815.6 554.5,815.5 555.0,817.8 555.5,820.1 556.0,820.9 556.5,821.4 557.0,821.6 557.5,823.1 558.0,821.3 558.5,820.6 559.0,818.0 559.5,817.4 560.0,816.9 560.5,817.0 561.0,815.7 561.5,813.9 562.0,812.9 562.5,810.8 563.0,810.6 563.5,814.2 564.0,822.3 564.5,830.0 565.0,829.6 565.5,826.4 566.0,823.5 566.5,820.9 567.0,817.7 567.5,818.5 568.0,815.8 568.5,814.6 569.0,813.5 569.5,812.9 570.0,812.1 570.5,813.8 571.0,815.1 571.5,816.7 572.0,820.1 572.5,821.3 573.0,821.1 573.5,819.0 574.0,818.8 574.5,817.6 575.0,816.2 575.5,814.9 576.0,812.0 576.5,810.3 577.0,812.2 577.5,812.8 578.0,812.2 578.5,813.8 579.0,814.1 579.5,816.8 580.0,816.1 580.5,815.8 581.0,815.8 581.5,812.8 582.0,812.5 582.5,811.4 583.0,809.2 583.5,809.7 584.0,811.0 584.5,815.4 585.0,818.2 585.5,819.3 586.0,821.9 586.5,822.9 587.0,824.1 587.5,822.4 588.0,821.9 588.5,820.7 589.0,819.5 589.5,818.5 590.0,817.5" fill="none" stroke="#1c1515" stroke-width="1.15" stroke-linejoin="round"/><polyline points="55.0,855.3 55.5,854.7 56.0,854.5 56.5,855.6 57.0,852.9 57.5,853.1 58.0,852.8 58.5,853.5 59.0,853.2 59.5,850.2 60.0,844.5 60.5,841.8 61.0,845.2 61.5,858.4 62.0,874.4 62.5,883.7 63.0,880.2 63.5,870.4 64.0,864.6 64.5,862.3 65.0,859.3 65.5,858.4 66.0,859.4 66.5,860.1 67.0,860.8 67.5,860.6 68.0,859.0 68.5,858.6 69.0,857.7 69.5,857.1 70.0,856.7 70.5,856.5 71.0,857.5 71.5,859.0 72.0,859.1 72.5,859.9 73.0,859.7 73.5,856.4 74.0,855.9 74.5,855.0 75.0,852.9 75.5,851.2 76.0,847.9 76.5,846.9 77.0,845.9 77.5,843.4 78.0,842.3 78.5,840.4 79.0,840.4 79.5,840.5 80.0,841.3 80.5,842.4 81.0,842.8 81.5,843.5 82.0,844.9 82.5,845.1 83.0,844.5 83.5,846.1 84.0,847.3 84.5,848.9 85.0,849.7 85.5,849.3 86.0,849.1 86.5,849.4 87.0,850.1 87.5,850.1 88.0,850.8 88.5,850.1 89.0,852.3 89.5,855.5 90.0,855.9 90.5,855.0 91.0,856.1 91.5,856.2 92.0,856.5 92.5,856.5 93.0,855.5 93.5,855.0 94.0,854.8 94.5,854.2 95.0,851.2 95.5,851.5 96.0,848.4 96.5,849.0 97.0,850.7 97.5,851.6 98.0,854.0 98.5,853.8 99.0,855.3 99.5,855.9 100.0,857.3 100.5,856.8 101.0,855.7 101.5,853.3 102.0,851.3 102.5,851.0 103.0,848.3 103.5,846.8 104.0,844.4 104.5,843.3 105.0,844.0 105.5,844.3 106.0,844.4 106.5,844.4 107.0,845.3 107.5,848.7 108.0,850.1 108.5,851.2 109.0,853.2 109.5,853.5 110.0,855.4 110.5,857.0 111.0,857.5 111.5,855.7 112.0,854.9 112.5,854.5 113.0,853.3 113.5,852.7 114.0,852.7 114.5,850.5 115.0,845.0 115.5,837.0 116.0,831.7 116.5,836.1 117.0,850.5 117.5,867.9 118.0,876.4 118.5,874.3 119.0,867.4 119.5,861.2 120.0,857.9 120.5,857.3 121.0,857.9 121.5,859.0 122.0,858.9 122.5,857.9 123.0,856.8 123.5,856.2 124.0,857.0 124.5,855.4 125.0,855.3 125.5,854.1 126.0,854.2 126.5,855.0 127.0,854.7 127.5,854.6 128.0,855.3 128.5,854.2 129.0,853.3 129.5,854.5 130.0,853.6 130.5,851.2 131.0,849.5 131.5,848.2 132.0,847.4 132.5,844.2 133.0,841.8 133.5,841.9 134.0,840.0 134.5,839.8 135.0,839.7 135.5,840.4 136.0,840.5 136.5,840.8 137.0,841.7 137.5,845.3 138.0,848.2 138.5,850.7 139.0,850.2 139.5,850.8 140.0,852.3 140.5,851.7 141.0,852.3 141.5,850.3 142.0,850.7 142.5,852.1 143.0,852.4 143.5,853.4 144.0,852.9 144.5,853.1 145.0,853.7 145.5,854.3 146.0,855.1 146.5,854.8 147.0,854.9 147.5,854.5 148.0,852.6 148.5,852.5 149.0,851.0 149.5,848.7 150.0,849.2 150.5,850.3 151.0,849.5 151.5,849.6 152.0,850.3 152.5,851.7 153.0,851.2 153.5,851.8 154.0,853.3 154.5,853.7 155.0,853.0 155.5,852.4 156.0,851.4 156.5,852.1 157.0,852.3 157.5,850.1 158.0,848.5 158.5,847.4 159.0,847.7 159.5,847.1 160.0,845.5 160.5,845.6 161.0,846.8 161.5,848.3 162.0,850.3 162.5,853.2 163.0,853.6 163.5,854.0 164.0,856.3 164.5,856.7 165.0,857.5 165.5,856.4 166.0,856.2 166.5,855.0 167.0,855.1 167.5,856.1 168.0,854.4 168.5,854.2 169.0,853.9 169.5,849.6 170.0,847.4 170.5,844.1 171.0,837.6 171.5,836.2 172.0,845.8 172.5,863.7 173.0,877.4 173.5,880.3 174.0,875.2 174.5,865.7 175.0,857.8 175.5,855.0 176.0,853.1 176.5,852.3 177.0,854.2 177.5,855.3 178.0,857.1 178.5,858.3 179.0,859.5 179.5,862.2 180.0,861.2 180.5,859.8 181.0,858.7 181.5,858.3 182.0,858.0 182.5,856.1 183.0,854.2 183.5,852.3 184.0,852.1 184.5,851.4 185.0,849.2 185.5,849.0 186.0,847.4 186.5,847.4 187.0,847.7 187.5,845.9 188.0,844.7 188.5,844.2 189.0,842.8 189.5,843.3 190.0,843.6 190.5,843.9 191.0,844.5 191.5,844.1 192.0,843.9 192.5,843.7 193.0,843.9 193.5,844.6 194.0,845.8 194.5,845.6 195.0,846.9 195.5,846.8 196.0,846.5 196.5,847.3 197.0,845.5 197.5,846.1 198.0,846.2 198.5,849.1 199.0,850.2 199.5,851.8 200.0,853.7 200.5,854.5 201.0,856.4 201.5,856.9 202.0,858.3 202.5,859.6 203.0,857.3 203.5,855.9 204.0,855.2 204.5,853.5 205.0,853.6 205.5,853.6 206.0,850.5 206.5,850.2 207.0,849.9 207.5,848.7 208.0,849.5 208.5,849.7 209.0,852.5 209.5,854.3 210.0,853.6 210.5,853.5 211.0,855.4 211.5,854.9 212.0,855.0 212.5,854.9 213.0,853.4 213.5,853.1 214.0,850.6 214.5,848.7 215.0,847.8 215.5,846.5 216.0,846.3 216.5,844.6 217.0,842.4 217.5,844.4 218.0,845.3 218.5,846.9 219.0,848.4 219.5,852.3 220.0,852.8 220.5,854.4 221.0,853.0 221.5,853.4 222.0,854.0 222.5,854.1 223.0,855.0 223.5,853.4 224.0,852.7 224.5,852.7 225.0,852.2 225.5,852.2 226.0,853.0 226.5,852.5 227.0,853.9 227.5,850.4 228.0,844.7 228.5,840.4 229.0,845.0 229.5,858.2 230.0,871.6 230.5,882.1 231.0,881.9 231.5,872.2 232.0,864.7 232.5,861.0 233.0,859.5 233.5,858.0 234.0,858.7 234.5,857.3 235.0,857.5 235.5,859.6 236.0,861.3 236.5,862.5 237.0,861.9 237.5,861.1 238.0,859.5 238.5,858.8 239.0,858.5 239.5,857.1 240.0,856.2 240.5,854.3 241.0,852.2 241.5,851.0 242.0,852.8 242.5,852.2 243.0,851.4 243.5,850.5 244.0,851.3 244.5,853.2 245.0,853.5 245.5,851.6 246.0,849.2 246.5,848.2 247.0,845.9 247.5,843.5 248.0,840.5 248.5,840.0 249.0,840.2 249.5,840.9 250.0,843.4 250.5,844.6 251.0,846.3 251.5,847.4 252.0,851.1 252.5,851.5 253.0,852.4 253.5,851.1 254.0,854.0 254.5,854.8 255.0,856.0 255.5,857.0 256.0,856.6 256.5,854.2 257.0,853.5 257.5,850.6 258.0,851.3 258.5,853.3 259.0,853.0 259.5,852.7 260.0,851.1 260.5,852.2 261.0,853.4 261.5,854.0 262.0,853.7 262.5,853.7 263.0,855.4 263.5,855.6 264.0,855.7 264.5,855.1 265.0,853.0 265.5,852.8 266.0,852.0 266.5,850.8 267.0,849.9 267.5,849.0 268.0,850.6 268.5,850.4 269.0,851.0 269.5,850.7 270.0,849.8 270.5,850.4 271.0,850.5 271.5,849.7 272.0,848.9 272.5,850.9 273.0,850.5 273.5,851.2 274.0,849.0 274.5,848.1 275.0,848.5 275.5,849.4 276.0,848.3 276.5,847.7 277.0,848.8 277.5,849.0 278.0,849.1 278.5,848.1 279.0,848.6 279.5,850.0 280.0,850.3 280.5,850.1 281.0,851.2 281.5,853.0 282.0,853.7 282.5,853.0 283.0,849.9 283.5,845.9 284.0,842.9 284.5,846.2 285.0,857.9 285.5,874.1 286.0,880.4 286.5,876.2 287.0,867.4 287.5,859.4 288.0,855.6 288.5,853.8 289.0,854.8 289.5,857.9 290.0,856.5 290.5,858.4 291.0,858.7 291.5,859.6 292.0,859.9 292.5,860.4 293.0,861.2 293.5,860.2 294.0,860.3 294.5,858.0 295.0,856.5 295.5,855.7 296.0,852.8 296.5,851.3 297.0,850.3 297.5,849.5 298.0,847.0 298.5,846.6 299.0,843.9 299.5,844.4 300.0,844.3 300.5,843.2 301.0,843.1 301.5,842.2 302.0,842.9 302.5,842.7 303.0,842.9 303.5,842.1 304.0,841.6 304.5,842.2 305.0,843.3 305.5,842.9 306.0,845.2 306.5,846.2 307.0,849.5 307.5,850.8 308.0,851.8 308.5,854.0 309.0,855.4 309.5,855.6 310.0,854.9 310.5,854.2 311.0,853.9 311.5,852.6 312.0,850.2 312.5,849.3 313.0,851.0 313.5,851.8 314.0,854.3 314.5,854.7 315.0,856.1 315.5,856.3 316.0,857.6 316.5,859.1 317.0,859.1 317.5,860.3 318.0,857.7 318.5,857.1 319.0,856.3 319.5,856.5 320.0,855.2 320.5,854.4 321.0,853.9 321.5,853.3 322.0,853.0 322.5,853.3 323.0,854.2 323.5,854.7 324.0,854.9 324.5,856.2 325.0,856.1 325.5,858.1 326.0,856.7 326.5,855.6 327.0,855.3 327.5,851.9 328.0,848.8 328.5,848.2 329.0,847.1 329.5,847.0 330.0,845.7 330.5,846.3 331.0,848.7 331.5,850.2 332.0,851.1 332.5,851.6 333.0,853.3 333.5,856.1 334.0,857.1 334.5,857.8 335.0,857.4 335.5,857.5 336.0,858.5 336.5,858.3 337.0,857.7 337.5,857.1 338.0,855.5 338.5,854.5 339.0,852.7 339.5,847.6 340.0,839.4 340.5,833.9 341.0,839.9 341.5,856.5 342.0,871.7 342.5,880.3 343.0,877.2 343.5,869.5 344.0,863.1 344.5,859.4 345.0,857.0 345.5,855.3 346.0,856.1 346.5,854.5 347.0,854.4 347.5,855.3 348.0,855.7 348.5,856.3 349.0,857.0 349.5,857.5 350.0,856.6 350.5,858.6 351.0,857.9 351.5,858.0 352.0,858.5 352.5,857.5 353.0,856.3 353.5,854.4 354.0,853.9 354.5,852.4 355.0,852.1 355.5,850.8 356.0,850.2 356.5,846.7 357.0,846.5 357.5,846.0 358.0,846.5 358.5,845.7 359.0,844.5 359.5,846.0 360.0,847.3 360.5,846.6 361.0,845.1 361.5,845.7 362.0,845.9 362.5,844.1 363.0,844.0 363.5,843.4 364.0,843.3 364.5,844.4 365.0,847.9 365.5,849.7 366.0,850.9 366.5,851.5 367.0,853.1 367.5,854.1 368.0,854.1 368.5,855.3 369.0,857.1 369.5,856.9 370.0,855.5 370.5,856.0 371.0,853.8 371.5,853.1 372.0,849.8 372.5,849.5 373.0,850.7 373.5,852.3 374.0,853.4 374.5,857.9 375.0,859.2 375.5,858.0 376.0,857.2 376.5,855.6 377.0,854.9 377.5,855.0 378.0,855.1 378.5,854.5 379.0,853.2 379.5,851.8 380.0,850.0 380.5,848.6 381.0,847.8 381.5,846.9 382.0,846.0 382.5,846.6 383.0,846.2 383.5,845.9 384.0,846.9 384.5,848.1 385.0,849.7 385.5,850.3 386.0,852.3 386.5,854.0 387.0,856.0 387.5,856.3 388.0,856.2 388.5,855.0 389.0,852.9 389.5,853.0 390.0,853.1 390.5,852.8 391.0,852.3 391.5,851.1 392.0,850.3 392.5,849.6 393.0,850.8 393.5,854.2 394.0,854.4 394.5,855.6 395.0,851.0 395.5,847.0 396.0,848.1 396.5,859.9 397.0,874.0 397.5,883.0 398.0,880.4 398.5,871.7 399.0,864.7 399.5,860.6 400.0,859.8 400.5,858.4 401.0,856.6 401.5,856.4 402.0,858.4 402.5,857.5 403.0,858.8 403.5,860.3 404.0,859.4 404.5,860.7 405.0,860.7 405.5,860.8 406.0,861.1 406.5,861.2 407.0,861.9 407.5,859.1 408.0,856.1 408.5,854.9 409.0,853.2 409.5,852.8 410.0,850.9 410.5,848.9 411.0,847.8 411.5,846.9 412.0,847.8 412.5,849.2 413.0,847.7 413.5,849.4 414.0,848.4 414.5,848.5 415.0,847.2 415.5,847.6 416.0,846.7 416.5,847.8 417.0,849.1 417.5,848.4 418.0,848.9 418.5,849.2 419.0,849.4 419.5,849.0 420.0,850.9 420.5,851.3 421.0,852.1 421.5,852.2 422.0,853.8 422.5,855.8 423.0,856.3 423.5,857.6 424.0,856.0 424.5,856.7 425.0,858.5 425.5,857.1 426.0,858.2 426.5,857.2 427.0,855.6 427.5,856.2 428.0,855.6 428.5,854.3 429.0,854.8 429.5,853.1 430.0,853.3 430.5,853.2 431.0,851.5 431.5,851.3 432.0,851.5 432.5,853.0 433.0,853.3 433.5,854.3 434.0,855.2 434.5,856.3 435.0,856.9 435.5,857.1 436.0,856.6 436.5,857.1 437.0,857.0 437.5,857.0 438.0,855.2 438.5,854.5 439.0,854.3 439.5,853.1 440.0,851.6 440.5,851.4 441.0,852.2 441.5,851.2 442.0,850.5 442.5,849.9 443.0,850.2 443.5,851.4 444.0,852.8 444.5,854.1 445.0,854.9 445.5,856.3 446.0,857.5 446.5,859.8 447.0,861.4 447.5,859.8 448.0,859.1 448.5,857.8 449.0,856.5 449.5,855.7 450.0,856.1 450.5,855.1 451.0,851.7 451.5,844.9 452.0,839.3 452.5,838.6 453.0,849.8 453.5,866.5 454.0,880.9 454.5,882.6 455.0,875.4 455.5,865.5 456.0,859.6 456.5,858.8 457.0,858.7 457.5,858.8 458.0,858.4 458.5,859.1 459.0,861.3 459.5,859.3 460.0,858.2 460.5,859.8 461.0,859.5 461.5,858.5 462.0,859.3 462.5,860.8 463.0,860.0 463.5,861.2 464.0,860.3 464.5,860.4 465.0,861.0 465.5,859.4 466.0,855.9 466.5,854.7 467.0,854.5 467.5,852.7 468.0,850.0 468.5,847.3 469.0,846.5 469.5,844.5 470.0,841.7 470.5,839.8 471.0,839.7 471.5,841.1 472.0,841.1 472.5,842.7 473.0,842.4 473.5,845.4 474.0,847.3 474.5,847.4 475.0,850.2 475.5,851.4 476.0,851.4 476.5,852.4 477.0,853.4 477.5,855.2 478.0,854.2 478.5,854.5 479.0,855.2 479.5,854.0 480.0,853.4 480.5,853.6 481.0,853.2 481.5,854.3 482.0,855.7 482.5,856.1 483.0,857.2 483.5,856.3 484.0,856.9 484.5,857.0 485.0,858.3 485.5,857.6 486.0,856.1 486.5,855.7 487.0,856.2 487.5,854.4 488.0,854.0 488.5,854.7 489.0,853.3 489.5,853.2 490.0,854.2 490.5,855.6 491.0,855.7 491.5,856.3 492.0,856.2 492.5,855.4 493.0,854.7 493.5,852.7 494.0,849.6 494.5,847.9 495.0,844.4 495.5,844.4 496.0,844.9 496.5,847.5 497.0,848.1 497.5,851.3 498.0,853.1 498.5,854.7 499.0,854.0 499.5,854.2 500.0,853.9 500.5,853.3 501.0,852.8 501.5,850.4 502.0,849.4 502.5,848.1 503.0,851.1 503.5,852.5 504.0,853.6 504.5,853.7 505.0,853.2 505.5,852.4 506.0,851.5 506.5,843.4 507.0,835.7 507.5,836.6 508.0,849.5 508.5,865.1 509.0,876.9 509.5,877.9 510.0,867.9 510.5,859.3 511.0,853.7 511.5,855.2 512.0,854.8 512.5,855.2 513.0,856.4 513.5,857.6 514.0,858.0 514.5,858.9 515.0,859.4 515.5,860.5 516.0,858.4 516.5,856.8 517.0,855.2 517.5,854.2 518.0,851.9 518.5,851.3 519.0,851.9 519.5,852.6 520.0,850.7 520.5,852.7 521.0,853.7 521.5,853.3 522.0,853.6 522.5,851.1 523.0,848.0 523.5,847.0 524.0,845.7 524.5,843.4 525.0,841.2 525.5,838.9 526.0,839.7 526.5,838.9 527.0,837.7 527.5,838.3 528.0,838.4 528.5,839.0 529.0,840.7 529.5,842.8 530.0,845.1 530.5,847.8 531.0,849.7 531.5,851.4 532.0,852.2 532.5,852.2 533.0,852.6 533.5,851.2 534.0,850.7 534.5,850.4 535.0,849.9 535.5,848.0 536.0,849.9 536.5,850.6 537.0,851.7 537.5,852.8 538.0,853.1 538.5,856.1 539.0,856.5 539.5,855.8 540.0,854.9 540.5,853.7 541.0,853.5 541.5,852.6 542.0,851.3 542.5,850.6 543.0,848.0 543.5,847.6 544.0,845.6 544.5,847.9 545.0,846.4 545.5,847.3 546.0,848.2 546.5,849.9 547.0,851.7 547.5,853.0 548.0,853.3 548.5,852.9 549.0,852.7 549.5,851.8 550.0,851.7 550.5,851.3 551.0,848.4 551.5,847.8 552.0,846.6 552.5,846.2 553.0,845.6 553.5,844.8 554.0,843.8 554.5,843.9 555.0,843.1 555.5,846.5 556.0,847.7 556.5,850.2 557.0,850.5 557.5,852.2 558.0,852.2 558.5,853.7 559.0,854.9 559.5,856.3 560.0,855.7 560.5,854.6 561.0,853.3 561.5,852.0 562.0,850.0 562.5,848.5 563.0,843.6 563.5,836.7 564.0,829.6 564.5,833.9 565.0,848.4 565.5,863.9 566.0,874.4 566.5,874.4 567.0,867.2 567.5,860.1 568.0,855.2 568.5,853.2 569.0,852.6 569.5,851.1 570.0,852.0 570.5,852.5 571.0,853.4 571.5,855.5 572.0,857.6 572.5,857.3 573.0,858.1 573.5,859.3 574.0,857.8 574.5,856.1 575.0,854.7 575.5,853.7 576.0,851.0 576.5,849.1 577.0,849.6 577.5,849.8 578.0,851.2 578.5,852.5 579.0,852.1 579.5,850.1 580.0,848.3 580.5,846.0 581.0,844.1 581.5,841.6 582.0,839.8 582.5,839.8 583.0,837.7 583.5,837.6 584.0,836.7 584.5,837.3 585.0,838.8 585.5,840.8 586.0,841.6 586.5,844.3 587.0,847.6 587.5,848.1 588.0,849.8 588.5,853.0 589.0,853.0 589.5,853.4 590.0,853.3" fill="none" stroke="#1c1515" stroke-width="1.15" stroke-linejoin="round"/><polyline points="643.0,595.7 643.5,596.1 644.0,595.6 644.5,595.0 645.0,595.1 645.5,595.5 646.0,596.0 646.5,595.6 647.0,595.0 647.5,590.9 648.0,583.3 648.5,575.8 649.0,579.7 649.5,593.7 650.0,610.1 650.5,621.9 651.0,624.9 651.5,620.4 652.0,612.0 652.5,604.8 653.0,601.3 653.5,600.3 654.0,600.0 654.5,600.0 655.0,600.1 655.5,600.3 656.0,600.6 656.5,599.6 657.0,598.2 657.5,598.7 658.0,597.6 658.5,596.7 659.0,594.9 659.5,594.4 660.0,593.7 660.5,592.3 661.0,591.5 661.5,591.3 662.0,591.6 662.5,592.1 663.0,592.7 663.5,592.4 664.0,592.3 664.5,591.3 665.0,589.2 665.5,588.1 666.0,584.8 666.5,582.3 667.0,579.5 667.5,576.9 668.0,575.3 668.5,575.0 669.0,575.8 669.5,577.6 670.0,580.6 670.5,583.4 671.0,585.6 671.5,588.3 672.0,591.5 672.5,593.3 673.0,596.0 673.5,597.0 674.0,598.3 674.5,598.0 675.0,598.2 675.5,597.4 676.0,597.7 676.5,597.5 677.0,597.5 677.5,596.8 678.0,596.8 678.5,596.6 679.0,596.9 679.5,596.5 680.0,596.6 680.5,597.2 681.0,596.4 681.5,595.3 682.0,595.7 682.5,595.1 683.0,594.6 683.5,594.4 684.0,595.1 684.5,594.9 685.0,594.9 685.5,594.9 686.0,595.7 686.5,596.2 687.0,596.4 687.5,596.7 688.0,596.1 688.5,595.1 689.0,594.2 689.5,592.6 690.0,592.0 690.5,590.4 691.0,588.2 691.5,585.6 692.0,585.0 692.5,584.6 693.0,585.8 693.5,587.1 694.0,588.2 694.5,591.5 695.0,592.8 695.5,594.9 696.0,596.0 696.5,596.1 697.0,595.5 697.5,595.4 698.0,595.1 698.5,594.8 699.0,594.4 699.5,594.7 700.0,594.3 700.5,594.5 701.0,593.7 701.5,593.2 702.0,589.0 702.5,579.0 703.0,568.3 703.5,570.0 704.0,585.5 704.5,603.6 705.0,616.2 705.5,620.0 706.0,617.5 706.5,609.9 707.0,605.0 707.5,601.2 708.0,600.2 708.5,601.3 709.0,601.3 709.5,600.7 710.0,600.2 710.5,600.1 711.0,599.8 711.5,599.3 712.0,599.2 712.5,599.0 713.0,598.6 713.5,598.4 714.0,597.2 714.5,596.1 715.0,595.0 715.5,593.8 716.0,593.3 716.5,591.9 717.0,592.0 717.5,592.6 718.0,593.0 718.5,593.7 719.0,592.8 719.5,591.7 720.0,590.1 720.5,587.2 721.0,585.9 721.5,583.9 722.0,581.7 722.5,580.1 723.0,580.2 723.5,581.0 724.0,582.2 724.5,583.7 725.0,586.1 725.5,587.7 726.0,589.9 726.5,592.1 727.0,594.0 727.5,595.8 728.0,597.9 728.5,598.9 729.0,599.8 729.5,599.7 730.0,599.8 730.5,598.5 731.0,597.9 731.5,597.4 732.0,595.5 732.5,594.7 733.0,594.4 733.5,594.5 734.0,594.6 734.5,595.5 735.0,595.5 735.5,595.9 736.0,596.5 736.5,597.1 737.0,596.7 737.5,597.5 738.0,597.6 738.5,597.7 739.0,597.0 739.5,596.7 740.0,596.4 740.5,596.4 741.0,596.0 741.5,595.0 742.0,595.0 742.5,594.4 743.0,594.3 743.5,594.8 744.0,594.6 744.5,595.6 745.0,596.6 745.5,595.9 746.0,595.9 746.5,595.4 747.0,593.5 747.5,590.9 748.0,589.0 748.5,586.4 749.0,586.2 749.5,585.6 750.0,587.0 750.5,588.6 751.0,590.3 751.5,592.7 752.0,594.1 752.5,596.3 753.0,597.6 753.5,598.5 754.0,600.0 754.5,599.4 755.0,599.1 755.5,598.5 756.0,597.9 756.5,597.5 757.0,597.2 757.5,596.8 758.0,595.0 758.5,592.1 759.0,581.7 759.5,570.6 760.0,567.7 760.5,579.4 761.0,599.3 761.5,614.3 762.0,621.7 762.5,620.9 763.0,614.0 763.5,607.3 764.0,602.8 764.5,600.9 765.0,599.8 765.5,601.0 766.0,601.4 766.5,601.4 767.0,600.5 767.5,600.2 768.0,599.6 768.5,598.4 769.0,597.6 769.5,596.9 770.0,595.2 770.5,593.5 771.0,593.4 771.5,593.5 772.0,594.0 772.5,593.9 773.0,594.6 773.5,594.8 774.0,593.2 774.5,593.1 775.0,592.4 775.5,591.1 776.0,589.4 776.5,588.0 777.0,584.7 777.5,582.9 778.0,581.8 778.5,581.2 779.0,581.2 779.5,581.0 780.0,581.4 780.5,582.3 781.0,583.1 781.5,585.0 782.0,586.8 782.5,589.0 783.0,591.0 783.5,592.2 784.0,593.9 784.5,595.1 785.0,597.1 785.5,598.2 786.0,599.1 786.5,599.9 787.0,599.6 787.5,598.9 788.0,599.6 788.5,599.8 789.0,599.7 789.5,599.2 790.0,598.5 790.5,598.0 791.0,597.2 791.5,596.0 792.0,595.8 792.5,595.4 793.0,595.9 793.5,596.5 794.0,597.3 794.5,597.1 795.0,598.2 795.5,599.5 796.0,599.8 796.5,600.0 797.0,598.5 797.5,597.7 798.0,598.1 798.5,597.9 799.0,597.8 799.5,597.3 800.0,596.3 800.5,595.6 801.0,594.9 801.5,594.0 802.0,592.3 802.5,592.0 803.0,590.8 803.5,588.7 804.0,587.9 804.5,587.2 805.0,587.2 805.5,588.1 806.0,589.0 806.5,590.7 807.0,592.0 807.5,593.4 808.0,594.7 808.5,595.4 809.0,595.6 809.5,596.9 810.0,597.8 810.5,597.8 811.0,598.3 811.5,597.6 812.0,598.2 812.5,598.2 813.0,597.3 813.5,596.2 814.0,592.5 814.5,583.8 815.0,574.3 815.5,575.0 816.0,590.2 816.5,608.7 817.0,623.2 817.5,629.2 818.0,625.3 818.5,616.3 819.0,608.4 819.5,604.5 820.0,602.8 820.5,602.1 821.0,601.2 821.5,600.7 822.0,600.0 822.5,599.8 823.0,599.6 823.5,598.5 824.0,598.3 824.5,597.6 825.0,597.4 825.5,597.5 826.0,597.9 826.5,597.4 827.0,597.7 827.5,596.7 828.0,596.1 828.5,595.9 829.0,594.8 829.5,594.5 830.0,593.9 830.5,592.9 831.0,591.4 831.5,589.5 832.0,587.2 832.5,585.5 833.0,583.1 833.5,581.3 834.0,579.5 834.5,577.8 835.0,577.9 835.5,578.8 836.0,580.3 836.5,582.7 837.0,585.0 837.5,588.0 838.0,590.8 838.5,592.5 839.0,594.6 839.5,596.2 840.0,596.5 840.5,597.9 841.0,598.1 841.5,597.8 842.0,598.0 842.5,597.8 843.0,598.2 843.5,597.8 844.0,598.0 844.5,597.2 845.0,597.4 845.5,598.2 846.0,598.7 846.5,597.9 847.0,597.5 847.5,596.8 848.0,595.5 848.5,595.0 849.0,594.8 849.5,595.9 850.0,596.8 850.5,597.3 851.0,598.3 851.5,597.7 852.0,597.4 852.5,597.7 853.0,597.0 853.5,597.2 854.0,597.0 854.5,596.8 855.0,596.4 855.5,596.0 856.0,595.4 856.5,594.9 857.0,593.9 857.5,592.8 858.0,590.9 858.5,589.5 859.0,587.3 859.5,586.5 860.0,586.2 860.5,587.7 861.0,589.5 861.5,591.9 862.0,593.7 862.5,595.2 863.0,596.9 863.5,596.6 864.0,596.3 864.5,595.5 865.0,595.4 865.5,594.9 866.0,595.0 866.5,595.3 867.0,595.5 867.5,595.5 868.0,595.2 868.5,595.3 869.0,592.4 869.5,584.2 870.0,572.3 870.5,569.5 871.0,581.8 871.5,598.8 872.0,612.1 872.5,617.8 873.0,616.0 873.5,610.8 874.0,604.9 874.5,602.1 875.0,601.6 875.5,601.9 876.0,602.0 876.5,602.1 877.0,601.8 877.5,601.2 878.0,600.0 878.5,598.5 879.0,598.5 879.5,597.4 880.0,596.1 880.5,594.5 881.0,593.8 881.5,592.4 882.0,592.4 882.5,592.3 883.0,592.6 883.5,593.3 884.0,593.5 884.5,593.1 885.0,593.5 885.5,593.0 886.0,592.5 886.5,591.3 887.0,590.0 887.5,588.2 888.0,585.9 888.5,584.5 889.0,583.7 889.5,582.6 890.0,582.5 890.5,582.1 891.0,583.8 891.5,585.5 892.0,587.4 892.5,589.6 893.0,591.9 893.5,593.5 894.0,594.4 894.5,595.7 895.0,596.7 895.5,597.7 896.0,598.1 896.5,598.6 897.0,599.2 897.5,600.0 898.0,599.5 898.5,599.2 899.0,599.2 899.5,598.9 900.0,597.9 900.5,597.6 901.0,597.4 901.5,596.6 902.0,596.1 902.5,596.4 903.0,595.6 903.5,595.4 904.0,595.9 904.5,595.9 905.0,596.3 905.5,596.2 906.0,596.0 906.5,596.2 907.0,596.0 907.5,595.9 908.0,596.2 908.5,595.7 909.0,595.4 909.5,595.5 910.0,595.3 910.5,594.6 911.0,593.7 911.5,593.2 912.0,593.4 912.5,593.2 913.0,592.5 913.5,592.0 914.0,591.1 914.5,589.8 915.0,588.2 915.5,587.2 916.0,587.5 916.5,587.3 917.0,588.3 917.5,589.1 918.0,590.9 918.5,591.5 919.0,592.6 919.5,593.4 920.0,594.0 920.5,594.9 921.0,595.8 921.5,596.1 922.0,596.5 922.5,596.9 923.0,597.6 923.5,597.6 924.0,597.1 924.5,596.7 925.0,595.7 925.5,593.6 926.0,586.5 926.5,575.9 927.0,570.3 927.5,579.5 928.0,596.1 928.5,611.6 929.0,620.2 929.5,621.3 930.0,615.5 930.5,608.1 931.0,602.9 931.5,601.0 932.0,600.2 932.5,600.3 933.0,600.3 933.5,599.9 934.0,598.5 934.5,597.8 935.0,597.0 935.5,595.3 936.0,595.3 936.5,594.1 937.0,594.7 937.5,594.3 938.0,593.6 938.5,594.1 939.0,594.5 939.5,593.5 940.0,594.7 940.5,594.5 941.0,594.1 941.5,592.9 942.0,592.2 942.5,590.8 943.0,588.8 943.5,587.2 944.0,585.0 944.5,582.9 945.0,581.2 945.5,578.8 946.0,577.7 946.5,577.1 947.0,578.0 947.5,579.4 948.0,581.7 948.5,584.5 949.0,587.4 949.5,588.9 950.0,591.1 950.5,592.4 951.0,593.6 951.5,594.6 952.0,596.2 952.5,596.7 953.0,598.1 953.5,599.3 954.0,599.5 954.5,598.5 955.0,597.8 955.5,596.9 956.0,595.7 956.5,594.7 957.0,594.6 957.5,594.1 958.0,594.4 958.5,593.6 959.0,594.2 959.5,594.3 960.0,595.8 960.5,595.3 961.0,596.2 961.5,596.3 962.0,596.5 962.5,596.6 963.0,597.1 963.5,597.2 964.0,597.4 964.5,596.8 965.0,596.3 965.5,595.8 966.0,595.5 966.5,595.2 967.0,593.9 967.5,593.0 968.0,592.1 968.5,590.1 969.0,587.7 969.5,586.8 970.0,585.4 970.5,584.9 971.0,585.1 971.5,585.2 972.0,586.5 972.5,588.5 973.0,590.1 973.5,591.8 974.0,593.8 974.5,594.9 975.0,595.1 975.5,595.8 976.0,595.5 976.5,594.2 977.0,594.4 977.5,594.2 978.0,594.9 978.5,594.8 979.0,595.6 979.5,595.5 980.0,594.9 980.5,590.9 981.0,582.6 981.5,573.6 982.0,573.9 982.5,585.6 983.0,600.8 983.5,611.9 984.0,616.2 984.5,613.2 985.0,606.7 985.5,601.6 986.0,598.7 986.5,598.5 987.0,598.8 987.5,599.2 988.0,599.8 988.5,600.0 989.0,600.5 989.5,599.5 990.0,598.7 990.5,597.7 991.0,596.4 991.5,594.8 992.0,593.6 992.5,594.1 993.0,592.5 993.5,590.9 994.0,590.6 994.5,590.0 995.0,590.7 995.5,592.0 996.0,591.7 996.5,592.2 997.0,591.7 997.5,591.1 998.0,590.1 998.5,588.6 999.0,586.5 999.5,584.8 1000.0,582.7 1000.5,581.4 1001.0,580.0 1001.5,578.7 1002.0,579.0 1002.5,579.2 1003.0,582.0 1003.5,583.8 1004.0,587.0 1004.5,589.5 1005.0,591.8 1005.5,593.1 1006.0,595.7 1006.5,597.8 1007.0,598.5 1007.5,598.9 1008.0,599.0 1008.5,598.6 1009.0,597.1 1009.5,595.8 1010.0,594.5 1010.5,594.8 1011.0,595.1 1011.5,595.8 1012.0,596.6 1012.5,596.8 1013.0,597.4 1013.5,598.4 1014.0,597.9 1014.5,597.1 1015.0,597.4 1015.5,596.3 1016.0,595.7 1016.5,595.0 1017.0,595.3 1017.5,595.7 1018.0,594.9 1018.5,594.8 1019.0,594.2 1019.5,594.6 1020.0,595.1 1020.5,595.3 1021.0,596.2 1021.5,596.8 1022.0,597.6 1022.5,597.9 1023.0,597.6 1023.5,596.9 1024.0,597.3 1024.5,595.3 1025.0,593.1 1025.5,591.7 1026.0,589.2 1026.5,588.1 1027.0,586.2 1027.5,586.1 1028.0,586.1 1028.5,586.5 1029.0,588.8 1029.5,591.0 1030.0,592.8 1030.5,594.2 1031.0,595.4 1031.5,595.2 1032.0,595.6 1032.5,595.2 1033.0,594.9 1033.5,595.5 1034.0,594.5 1034.5,595.2 1035.0,594.3 1035.5,594.4 1036.0,595.6 1036.5,594.3 1037.0,591.9 1037.5,584.8 1038.0,576.8 1038.5,577.7 1039.0,589.7 1039.5,606.2 1040.0,618.8 1040.5,624.2 1041.0,620.7 1041.5,612.6 1042.0,605.9 1042.5,600.9 1043.0,599.0 1043.5,599.9 1044.0,599.4 1044.5,600.0 1045.0,600.1 1045.5,600.6 1046.0,600.1 1046.5,599.2 1047.0,598.4 1047.5,599.1 1048.0,597.7 1048.5,596.9 1049.0,595.3 1049.5,594.8 1050.0,594.2 1050.5,593.6 1051.0,592.7 1051.5,593.3 1052.0,593.5 1052.5,592.6 1053.0,592.2 1053.5,592.7 1054.0,591.6 1054.5,590.3 1055.0,589.5 1055.5,587.8 1056.0,585.1 1056.5,581.1 1057.0,579.4 1057.5,577.3 1058.0,576.4 1058.5,577.1 1059.0,577.9 1059.5,580.3 1060.0,582.1 1060.5,584.6 1061.0,588.4 1061.5,591.6 1062.0,593.8 1062.5,596.0 1063.0,598.5 1063.5,600.1 1064.0,600.0 1064.5,600.4 1065.0,600.1 1065.5,598.7 1066.0,598.1 1066.5,597.1 1067.0,596.9 1067.5,596.7 1068.0,595.9 1068.5,595.7 1069.0,594.9 1069.5,595.1 1070.0,595.6 1070.5,596.0 1071.0,595.9 1071.5,596.2 1072.0,596.8 1072.5,596.2 1073.0,596.0 1073.5,595.4 1074.0,595.4 1074.5,594.8 1075.0,594.9 1075.5,595.1 1076.0,596.3 1076.5,596.2 1077.0,596.1 1077.5,596.5 1078.0,597.1 1078.5,596.7 1079.0,595.3 1079.5,593.4 1080.0,592.0 1080.5,589.0 1081.0,586.8 1081.5,584.9 1082.0,584.4 1082.5,585.5 1083.0,587.0 1083.5,587.7 1084.0,590.2 1084.5,591.6 1085.0,593.7 1085.5,594.2 1086.0,594.2 1086.5,594.8 1087.0,594.6 1087.5,594.5 1088.0,594.7 1088.5,594.1 1089.0,593.8 1089.5,594.1 1090.0,595.8 1090.5,595.9 1091.0,596.9 1091.5,596.8 1092.0,594.4 1092.5,588.3 1093.0,579.4 1093.5,579.9 1094.0,591.6 1094.5,605.6 1095.0,616.9 1095.5,621.2 1096.0,618.6 1096.5,610.6 1097.0,603.8 1097.5,600.2 1098.0,600.4 1098.5,599.9 1099.0,599.4 1099.5,599.9 1100.0,600.5 1100.5,600.1 1101.0,600.1 1101.5,599.9 1102.0,598.3 1102.5,598.1 1103.0,596.5 1103.5,595.4 1104.0,594.2 1104.5,593.9 1105.0,593.5 1105.5,594.4 1106.0,594.9 1106.5,594.9 1107.0,595.1 1107.5,594.1 1108.0,592.7 1108.5,592.0 1109.0,590.2 1109.5,588.2 1110.0,586.8 1110.5,584.8 1111.0,583.5 1111.5,581.7 1112.0,580.4 1112.5,579.6 1113.0,579.4 1113.5,580.8 1114.0,581.8 1114.5,583.9 1115.0,586.1 1115.5,588.6 1116.0,590.1 1116.5,591.8 1117.0,593.7 1117.5,595.1 1118.0,595.6 1118.5,597.8 1119.0,598.7 1119.5,599.7 1120.0,599.5 1120.5,599.8 1121.0,599.6 1121.5,598.8 1122.0,598.9 1122.5,598.9 1123.0,597.9 1123.5,597.2 1124.0,596.9 1124.5,595.9 1125.0,595.5 1125.5,595.3 1126.0,596.0 1126.5,596.4 1127.0,596.7 1127.5,597.0 1128.0,598.0 1128.5,597.7 1129.0,597.3 1129.5,597.0 1130.0,597.1 1130.5,597.1 1131.0,596.8 1131.5,596.2 1132.0,596.1 1132.5,596.1 1133.0,595.5 1133.5,595.9 1134.0,595.8 1134.5,595.2 1135.0,595.0 1135.5,594.5 1136.0,593.8 1136.5,592.0 1137.0,590.9 1137.5,589.3 1138.0,588.3 1138.5,588.4 1139.0,588.9 1139.5,589.6 1140.0,590.6 1140.5,591.7 1141.0,593.5 1141.5,594.4 1142.0,594.7 1142.5,594.3 1143.0,595.2 1143.5,595.9 1144.0,596.3 1144.5,596.3 1145.0,596.6 1145.5,596.7 1146.0,597.3 1146.5,597.5 1147.0,597.8 1147.5,596.3 1148.0,589.7 1148.5,579.2 1149.0,572.7 1149.5,578.6 1150.0,593.2 1150.5,607.1 1151.0,613.8 1151.5,615.5 1152.0,611.6 1152.5,607.2 1153.0,603.4 1153.5,602.9 1154.0,602.5 1154.5,603.0 1155.0,603.3 1155.5,603.1 1156.0,602.6 1156.5,600.7 1157.0,599.7 1157.5,599.2 1158.0,596.7 1158.5,595.2 1159.0,594.7 1159.5,594.3 1160.0,594.0 1160.5,593.1 1161.0,594.2 1161.5,595.0 1162.0,595.0 1162.5,594.1 1163.0,594.4 1163.5,595.0 1164.0,594.4 1164.5,593.9 1165.0,593.4 1165.5,591.6 1166.0,590.0 1166.5,587.3 1167.0,585.6 1167.5,584.3 1168.0,582.7 1168.5,582.1 1169.0,582.1 1169.5,582.9 1170.0,584.1 1170.5,586.7 1171.0,589.1 1171.5,591.6 1172.0,593.9 1172.5,595.8 1173.0,598.1 1173.5,598.8 1174.0,599.8 1174.5,601.7 1175.0,601.3 1175.5,600.5 1176.0,599.7 1176.5,598.5 1177.0,598.2" fill="none" stroke="#1c1515" stroke-width="1.15" stroke-linejoin="round"/>
<polyline points="3.0,952.3 3.5,952.3 4.0,938.4 4.5,932.5 5.0,949.9 5.5,952.3 6.0,952.3 6.5,949.1 7.0,946.6 7.5,943.8 8.0,942.8 8.5,945.2 9.0,947.2 9.5,941.5 10.0,936.9 10.5,937.4 11.0,941.5 11.5,942.4 12.0,937.8 12.5,938.9 13.0,943.8 13.5,945.9 14.0,949.7 14.5,949.7 15.0,949.8 15.5,946.9 16.0,944.3 16.5,943.9 17.0,945.8 17.5,947.2 18.0,949.2 18.5,946.1 19.0,942.9 19.5,940.2 20.0,947.8 20.5,952.0 21.0,952.3 21.5,951.1 22.0,934.9 22.5,918.9 23.0,940.9 23.5,948.5 24.0,950.2 24.5,949.4 25.0,948.3 25.5,947.3 26.0,942.8 26.5,940.5 27.0,939.3 27.5,940.1 28.0,938.8 28.5,932.8 29.0,929.8 29.5,934.8 30.0,939.4 30.5,943.0 31.0,945.8 31.5,944.3 32.0,942.1 32.5,943.2 33.0,944.8 33.5,947.9 34.0,948.0 34.5,944.8 35.0,941.9 35.5,946.5 36.0,950.2 36.5,950.6 37.0,937.3 37.5,929.8 38.0,946.8 38.5,950.9 39.0,951.9 39.5,952.3 40.0,947.2 40.5,944.1 41.0,939.0 41.5,938.4 42.0,939.3 42.5,938.9 43.0,937.8 43.5,937.4 44.0,934.4 44.5,930.8 45.0,935.0 45.5,939.4 46.0,941.6 46.5,944.0 47.0,944.0 47.5,941.6 48.0,937.8 48.5,936.8 49.0,938.8 49.5,941.1 50.0,943.3 50.5,946.8 51.0,948.0 51.5,945.8 52.0,947.5 52.5,947.0 53.0,948.7 53.5,950.1 54.0,947.1 54.5,936.6 55.0,925.4 55.5,944.2 56.0,949.9 56.5,948.5 57.0,946.5 57.5,942.8 58.0,939.1 58.5,941.2 59.0,942.2 59.5,943.4 60.0,938.9 60.5,936.7 61.0,933.1 61.5,936.3 62.0,941.8 62.5,947.5 63.0,946.1 63.5,943.8 64.0,939.4 64.5,939.6 65.0,948.8 65.5,951.1 66.0,948.3 66.5,944.1 67.0,937.6 67.5,939.1 68.0,942.6 68.5,947.5 69.0,952.3 69.5,952.3 70.0,951.2 70.5,949.9 71.0,944.7 71.5,945.3 72.0,934.8 72.5,936.5 73.0,951.3 73.5,949.4 74.0,940.1 74.5,940.1 75.0,941.7 75.5,943.5 76.0,944.9 76.5,942.9 77.0,939.2 77.5,934.2 78.0,931.0 78.5,935.9 79.0,940.1 79.5,943.1 80.0,939.5 80.5,934.8 81.0,938.8 81.5,943.0 82.0,946.6 82.5,941.2 83.0,937.4 83.5,938.7 84.0,943.2 84.5,949.1 85.0,952.3 85.5,952.3 86.0,948.8 86.5,946.6 87.0,934.0 87.5,933.7 88.0,948.3 88.5,952.3 89.0,952.3 89.5,947.9 90.0,945.7 90.5,941.8 91.0,943.2 91.5,940.8 92.0,939.6 92.5,936.4 93.0,934.4 93.5,933.8 94.0,937.4 94.5,941.6 95.0,942.5 95.5,942.3 96.0,941.9 96.5,947.3 97.0,951.7 97.5,950.3 98.0,945.4 98.5,937.1 99.0,944.9 99.5,952.3 100.0,948.8 100.5,944.4 101.0,939.6 101.5,941.8 102.0,944.3 102.5,951.0 103.0,952.3 103.5,952.3 104.0,951.7 104.5,929.3 105.0,928.7 105.5,952.3 106.0,952.3 106.5,951.5 107.0,947.1 107.5,946.4 108.0,946.2 108.5,942.9 109.0,938.3 109.5,934.9 110.0,931.7 110.5,932.9 111.0,936.1 111.5,940.9 112.0,944.3 112.5,944.6 113.0,939.9 113.5,941.0 114.0,947.1 114.5,952.2 115.0,951.4 115.5,947.8 116.0,942.1 116.5,942.2 117.0,945.1 117.5,946.1 118.0,948.0 118.5,946.0 119.0,941.8 119.5,944.3 120.0,950.4 120.5,952.1 121.0,945.6 121.5,930.2 122.0,944.4 122.5,952.3 123.0,952.3 123.5,952.3 124.0,952.3 124.5,948.0 125.0,941.8 125.5,942.4 126.0,942.6 126.5,941.6 127.0,934.7 127.5,929.6 128.0,934.0 128.5,938.6 129.0,943.6 129.5,949.3 130.0,948.7 130.5,944.3 131.0,942.0 131.5,936.3 132.0,936.9 132.5,939.8 133.0,944.7 133.5,951.2 134.0,952.3 134.5,952.3 135.0,951.8 135.5,950.6 136.0,949.0 136.5,939.3 137.0,928.1 137.5,946.9 138.0,952.3 138.5,951.1 139.0,945.4 139.5,946.4 140.0,947.4 140.5,950.5 141.0,950.0 141.5,942.6 142.0,939.4 142.5,938.9 143.0,944.0 143.5,944.2 144.0,942.1 144.5,943.6 145.0,941.4 145.5,945.1 146.0,951.2 146.5,952.3 147.0,952.3 147.5,951.5 148.0,948.3 148.5,948.1 149.0,951.3 149.5,952.3 150.0,950.6 150.5,946.8 151.0,948.4 151.5,952.3 152.0,952.3 152.5,952.3 153.0,952.3 153.5,950.5 154.0,933.1 154.5,936.2 155.0,952.3 155.5,952.3 156.0,952.3 156.5,951.1 157.0,949.2 157.5,943.3 158.0,943.3 158.5,945.1 159.0,944.1 159.5,944.9 160.0,943.7 160.5,940.0 161.0,941.0 161.5,943.4 162.0,950.6 162.5,951.6 163.0,947.7 163.5,941.9 164.0,946.1 164.5,951.7 165.0,952.3 165.5,952.3 166.0,951.1 166.5,947.1 167.0,948.7 167.5,949.6 168.0,950.1 168.5,952.2 169.0,952.3 169.5,952.3 170.0,951.7 170.5,952.3 171.0,950.6 171.5,930.4 172.0,946.1 172.5,952.3 173.0,952.3 173.5,952.3 174.0,950.8 174.5,947.2 175.0,939.7 175.5,937.1 176.0,939.1 176.5,943.0 177.0,943.3 177.5,942.1 178.0,937.5 178.5,936.9 179.0,938.8 179.5,943.5 180.0,946.9 180.5,950.8 181.0,949.4 181.5,944.5 182.0,946.0 182.5,947.5 183.0,951.4 183.5,949.2 184.0,948.6 184.5,946.1 185.0,949.8 185.5,952.3 186.0,952.3 186.5,952.3 187.0,949.8 187.5,937.4 188.0,949.5 188.5,952.3 189.0,952.3 189.5,950.9 190.0,950.3 190.5,949.4 191.0,948.0 191.5,948.0 192.0,949.8 192.5,950.6 193.0,946.2 193.5,942.3 194.0,939.2 194.5,944.1 195.0,948.2 195.5,952.0 196.0,949.9 196.5,947.2 197.0,945.0 197.5,948.0 198.0,949.2 198.5,950.6 199.0,949.0 199.5,946.9 200.0,945.7 200.5,945.1 201.0,947.2 201.5,945.8 202.0,947.1 202.5,951.7 203.0,949.1 203.5,943.8 204.0,945.6 204.5,936.3 205.0,939.6 205.5,952.3 206.0,952.3 206.5,947.0 207.0,949.1 207.5,950.5 208.0,952.3 208.5,951.4 209.0,945.9 209.5,941.3 210.0,941.8 210.5,945.4 211.0,946.7 211.5,947.9 212.0,947.8 212.5,944.9 213.0,943.4 213.5,941.3 214.0,945.0 214.5,945.9 215.0,951.2 215.5,952.3 216.0,952.3 216.5,952.3 217.0,952.3 217.5,952.3 218.0,952.3 218.5,952.3 219.0,952.3 219.5,951.3 220.0,925.8 220.5,928.3 221.0,951.1 221.5,952.3 222.0,952.3 222.5,952.3 223.0,952.3 223.5,949.9 224.0,944.5 224.5,939.8 225.0,936.5 225.5,940.1 226.0,945.2 226.5,941.9 227.0,939.7 227.5,940.2 228.0,937.9 228.5,940.6 229.0,945.4 229.5,948.6 230.0,952.0 230.5,951.4 231.0,945.8 231.5,942.6 232.0,940.4 232.5,945.6 233.0,950.2 233.5,952.3 234.0,952.3 234.5,952.3 235.0,952.3 235.5,951.6 236.0,951.8 236.5,947.7 237.0,943.7 237.5,952.3 238.0,952.3 238.5,948.2 239.0,950.5 239.5,951.7 240.0,952.3 240.5,951.4 241.0,948.6 241.5,942.7 242.0,942.4 242.5,944.1 243.0,947.0 243.5,944.7 244.0,940.7 244.5,940.0 245.0,942.1 245.5,946.5 246.0,949.1 246.5,951.5 247.0,951.7 247.5,950.2 248.0,945.2 248.5,946.5 249.0,948.7 249.5,952.3 250.0,952.3 250.5,952.3 251.0,949.4 251.5,949.8 252.0,952.3 252.5,951.8 253.0,943.1 253.5,935.4 254.0,952.3 254.5,952.3 255.0,947.3 255.5,945.1 256.0,947.0 256.5,949.6 257.0,946.9 257.5,943.0 258.0,940.4 258.5,936.5 259.0,938.1 259.5,940.6 260.0,944.6 260.5,939.9 261.0,937.6 261.5,940.2 262.0,943.8 262.5,947.8 263.0,950.4 263.5,947.4 264.0,945.3 264.5,943.5 265.0,941.4 265.5,944.4 266.0,946.5 266.5,950.9 267.0,951.0 267.5,949.1 268.0,949.5 268.5,946.2 269.0,950.1 269.5,952.3 270.0,947.6 270.5,930.1 271.0,936.5 271.5,952.3 272.0,952.3 272.5,952.3 273.0,950.0 273.5,947.4 274.0,947.3 274.5,946.2 275.0,944.2 275.5,940.1 276.0,934.8 276.5,937.4 277.0,941.3 277.5,944.3 278.0,944.5 278.5,943.1 279.0,940.3 279.5,940.8 280.0,944.0 280.5,946.3 281.0,947.8 281.5,947.6 282.0,945.7 282.5,941.7 283.0,940.4 283.5,943.3 284.0,949.6 284.5,952.3 285.0,952.3 285.5,948.8 286.0,951.0 286.5,952.3 287.0,952.3 287.5,949.5 288.0,933.1 288.5,938.0 289.0,951.3 289.5,952.3 290.0,952.3 290.5,950.3 291.0,942.9 291.5,944.1 292.0,942.3 292.5,946.2 293.0,951.1 293.5,941.7 294.0,933.2 294.5,937.5 295.0,941.4 295.5,946.3 296.0,942.9 296.5,940.4 297.0,936.6 297.5,939.0 298.0,942.5 298.5,946.3 299.0,946.9 299.5,945.5 300.0,942.1 300.5,939.6 301.0,942.7 301.5,948.8 302.0,952.3 302.5,951.0 303.0,946.0 303.5,939.8 304.0,926.2 304.5,945.2 305.0,952.3 305.5,950.3 306.0,943.5 306.5,949.8 307.0,952.3 307.5,951.8 308.0,948.5 308.5,941.7 309.0,936.9 309.5,936.1 310.0,938.4 310.5,942.5 311.0,943.6 311.5,943.8 312.0,946.0 312.5,948.2 313.0,951.4 313.5,952.3 314.0,952.3 314.5,952.2 315.0,950.1 315.5,948.5 316.0,945.8 316.5,946.3 317.0,952.3 317.5,952.3 318.0,952.3 318.5,952.3 319.0,952.3 319.5,950.1 320.0,946.7 320.5,944.6 321.0,933.3 321.5,944.5 322.0,950.7 322.5,947.1 323.0,948.7 323.5,950.7 324.0,951.8 324.5,952.3 325.0,952.3 325.5,948.6 326.0,944.4 326.5,942.0 327.0,940.8 327.5,942.2 328.0,945.8 328.5,943.2 329.0,945.9 329.5,946.7 330.0,947.9 330.5,951.2 331.0,950.1 331.5,946.7 332.0,945.4 332.5,948.0 333.0,952.3 333.5,952.3 334.0,952.3 334.5,948.6 335.0,947.0 335.5,949.1 336.0,952.3 336.5,943.6 337.0,929.8 337.5,945.3 338.0,951.1 338.5,950.4 339.0,949.1 339.5,951.4 340.0,948.4 340.5,942.6 341.0,939.2 341.5,937.9 342.0,941.2 342.5,943.8 343.0,945.4 343.5,944.9 344.0,943.1 344.5,942.4 345.0,943.7 345.5,947.3 346.0,951.8 346.5,952.3 347.0,948.8 347.5,944.3 348.0,939.0 348.5,940.7 349.0,943.0 349.5,945.1 350.0,946.7 350.5,944.7 351.0,945.9 351.5,948.6 352.0,952.3 352.5,952.3 353.0,952.3 353.5,945.6 354.0,921.0 354.5,931.2 355.0,952.3 355.5,952.3 356.0,951.3 356.5,944.9 357.0,942.6 357.5,944.5 358.0,945.4 358.5,947.4 359.0,942.2 359.5,936.4 360.0,936.0 360.5,933.5 361.0,935.1 361.5,941.8 362.0,944.3 362.5,943.3 363.0,942.0 363.5,941.0 364.0,945.4 364.5,947.0 365.0,948.9 365.5,952.3 366.0,952.3 366.5,952.3 367.0,952.3 367.5,952.0 368.0,952.3 368.5,952.3 369.0,946.5 369.5,925.3 370.0,939.9 370.5,951.3 371.0,952.3 371.5,952.3 372.0,952.3 372.5,949.9 373.0,942.6 373.5,942.0 374.0,947.3 374.5,952.0 375.0,947.8 375.5,943.0 376.0,940.0 376.5,938.0 377.0,944.1 377.5,949.6 378.0,951.7 378.5,948.5 379.0,947.0 379.5,947.1 380.0,950.4 380.5,950.8 381.0,952.3 381.5,952.3 382.0,949.3 382.5,946.5 383.0,948.4 383.5,951.3 384.0,952.3 384.5,952.3 385.0,951.2 385.5,947.1 386.0,943.0 386.5,938.8 387.0,952.3 387.5,952.3 388.0,952.3 388.5,948.5 389.0,950.4 389.5,951.9 390.0,949.7 390.5,945.1 391.0,941.8 391.5,936.7 392.0,936.7 392.5,940.5 393.0,944.1 393.5,943.5 394.0,942.7 394.5,941.5 395.0,942.4 395.5,946.7 396.0,947.8 396.5,949.8 397.0,945.2 397.5,941.7 398.0,944.8 398.5,945.7 399.0,945.2 399.5,948.3 400.0,948.5 400.5,948.5 401.0,949.0 401.5,950.4 402.0,952.3 402.5,952.3 403.0,952.3 403.5,936.3 404.0,924.2 404.5,945.6 405.0,952.3 405.5,952.3 406.0,951.6 406.5,948.1 407.0,942.7 407.5,936.2 408.0,940.8 408.5,941.0 409.0,942.9 409.5,942.3 410.0,938.9 410.5,936.3 411.0,936.7 411.5,943.7 412.0,948.6 412.5,946.8 413.0,947.1 413.5,945.1 414.0,945.0 414.5,946.2 415.0,948.5 415.5,948.5 416.0,950.6 416.5,947.9 417.0,947.2 417.5,947.2 418.0,950.2 418.5,952.3 419.0,950.9 419.5,949.5 420.0,940.8 420.5,919.3 421.0,937.5 421.5,952.3 422.0,952.3 422.5,951.9 423.0,947.6 423.5,942.9 424.0,936.6 424.5,939.8 425.0,942.2 425.5,943.9 426.0,939.9 426.5,937.7 427.0,939.1 427.5,938.7 428.0,941.0 428.5,943.4 429.0,946.9 429.5,948.4 430.0,945.7 430.5,942.4 431.0,940.6 431.5,945.7 432.0,947.8 432.5,949.2 433.0,947.7 433.5,948.5 434.0,949.5 434.5,952.3 435.0,952.3 435.5,952.3 436.0,949.1 436.5,932.1 437.0,941.2 437.5,949.9 438.0,952.1 438.5,952.0 439.0,948.1 439.5,942.7 440.0,936.8 440.5,939.4 441.0,943.7 441.5,940.5 442.0,939.5 442.5,938.6 443.0,938.6 443.5,939.7 444.0,943.0 444.5,946.0 445.0,945.9 445.5,944.4 446.0,941.4 446.5,939.9 447.0,941.3 447.5,944.8 448.0,948.4 448.5,947.3 449.0,946.3 449.5,946.1 450.0,949.2 450.5,951.9 451.0,952.3 451.5,952.3 452.0,942.5 452.5,921.6 453.0,940.1 453.5,948.8 454.0,951.2 454.5,951.6 455.0,952.3 455.5,950.9 456.0,947.1 456.5,945.6 457.0,945.6 457.5,945.0 458.0,943.9 458.5,940.8 459.0,939.9 459.5,936.5 460.0,939.0 460.5,946.9 461.0,950.3 461.5,952.3 462.0,952.3 462.5,951.8 463.0,951.1 463.5,949.5 464.0,950.2 464.5,952.0 465.0,952.3 465.5,952.3 466.0,952.3 466.5,950.5 467.0,950.7 467.5,950.7 468.0,952.3 468.5,952.3 469.0,952.3 469.5,944.8 470.0,952.3 470.5,952.3 471.0,952.3 471.5,952.3 472.0,952.3 472.5,950.9 473.0,947.6 473.5,951.5 474.0,952.3 474.5,948.9 475.0,942.7 475.5,942.5 476.0,947.9 476.5,952.0 477.0,952.3 477.5,950.6 478.0,944.9 478.5,949.7 479.0,952.3 479.5,952.3 480.0,952.2 480.5,950.3 481.0,946.4 481.5,947.5 482.0,952.3 482.5,952.3 483.0,952.3 483.5,950.4 484.0,948.1 484.5,952.3 485.0,952.3 485.5,941.8 486.0,926.0 486.5,946.2 487.0,952.3 487.5,952.3 488.0,952.3 488.5,952.3 489.0,951.8 489.5,947.3 490.0,941.5 490.5,945.7 491.0,945.4 491.5,949.5 492.0,945.8 492.5,943.8 493.0,942.9 493.5,943.1 494.0,946.2 494.5,947.6 495.0,951.4 495.5,947.8 496.0,943.5 496.5,945.6 497.0,947.8 497.5,951.0 498.0,952.3 498.5,952.3 499.0,951.8 499.5,946.3 500.0,942.5 500.5,946.9 501.0,951.4 501.5,952.3 502.0,951.7 502.5,930.4 503.0,932.6 503.5,949.6 504.0,952.1 504.5,952.3 505.0,952.3 505.5,950.1 506.0,944.6 506.5,945.7 507.0,942.9 507.5,941.4 508.0,939.5 508.5,936.4 509.0,936.9 509.5,937.7 510.0,940.2 510.5,941.1 511.0,947.0 511.5,946.4 512.0,945.8 512.5,944.9 513.0,945.8 513.5,948.0 514.0,948.1 514.5,947.3 515.0,946.2 515.5,945.6 516.0,944.4 516.5,944.7 517.0,947.5 517.5,947.8 518.0,950.9 518.5,952.3 519.0,951.4 519.5,949.4 520.0,939.2 520.5,937.2 521.0,952.3 521.5,952.3 522.0,952.3 522.5,948.5 523.0,945.3 523.5,946.2 524.0,946.0 524.5,949.1 525.0,943.9 525.5,942.3 526.0,939.4 526.5,937.2 527.0,940.9 527.5,945.8 528.0,947.2 528.5,944.9 529.0,942.8 529.5,946.8 530.0,952.2 530.5,951.0 531.0,950.4 531.5,948.6 532.0,950.0 532.5,948.5 533.0,952.3 533.5,952.3 534.0,952.3 534.5,952.3 535.0,952.3 535.5,934.5 536.0,936.5 536.5,952.3 537.0,952.3 537.5,952.3 538.0,952.3 538.5,952.3 539.0,951.8 539.5,951.8 540.0,949.6 540.5,944.4 541.0,936.7 541.5,936.6 542.0,938.8 542.5,942.1 543.0,946.9 543.5,950.4 544.0,946.7 544.5,943.5 545.0,946.1 545.5,952.3 546.0,952.3 546.5,952.3 547.0,952.3 547.5,951.8 548.0,947.7 548.5,950.4 549.0,951.2 549.5,952.3 550.0,952.3 550.5,952.3 551.0,952.3 551.5,952.3 552.0,952.3 552.5,952.3 553.0,951.6 553.5,934.2 554.0,941.6 554.5,952.3 555.0,952.3 555.5,952.3 556.0,952.3 556.5,952.3 557.0,952.3 557.5,952.3 558.0,950.3 558.5,947.7 559.0,943.5 559.5,946.5 560.0,947.1 560.5,946.5 561.0,948.0 561.5,946.8 562.0,950.1 562.5,952.2 563.0,952.3 563.5,952.3 564.0,952.3 564.5,947.8 565.0,946.4 565.5,951.3 566.0,952.3 566.5,952.3 567.0,952.3 567.5,952.3 568.0,951.7 568.5,948.7 569.0,952.3 569.5,952.3 570.0,940.1 570.5,934.9 571.0,950.6 571.5,952.3 572.0,952.3 572.5,952.3 573.0,950.5 573.5,947.7 574.0,945.5 574.5,945.2 575.0,948.6 575.5,947.5 576.0,944.2 576.5,939.9 577.0,938.9 577.5,942.7 578.0,946.6 578.5,951.2 579.0,952.3 579.5,952.3 580.0,948.6 580.5,949.0 581.0,948.6 581.5,952.3 582.0,952.3 582.5,952.3 583.0,952.3 583.5,952.3 584.0,952.3 584.5,950.5 585.0,928.9 585.5,937.3 586.0,952.3 586.5,952.3 587.0,952.3 587.5,952.3 588.0,951.5 588.5,952.3 589.0,951.0 589.5,951.2 590.0,948.1 590.5,944.9 591.0,942.3 591.5,941.3 592.0,943.5 592.5,948.9 593.0,950.9 593.5,951.2 594.0,951.0 594.5,952.3 595.0,952.3 595.5,952.3 596.0,952.3 596.5,952.3 597.0,952.3 597.5,948.6 598.0,952.3 598.5,952.3 599.0,952.3 599.5,950.7 600.0,949.9 600.5,949.1 601.0,952.3 601.5,952.3 602.0,947.4 602.5,927.6 603.0,946.3 603.5,951.3 604.0,950.1 604.5,951.6 605.0,951.9 605.5,952.3 606.0,950.8 606.5,946.3 607.0,943.4 607.5,947.1 608.0,951.1 608.5,950.0 609.0,946.0 609.5,943.0 610.0,942.9 610.5,946.1 611.0,949.5 611.5,952.3 612.0,952.3 612.5,952.3 613.0,952.3 613.5,949.6 614.0,948.7 614.5,949.6 615.0,951.0 615.5,952.3 616.0,952.3 616.5,952.3 617.0,952.3 617.5,952.3 618.0,952.3 618.5,952.3 619.0,943.8 619.5,938.4 620.0,952.3 620.5,952.3 621.0,952.2 621.5,948.1 622.0,952.1 622.5,952.3 623.0,948.6 623.5,943.9 624.0,939.9 624.5,943.2 625.0,943.5 625.5,941.2 626.0,938.3 626.5,937.6 627.0,942.1 627.5,950.7 628.0,950.1 628.5,947.5 629.0,947.6 629.5,948.0 630.0,951.5 630.5,950.2 631.0,950.0 631.5,951.6 632.0,951.0 632.5,949.5 633.0,951.3 633.5,952.3 634.0,952.3 634.5,945.3 635.0,929.3 635.5,945.2 636.0,952.3 636.5,952.3 637.0,951.4 637.5,952.3 638.0,951.4 638.5,950.1 639.0,943.6 639.5,940.9 640.0,938.0 640.5,937.7 641.0,940.4 641.5,943.7 642.0,945.7 642.5,944.8 643.0,944.9 643.5,946.4 644.0,948.9 644.5,951.3 645.0,952.3 645.5,952.3 646.0,951.8 646.5,948.2 647.0,945.0 647.5,947.4 648.0,948.1 648.5,950.0 649.0,951.4 649.5,949.4 650.0,952.3 650.5,952.3 651.0,952.3 651.5,952.3 652.0,938.0 652.5,933.5 653.0,951.6 653.5,952.3 654.0,952.3 654.5,951.4 655.0,950.6 655.5,951.2 656.0,945.7 656.5,940.3 657.0,937.1 657.5,934.9 658.0,938.4 658.5,941.4 659.0,944.6 659.5,943.2 660.0,942.4 660.5,942.3 661.0,944.9 661.5,945.7 662.0,950.7 662.5,949.7 663.0,947.0 663.5,943.2 664.0,945.9 664.5,949.0 665.0,947.6 665.5,945.8 666.0,945.1 666.5,946.1 667.0,952.2 667.5,952.3 668.0,952.3 668.5,951.4 669.0,952.3 669.5,946.3 670.0,940.2 670.5,950.5 671.0,952.3 671.5,950.6 672.0,946.4 672.5,945.3 673.0,948.0 673.5,949.6 674.0,950.0 674.5,945.0 675.0,937.0 675.5,938.2 676.0,941.2 676.5,943.4 677.0,944.1 677.5,946.9 678.0,943.0 678.5,938.2 679.0,940.7 679.5,943.5 680.0,946.2 680.5,948.5 681.0,947.5 681.5,946.5 682.0,947.5 682.5,952.1 683.0,952.3 683.5,952.3 684.0,952.3 684.5,945.2 685.0,933.2 685.5,947.4 686.0,952.3 686.5,952.3 687.0,952.3 687.5,948.8 688.0,943.8 688.5,943.7 689.0,943.9 689.5,944.4 690.0,946.5 690.5,945.1 691.0,940.4 691.5,935.2 692.0,937.3 692.5,942.7 693.0,945.3 693.5,951.9 694.0,951.6 694.5,947.5 695.0,942.3 695.5,948.0 696.0,949.9 696.5,946.8 697.0,941.3 697.5,940.2 698.0,943.9 698.5,948.6 699.0,952.3 699.5,952.3 700.0,952.3 700.5,949.6 701.0,949.1 701.5,947.5 702.0,947.8 702.5,938.9 703.0,946.6 703.5,949.9 704.0,947.2 704.5,946.8 705.0,951.4 705.5,949.2 706.0,942.9 706.5,939.8 707.0,939.1 707.5,940.5 708.0,941.8 708.5,940.6 709.0,938.7 709.5,939.7 710.0,938.7 710.5,944.6 711.0,950.9 711.5,949.4 712.0,945.6 712.5,940.9 713.0,937.6 713.5,939.1 714.0,945.2 714.5,948.4 715.0,947.5 715.5,947.1 716.0,947.1 716.5,943.4 717.0,944.9 717.5,948.8 718.0,940.6 718.5,941.9 719.0,945.6 719.5,945.7 720.0,943.6 720.5,944.9 721.0,947.2 721.5,942.4 722.0,940.1 722.5,937.9 723.0,936.3 723.5,937.3 724.0,939.7 724.5,940.8 725.0,939.5 725.5,939.5 726.0,938.9 726.5,939.5 727.0,942.6 727.5,950.4 728.0,952.3 728.5,952.3 729.0,952.3 729.5,946.3 730.0,944.7 730.5,945.7 731.0,950.4 731.5,952.3 732.0,951.6 732.5,952.1 733.0,951.0 733.5,950.0 734.0,951.4 734.5,952.3 735.0,951.1 735.5,940.1 736.0,941.7 736.5,950.2 737.0,947.4 737.5,947.2 738.0,948.4 738.5,948.9 739.0,948.3 739.5,945.7 740.0,939.5 740.5,938.3 741.0,939.4 741.5,940.6 742.0,942.7 742.5,941.0 743.0,942.7 743.5,940.4 744.0,938.9 744.5,942.2 745.0,946.3 745.5,947.5 746.0,950.5 746.5,947.7 747.0,941.7 747.5,941.3 748.0,947.4 748.5,952.1 749.0,946.6 749.5,943.8 750.0,944.5 750.5,950.6 751.0,951.2 751.5,951.1 752.0,949.0 752.5,932.1 753.0,918.5 753.5,940.9 754.0,947.0 754.5,948.8 755.0,946.3 755.5,943.0 756.0,939.1 756.5,936.8 757.0,936.1 757.5,938.3 758.0,938.8 758.5,937.9 759.0,935.0 759.5,933.5 760.0,938.8 760.5,946.9 761.0,945.7 761.5,945.1 762.0,942.3 762.5,936.6 763.0,939.5 763.5,942.0 764.0,948.7 764.5,952.3 765.0,951.6 765.5,947.6 766.0,945.2 766.5,946.9 767.0,948.4 767.5,944.8 768.0,923.9 768.5,936.7 769.0,946.2 769.5,945.8 770.0,952.0 770.5,952.3 771.0,946.6 771.5,943.6 772.0,942.6 772.5,944.9 773.0,944.7 773.5,943.0 774.0,940.4 774.5,939.1 775.0,938.4 775.5,940.5 776.0,942.3 776.5,946.2 777.0,949.3 777.5,945.6 778.0,943.3 778.5,942.9 779.0,940.0 779.5,942.1 780.0,943.1 780.5,946.7 781.0,949.6 781.5,951.2 782.0,945.2 782.5,941.9 783.0,943.8 783.5,941.7 784.0,932.0 784.5,930.8 785.0,947.7 785.5,950.7 786.0,944.7 786.5,939.4 787.0,940.2 787.5,943.1 788.0,943.3 788.5,942.2 789.0,938.1 789.5,935.7 790.0,932.8 790.5,930.8 791.0,932.1 791.5,937.0 792.0,940.4 792.5,943.6 793.0,944.3 793.5,942.2 794.0,939.7 794.5,935.4 795.0,939.0 795.5,944.2 796.0,945.4 796.5,943.1 797.0,940.8 797.5,939.8 798.0,941.0 798.5,944.2 799.0,947.2 799.5,949.0 800.0,946.9 800.5,941.7 801.0,933.7 801.5,944.3 802.0,952.3 802.5,947.3 803.0,943.9 803.5,940.1 804.0,941.8 804.5,943.9 805.0,948.5 805.5,946.9 806.0,938.8 806.5,935.2 807.0,931.0 807.5,934.3 808.0,938.5 808.5,944.3 809.0,944.4 809.5,943.9 810.0,942.0 810.5,943.4 811.0,944.1 811.5,950.0 812.0,951.4 812.5,952.3 813.0,952.3 813.5,948.4 814.0,946.3 814.5,943.9 815.0,944.0 815.5,949.4 816.0,952.3 816.5,952.3 817.0,951.3 817.5,950.6 818.0,941.2 818.5,925.9 819.0,939.4 819.5,952.3 820.0,952.3 820.5,952.3 821.0,949.2 821.5,945.7 822.0,941.5 822.5,941.0 823.0,939.1 823.5,940.2 824.0,945.5 824.5,940.0 825.0,937.1 825.5,936.1 826.0,936.3 826.5,940.5 827.0,947.2 827.5,949.2 828.0,945.9 828.5,945.5 829.0,944.4 829.5,943.9 830.0,948.4 830.5,949.9 831.0,952.3 831.5,952.3 832.0,952.3 832.5,948.5 833.0,948.0 833.5,946.3 834.0,930.3 834.5,940.4 835.0,951.4 835.5,948.8" fill="none" stroke="#111" stroke-width="1.6" stroke-linejoin="round"/><polyline points="842.5,941.8 843.0,945.6 843.5,948.2 844.0,949.8 844.5,947.2 845.0,945.4 845.5,942.7 846.0,942.5 846.5,943.8 847.0,946.4 847.5,947.4 848.0,947.7 848.5,947.2 849.0,945.1 849.5,947.2 850.0,947.1 850.5,936.2 851.0,929.7 851.5,947.4 852.0,952.2 852.5,947.8 853.0,947.3 853.5,947.2 854.0,948.9 854.5,952.3 855.0,948.0 855.5,942.2 856.0,937.5 856.5,936.7 857.0,937.5 857.5,941.3 858.0,941.6 858.5,941.9 859.0,942.1 859.5,946.8 860.0,950.7 860.5,952.3 861.0,950.7 861.5,949.9 862.0,945.9 862.5,946.9 863.0,951.3 863.5,952.3 864.0,952.3 864.5,950.6 865.0,946.2 865.5,944.9 866.0,949.5 866.5,952.3 867.0,952.3 867.5,952.3 868.0,935.8 868.5,928.6 869.0,947.5 869.5,949.6 870.0,947.8 870.5,949.5 871.0,949.9 871.5,952.3 872.0,951.6 872.5,947.6 873.0,943.3 873.5,939.0 874.0,936.7 874.5,940.0 875.0,945.0 875.5,947.0 876.0,946.4 876.5,944.4 877.0,946.7 877.5,947.1 878.0,948.2 878.5,952.3 879.0,950.0 879.5,946.7 880.0,944.8 880.5,946.6 881.0,951.7 881.5,952.3 882.0,952.3 882.5,952.3 883.0,951.9 883.5,952.3 884.0,952.3 884.5,952.3 885.0,951.9 885.5,935.1 886.0,938.2 886.5,952.3 887.0,952.3 887.5,952.3 888.0,952.3 888.5,952.3 889.0,951.9 889.5,948.4 890.0,949.1 890.5,950.9 891.0,950.5 891.5,952.3 892.0,948.3 892.5,946.4 893.0,944.3 893.5,941.6 894.0,946.4 894.5,950.8 895.0,952.3 895.5,952.2 896.0,951.5 896.5,949.6 897.0,949.1 897.5,952.3 898.0,952.3 898.5,952.3 899.0,952.3 899.5,952.3 900.0,951.2 900.5,951.9 901.0,937.3 901.5,931.0 902.0,952.1 902.5,952.3 903.0,952.3 903.5,952.3 904.0,952.3 904.5,951.0 905.0,948.6 905.5,945.8 906.0,941.1 906.5,942.5 907.0,943.8 907.5,945.1 908.0,949.8 908.5,946.6 909.0,944.7 909.5,943.9 910.0,950.3 910.5,951.9 911.0,952.3 911.5,950.0 912.0,945.7 912.5,950.3 913.0,952.3 913.5,951.4 914.0,949.7 914.5,949.0 915.0,951.9 915.5,952.3 916.0,952.3 916.5,952.3 917.0,952.3 917.5,937.5 918.0,928.4 918.5,952.3 919.0,952.3 919.5,952.3 920.0,950.6 920.5,942.5 921.0,943.3 921.5,945.9 922.0,948.0 922.5,948.8 923.0,944.1 923.5,938.1 924.0,935.1 924.5,942.3 925.0,945.8 925.5,948.3 926.0,946.7 926.5,946.5 927.0,945.3 927.5,947.0 928.0,948.2 928.5,952.2 929.0,952.3 929.5,950.3 930.0,943.6 930.5,943.1 931.0,944.3 931.5,948.1 932.0,949.3 932.5,952.3 933.0,952.0 933.5,949.9 934.0,946.0 934.5,944.3 935.0,939.9 935.5,952.3 936.0,952.3 936.5,952.3 937.0,949.0 937.5,949.1 938.0,952.3 938.5,952.0 939.0,943.2 939.5,937.4 940.0,940.7 940.5,939.9 941.0,939.6 941.5,939.7 942.0,939.5 942.5,939.0 943.0,943.8 943.5,946.1 944.0,949.3 944.5,950.7 945.0,947.4 945.5,944.2 946.0,945.5 946.5,950.0 947.0,952.3 947.5,952.2 948.0,951.7 948.5,951.2 949.0,949.1 949.5,948.5 950.0,942.2 950.5,929.3 951.0,947.9 951.5,952.3 952.0,949.7 952.5,946.4 953.0,943.5 953.5,944.5 954.0,945.6 954.5,946.9 955.0,946.6 955.5,935.6 956.0,931.9 956.5,937.2 957.0,944.4 957.5,946.5 958.0,942.9 958.5,941.8 959.0,946.7 959.5,951.8 960.0,952.3 960.5,952.3 961.0,952.3 961.5,952.3 962.0,949.9 962.5,952.1 963.0,952.3 963.5,952.3 964.0,951.7 964.5,952.3 965.0,952.3 965.5,952.3 966.0,952.3 966.5,951.9 967.0,949.5 967.5,945.8 968.0,934.6 968.5,950.9 969.0,952.3 969.5,952.3 970.0,952.3 970.5,950.1 971.0,946.0 971.5,948.9 972.0,950.6 972.5,946.1 973.0,944.1 973.5,938.9 974.0,936.2 974.5,939.5 975.0,942.4 975.5,947.2 976.0,951.5 976.5,947.0 977.0,944.5 977.5,945.9 978.0,950.4 978.5,952.3 979.0,952.3 979.5,952.3 980.0,952.3 980.5,952.2 981.0,951.1 981.5,947.5 982.0,950.4 982.5,952.3 983.0,952.3 983.5,951.2 984.0,946.7 984.5,952.3 985.0,952.3 985.5,952.3 986.0,951.4 986.5,950.4 987.0,951.1 987.5,950.8 988.0,946.5 988.5,939.5 989.0,936.6 989.5,933.8 990.0,934.4 990.5,936.4 991.0,941.9 991.5,948.5 992.0,949.7 992.5,949.9 993.0,949.8 993.5,950.1 994.0,952.3 994.5,952.3 995.0,952.3 995.5,952.3 996.0,950.4 996.5,947.6 997.0,949.1 997.5,951.4 998.0,952.3 998.5,952.3 999.0,951.6 999.5,952.3 1000.0,952.3 1000.5,952.3 1001.0,949.0 1001.5,943.4 1002.0,952.0 1002.5,952.3 1003.0,952.3 1003.5,952.3 1004.0,952.3 1004.5,951.8 1005.0,948.1 1005.5,943.9 1006.0,943.0 1006.5,945.2 1007.0,947.4 1007.5,944.7 1008.0,940.5 1008.5,940.5 1009.0,943.3 1009.5,949.1 1010.0,952.3 1010.5,952.3 1011.0,948.3 1011.5,946.5 1012.0,950.9 1012.5,952.3 1013.0,952.3 1013.5,952.3 1014.0,951.6 1014.5,952.3 1015.0,952.3 1015.5,952.3 1016.0,952.3 1016.5,952.1 1017.0,952.3 1017.5,952.3 1018.0,952.3 1018.5,928.2 1019.0,939.5 1019.5,952.3 1020.0,952.3 1020.5,951.5 1021.0,950.1 1021.5,951.7 1022.0,951.1 1022.5,945.2 1023.0,942.9 1023.5,941.1 1024.0,942.7 1024.5,946.0 1025.0,949.9 1025.5,952.2 1026.0,946.4 1026.5,943.7 1027.0,944.3 1027.5,946.2 1028.0,949.7 1028.5,952.1 1029.0,950.5 1029.5,951.3 1030.0,951.1 1030.5,948.4 1031.0,952.3 1031.5,952.3 1032.0,952.3 1032.5,952.3 1033.0,944.7 1033.5,933.9 1034.0,951.4 1034.5,952.3 1035.0,952.3 1035.5,952.3 1036.0,948.8 1036.5,945.4 1037.0,947.0 1037.5,945.7 1038.0,947.4 1038.5,946.2 1039.0,941.9 1039.5,939.3 1040.0,936.8 1040.5,938.4 1041.0,942.6 1041.5,946.4 1042.0,948.8 1042.5,949.0 1043.0,949.3 1043.5,949.1 1044.0,949.3 1044.5,951.8 1045.0,952.3 1045.5,952.3 1046.0,951.5 1046.5,950.0 1047.0,949.8 1047.5,950.4 1048.0,950.9 1048.5,952.3 1049.0,952.3 1049.5,952.3 1050.0,952.3 1050.5,946.1 1051.0,931.7 1051.5,940.9 1052.0,952.3 1052.5,952.3 1053.0,952.1 1053.5,948.5 1054.0,947.1 1054.5,946.2 1055.0,949.9 1055.5,948.7 1056.0,944.5 1056.5,940.7 1057.0,936.1 1057.5,940.6 1058.0,948.3 1058.5,951.7 1059.0,950.1 1059.5,949.1 1060.0,949.0 1060.5,952.3 1061.0,952.3 1061.5,952.3 1062.0,950.7 1062.5,950.6 1063.0,952.1 1063.5,952.3 1064.0,952.3 1064.5,951.7 1065.0,952.2 1065.5,952.3 1066.0,952.3 1066.5,952.3 1067.0,951.6 1067.5,929.2 1068.0,929.1 1068.5,950.1 1069.0,952.3 1069.5,952.3 1070.0,952.3 1070.5,952.3 1071.0,948.5 1071.5,945.1 1072.0,939.9 1072.5,938.9 1073.0,942.0 1073.5,946.0 1074.0,941.1 1074.5,937.6 1075.0,937.7 1075.5,940.9 1076.0,945.5 1076.5,945.6 1077.0,944.5 1077.5,942.8 1078.0,942.3 1078.5,943.2 1079.0,949.4 1079.5,952.3 1080.0,952.3 1080.5,952.3 1081.0,951.5 1081.5,949.5 1082.0,952.3 1082.5,952.3 1083.0,940.9 1083.5,924.4 1084.0,947.1 1084.5,952.3 1085.0,952.3 1085.5,952.3 1086.0,952.3 1086.5,946.4 1087.0,942.6 1087.5,942.0 1088.0,943.6 1088.5,945.6 1089.0,945.5 1089.5,942.0 1090.0,938.1 1090.5,941.0 1091.0,944.2 1091.5,946.4 1092.0,948.5 1092.5,950.5 1093.0,948.0 1093.5,947.1 1094.0,945.5 1094.5,949.9 1095.0,952.3 1095.5,951.6 1096.0,949.7 1096.5,948.3 1097.0,947.4 1097.5,951.5 1098.0,952.3 1098.5,952.3 1099.0,952.3 1099.5,952.3 1100.0,934.8 1100.5,933.0 1101.0,950.2 1101.5,952.3 1102.0,952.3 1102.5,952.3 1103.0,950.5 1103.5,945.2 1104.0,938.9 1104.5,942.3 1105.0,940.8 1105.5,944.3 1106.0,945.2 1106.5,941.4 1107.0,942.0 1107.5,944.0 1108.0,943.4 1108.5,946.0 1109.0,948.7 1109.5,952.3 1110.0,951.2 1110.5,950.3 1111.0,947.2 1111.5,947.1 1112.0,945.4 1112.5,948.6 1113.0,948.1 1113.5,947.9 1114.0,945.3 1114.5,944.5 1115.0,944.3 1115.5,950.7 1116.0,952.3 1116.5,952.3 1117.0,951.5 1117.5,947.5 1118.0,923.8 1118.5,922.1 1119.0,951.5 1119.5,952.3 1120.0,948.6 1120.5,944.4 1121.0,947.7 1121.5,948.7 1122.0,947.6 1122.5,946.2 1123.0,943.9 1123.5,942.6 1124.0,938.4 1124.5,938.2 1125.0,939.4 1125.5,944.1 1126.0,945.3 1126.5,944.7 1127.0,941.6 1127.5,940.0 1128.0,939.3 1128.5,940.3 1129.0,942.8 1129.5,942.8 1130.0,945.3 1130.5,946.2 1131.0,945.9 1131.5,946.4 1132.0,945.0 1132.5,945.7 1133.0,948.6 1133.5,951.3 1134.0,950.8 1134.5,934.7 1135.0,920.0 1135.5,942.1 1136.0,952.3 1136.5,952.3 1137.0,950.5 1137.5,947.0 1138.0,941.6 1138.5,937.6 1139.0,936.2 1139.5,939.4 1140.0,944.6 1140.5,942.9 1141.0,939.6 1141.5,936.5 1142.0,941.5 1142.5,948.5 1143.0,948.4 1143.5,944.0 1144.0,942.5 1144.5,943.0 1145.0,942.9 1145.5,945.3 1146.0,947.3 1146.5,950.0 1147.0,948.2 1147.5,947.1 1148.0,945.1 1148.5,944.1 1149.0,948.0 1149.5,939.8 1150.0,941.5 1150.5,952.3 1151.0,952.3 1151.5,952.3 1152.0,947.2 1152.5,946.6 1153.0,945.3 1153.5,948.0 1154.0,945.3 1154.5,945.3 1155.0,941.2 1155.5,937.1 1156.0,934.3 1156.5,935.0 1157.0,939.6 1157.5,942.3 1158.0,945.6 1158.5,941.0 1159.0,939.6 1159.5,942.2 1160.0,943.7 1160.5,947.4 1161.0,949.2 1161.5,946.2 1162.0,946.5 1162.5,944.2 1163.0,945.9 1163.5,947.7 1164.0,952.2 1164.5,952.3 1165.0,950.6 1165.5,948.9 1166.0,947.6 1166.5,948.0 1167.0,939.6 1167.5,923.4 1168.0,944.8 1168.5,952.3 1169.0,952.3 1169.5,947.7 1170.0,943.5 1170.5,946.4 1171.0,945.8 1171.5,944.0 1172.0,943.5 1172.5,943.5 1173.0,940.1 1173.5,938.3 1174.0,939.6 1174.5,940.3 1175.0,944.4 1175.5,950.9 1176.0,950.2 1176.5,944.5 1177.0,946.2 1177.5,949.6 1178.0,952.3 1178.5,952.0 1179.0,946.3 1179.5,942.7 1180.0,946.2 1180.5,951.5 1181.0,952.3 1181.5,952.3 1182.0,952.3 1182.5,952.3 1183.0,952.2 1183.5,952.3 1184.0,950.0 1184.5,935.5 1185.0,945.2 1185.5,952.3 1186.0,952.3 1186.5,946.3 1187.0,947.2 1187.5,944.9 1188.0,947.5 1188.5,948.2 1189.0,944.4 1189.5,940.4 1190.0,934.2 1190.5,932.0 1191.0,934.3 1191.5,937.0 1192.0,943.7 1192.5,947.0 1193.0,950.3 1193.5,948.5 1194.0,943.5 1194.5,943.4 1195.0,945.2 1195.5,948.2 1196.0,952.3 1196.5,952.3 1197.0,950.3" fill="none" stroke="#111" stroke-width="1.6" stroke-linejoin="round"/><rect x="162" y="907" width="0.8" height="44" fill="#999"/>
<text x="8.9" y="547.5" font-size="54.5" fill="#000" textLength="36" lengthAdjust="spacingAndGlyphs">B</text>
</g>
</svg>
</body></html>
